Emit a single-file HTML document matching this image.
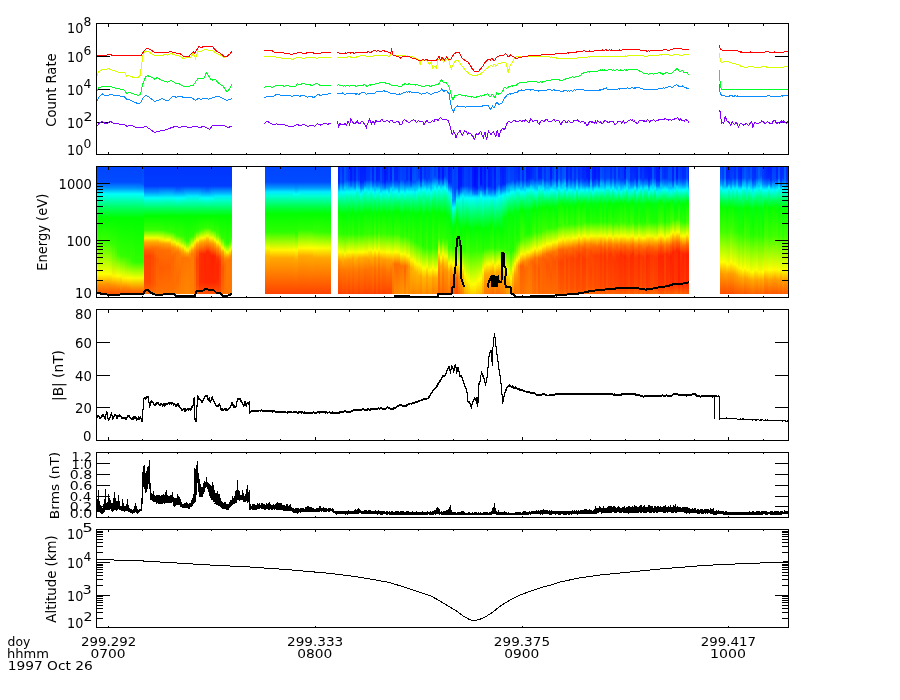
<!DOCTYPE html>
<html lang="en"><head><meta charset="utf-8"><title>1997 Oct 26 time series</title>
<style>html,body{margin:0;padding:0;background:#fff}svg{display:block}text{font-family:"DejaVu Sans","Liberation Sans",sans-serif;fill:#000}.y{font-size:13.7px}.s{font-size:12.35px}.e{font-size:12.6px}.x{font-size:12.35px}</style></head><body>
<svg width="900" height="700" viewBox="0 0 900 700">
<rect width="900" height="700" fill="#fff"/>
<defs><linearGradient id="g0" x1="0" y1="0" x2="0" y2="1"><stop offset="0" stop-color="#0044ff"/><stop offset="0.125" stop-color="#004bff"/><stop offset="0.172" stop-color="#0090ff"/><stop offset="0.219" stop-color="#00fff9"/><stop offset="0.328" stop-color="#00ff5c"/><stop offset="0.406" stop-color="#00ff00"/><stop offset="0.578" stop-color="#37ff00"/><stop offset="0.844" stop-color="#ffff00"/><stop offset="0.922" stop-color="#ff9400"/><stop offset="1" stop-color="#ff5300"/></linearGradient><linearGradient id="g1" x1="0" y1="0" x2="0" y2="1"><stop offset="0" stop-color="#0044ff"/><stop offset="0.125" stop-color="#004bff"/><stop offset="0.172" stop-color="#0090ff"/><stop offset="0.219" stop-color="#00fff9"/><stop offset="0.328" stop-color="#00ff5c"/><stop offset="0.406" stop-color="#00ff00"/><stop offset="0.578" stop-color="#35ff00"/><stop offset="0.844" stop-color="#ffff00"/><stop offset="0.922" stop-color="#ff9400"/><stop offset="1" stop-color="#ff5300"/></linearGradient><linearGradient id="g2" x1="0" y1="0" x2="0" y2="1"><stop offset="0" stop-color="#0044ff"/><stop offset="0.125" stop-color="#004bff"/><stop offset="0.172" stop-color="#0090ff"/><stop offset="0.219" stop-color="#00fff9"/><stop offset="0.328" stop-color="#00ff5c"/><stop offset="0.406" stop-color="#00ff00"/><stop offset="0.594" stop-color="#3eff00"/><stop offset="0.844" stop-color="#ffff00"/><stop offset="0.922" stop-color="#ff9400"/><stop offset="1" stop-color="#ff5300"/></linearGradient><linearGradient id="g3" x1="0" y1="0" x2="0" y2="1"><stop offset="0" stop-color="#0044ff"/><stop offset="0.125" stop-color="#004bff"/><stop offset="0.172" stop-color="#0090ff"/><stop offset="0.219" stop-color="#00fff9"/><stop offset="0.328" stop-color="#00ff5c"/><stop offset="0.406" stop-color="#00ff00"/><stop offset="0.594" stop-color="#3cff00"/><stop offset="0.844" stop-color="#ffff00"/><stop offset="0.922" stop-color="#ff9400"/><stop offset="1" stop-color="#ff5300"/></linearGradient><linearGradient id="g4" x1="0" y1="0" x2="0" y2="1"><stop offset="0" stop-color="#0044ff"/><stop offset="0.125" stop-color="#004bff"/><stop offset="0.172" stop-color="#0090ff"/><stop offset="0.219" stop-color="#00fff9"/><stop offset="0.328" stop-color="#00ff5c"/><stop offset="0.406" stop-color="#00ff00"/><stop offset="0.594" stop-color="#39ff00"/><stop offset="0.844" stop-color="#feff00"/><stop offset="0.922" stop-color="#ff9400"/><stop offset="1" stop-color="#ff5300"/></linearGradient><linearGradient id="g5" x1="0" y1="0" x2="0" y2="1"><stop offset="0" stop-color="#0044ff"/><stop offset="0.125" stop-color="#004bff"/><stop offset="0.172" stop-color="#0090ff"/><stop offset="0.219" stop-color="#00fff9"/><stop offset="0.328" stop-color="#00ff5c"/><stop offset="0.406" stop-color="#00ff00"/><stop offset="0.594" stop-color="#33ff00"/><stop offset="0.766" stop-color="#b3ff00"/><stop offset="0.844" stop-color="#f8ff00"/><stop offset="0.938" stop-color="#ff8700"/><stop offset="1" stop-color="#ff5300"/></linearGradient><linearGradient id="g6" x1="0" y1="0" x2="0" y2="1"><stop offset="0" stop-color="#0044ff"/><stop offset="0.125" stop-color="#004bff"/><stop offset="0.172" stop-color="#0090ff"/><stop offset="0.219" stop-color="#00fff9"/><stop offset="0.328" stop-color="#00ff5c"/><stop offset="0.406" stop-color="#00ff00"/><stop offset="0.609" stop-color="#35ff00"/><stop offset="0.719" stop-color="#78ff00"/><stop offset="0.859" stop-color="#fff400"/><stop offset="0.938" stop-color="#ff8900"/><stop offset="1" stop-color="#ff5300"/></linearGradient><linearGradient id="g7" x1="0" y1="0" x2="0" y2="1"><stop offset="0" stop-color="#0044ff"/><stop offset="0.125" stop-color="#004bff"/><stop offset="0.172" stop-color="#0090ff"/><stop offset="0.219" stop-color="#00fff9"/><stop offset="0.328" stop-color="#00ff5c"/><stop offset="0.406" stop-color="#00ff00"/><stop offset="0.641" stop-color="#39ff00"/><stop offset="0.719" stop-color="#67ff00"/><stop offset="0.859" stop-color="#fffb00"/><stop offset="0.938" stop-color="#ff8c00"/><stop offset="1" stop-color="#ff5300"/></linearGradient><linearGradient id="g8" x1="0" y1="0" x2="0" y2="1"><stop offset="0" stop-color="#0044ff"/><stop offset="0.125" stop-color="#004bff"/><stop offset="0.172" stop-color="#0090ff"/><stop offset="0.219" stop-color="#00fff9"/><stop offset="0.328" stop-color="#00ff5c"/><stop offset="0.406" stop-color="#00ff00"/><stop offset="0.688" stop-color="#39ff00"/><stop offset="0.859" stop-color="#fcff00"/><stop offset="0.953" stop-color="#ff7d00"/><stop offset="1" stop-color="#ff5300"/></linearGradient><linearGradient id="g9" x1="0" y1="0" x2="0" y2="1"><stop offset="0" stop-color="#0044ff"/><stop offset="0.125" stop-color="#004bff"/><stop offset="0.172" stop-color="#0090ff"/><stop offset="0.219" stop-color="#00fff9"/><stop offset="0.328" stop-color="#00ff5c"/><stop offset="0.406" stop-color="#00ff00"/><stop offset="0.703" stop-color="#36ff00"/><stop offset="0.859" stop-color="#f4ff00"/><stop offset="0.906" stop-color="#ffba00"/><stop offset="1" stop-color="#ff5300"/></linearGradient><linearGradient id="g10" x1="0" y1="0" x2="0" y2="1"><stop offset="0" stop-color="#0044ff"/><stop offset="0.125" stop-color="#004bff"/><stop offset="0.172" stop-color="#0090ff"/><stop offset="0.219" stop-color="#00fff9"/><stop offset="0.328" stop-color="#00ff5c"/><stop offset="0.406" stop-color="#00ff00"/><stop offset="0.703" stop-color="#33ff00"/><stop offset="0.844" stop-color="#dbff00"/><stop offset="0.875" stop-color="#fff600"/><stop offset="0.953" stop-color="#ff8100"/><stop offset="1" stop-color="#ff5300"/></linearGradient><linearGradient id="g11" x1="0" y1="0" x2="0" y2="1"><stop offset="0" stop-color="#0044ff"/><stop offset="0.125" stop-color="#004bff"/><stop offset="0.172" stop-color="#0090ff"/><stop offset="0.219" stop-color="#00fff9"/><stop offset="0.328" stop-color="#00ff5c"/><stop offset="0.406" stop-color="#00ff00"/><stop offset="0.703" stop-color="#31ff00"/><stop offset="0.766" stop-color="#6bff00"/><stop offset="0.875" stop-color="#fffa00"/><stop offset="0.938" stop-color="#ff9600"/><stop offset="1" stop-color="#ff5300"/></linearGradient><linearGradient id="g12" x1="0" y1="0" x2="0" y2="1"><stop offset="0" stop-color="#0044ff"/><stop offset="0.125" stop-color="#004bff"/><stop offset="0.172" stop-color="#0090ff"/><stop offset="0.219" stop-color="#00fff9"/><stop offset="0.328" stop-color="#00ff5c"/><stop offset="0.406" stop-color="#00ff00"/><stop offset="0.703" stop-color="#2eff00"/><stop offset="0.766" stop-color="#61ff00"/><stop offset="0.875" stop-color="#fffd00"/><stop offset="0.953" stop-color="#ff8600"/><stop offset="1" stop-color="#ff5300"/></linearGradient><linearGradient id="g13" x1="0" y1="0" x2="0" y2="1"><stop offset="0" stop-color="#0044ff"/><stop offset="0.125" stop-color="#004bff"/><stop offset="0.172" stop-color="#0090ff"/><stop offset="0.219" stop-color="#00fff9"/><stop offset="0.328" stop-color="#00ff5c"/><stop offset="0.406" stop-color="#00ff00"/><stop offset="0.734" stop-color="#39ff00"/><stop offset="0.766" stop-color="#57ff00"/><stop offset="0.875" stop-color="#fcff00"/><stop offset="0.969" stop-color="#ff7600"/><stop offset="1" stop-color="#ff5300"/></linearGradient><linearGradient id="g14" x1="0" y1="0" x2="0" y2="1"><stop offset="0" stop-color="#0044ff"/><stop offset="0.125" stop-color="#004bff"/><stop offset="0.172" stop-color="#0090ff"/><stop offset="0.219" stop-color="#00fff9"/><stop offset="0.328" stop-color="#00ff5c"/><stop offset="0.406" stop-color="#00ff00"/><stop offset="0.75" stop-color="#35ff00"/><stop offset="0.875" stop-color="#f6ff00"/><stop offset="0.984" stop-color="#ff6500"/><stop offset="1" stop-color="#ff5300"/></linearGradient><linearGradient id="g15" x1="0" y1="0" x2="0" y2="1"><stop offset="0" stop-color="#0044ff"/><stop offset="0.125" stop-color="#004bff"/><stop offset="0.172" stop-color="#008fff"/><stop offset="0.219" stop-color="#00fff9"/><stop offset="0.328" stop-color="#00ff5c"/><stop offset="0.406" stop-color="#00ff00"/><stop offset="0.75" stop-color="#2dff00"/><stop offset="0.875" stop-color="#f3ff00"/><stop offset="0.969" stop-color="#ff7900"/><stop offset="1" stop-color="#ff5300"/></linearGradient><linearGradient id="g16" x1="0" y1="0" x2="0" y2="1"><stop offset="0" stop-color="#0044ff"/><stop offset="0.125" stop-color="#004bff"/><stop offset="0.172" stop-color="#008dff"/><stop offset="0.219" stop-color="#00fffb"/><stop offset="0.328" stop-color="#00ff5d"/><stop offset="0.406" stop-color="#00ff00"/><stop offset="0.75" stop-color="#2dff00"/><stop offset="0.875" stop-color="#f3ff00"/><stop offset="0.969" stop-color="#ff7900"/><stop offset="1" stop-color="#ff5300"/></linearGradient><linearGradient id="g17" x1="0" y1="0" x2="0" y2="1"><stop offset="0" stop-color="#0044ff"/><stop offset="0.125" stop-color="#004bff"/><stop offset="0.172" stop-color="#008cff"/><stop offset="0.219" stop-color="#00fffd"/><stop offset="0.328" stop-color="#00ff5d"/><stop offset="0.406" stop-color="#00ff00"/><stop offset="0.75" stop-color="#2dff00"/><stop offset="0.875" stop-color="#f3ff00"/><stop offset="0.969" stop-color="#ff7900"/><stop offset="1" stop-color="#ff5300"/></linearGradient><linearGradient id="g18" x1="0" y1="0" x2="0" y2="1"><stop offset="0" stop-color="#0044ff"/><stop offset="0.141" stop-color="#0056ff"/><stop offset="0.188" stop-color="#00aeff"/><stop offset="0.219" stop-color="#00fffe"/><stop offset="0.328" stop-color="#00ff5e"/><stop offset="0.406" stop-color="#00ff00"/><stop offset="0.75" stop-color="#2dff00"/><stop offset="0.875" stop-color="#f3ff00"/><stop offset="0.969" stop-color="#ff7900"/><stop offset="1" stop-color="#ff5300"/></linearGradient><linearGradient id="g19" x1="0" y1="0" x2="0" y2="1"><stop offset="0" stop-color="#0034ff"/><stop offset="0.156" stop-color="#003cff"/><stop offset="0.203" stop-color="#0090ff"/><stop offset="0.25" stop-color="#00fff7"/><stop offset="0.328" stop-color="#00ff62"/><stop offset="0.391" stop-color="#00ff00"/><stop offset="0.5" stop-color="#39ff00"/><stop offset="0.562" stop-color="#f3ff00"/><stop offset="0.594" stop-color="#ffaa00"/><stop offset="0.656" stop-color="#ff5f00"/><stop offset="0.703" stop-color="#ff4200"/><stop offset="0.906" stop-color="#ff4800"/><stop offset="1" stop-color="#ff6d00"/></linearGradient><linearGradient id="g20" x1="0" y1="0" x2="0" y2="1"><stop offset="0" stop-color="#0034ff"/><stop offset="0.156" stop-color="#003cff"/><stop offset="0.203" stop-color="#0090ff"/><stop offset="0.25" stop-color="#00fff7"/><stop offset="0.328" stop-color="#00ff62"/><stop offset="0.391" stop-color="#00ff00"/><stop offset="0.5" stop-color="#39ff00"/><stop offset="0.562" stop-color="#f3ff00"/><stop offset="0.594" stop-color="#ffaa00"/><stop offset="0.656" stop-color="#ff5f00"/><stop offset="0.703" stop-color="#ff4200"/><stop offset="0.906" stop-color="#ff4800"/><stop offset="1" stop-color="#ff6d00"/></linearGradient><linearGradient id="g21" x1="0" y1="0" x2="0" y2="1"><stop offset="0" stop-color="#0034ff"/><stop offset="0.156" stop-color="#003cff"/><stop offset="0.203" stop-color="#0090ff"/><stop offset="0.25" stop-color="#00fff7"/><stop offset="0.328" stop-color="#00ff62"/><stop offset="0.391" stop-color="#00ff00"/><stop offset="0.5" stop-color="#39ff00"/><stop offset="0.562" stop-color="#f3ff00"/><stop offset="0.594" stop-color="#ffaa00"/><stop offset="0.656" stop-color="#ff5f00"/><stop offset="0.703" stop-color="#ff4200"/><stop offset="0.906" stop-color="#ff4800"/><stop offset="1" stop-color="#ff6d00"/></linearGradient><linearGradient id="g22" x1="0" y1="0" x2="0" y2="1"><stop offset="0" stop-color="#0034ff"/><stop offset="0.156" stop-color="#003cff"/><stop offset="0.203" stop-color="#0090ff"/><stop offset="0.25" stop-color="#00fff7"/><stop offset="0.328" stop-color="#00ff62"/><stop offset="0.391" stop-color="#00ff00"/><stop offset="0.5" stop-color="#39ff00"/><stop offset="0.562" stop-color="#f3ff00"/><stop offset="0.594" stop-color="#ffaa00"/><stop offset="0.641" stop-color="#ff6d00"/><stop offset="0.703" stop-color="#ff4a00"/><stop offset="0.922" stop-color="#ff5500"/><stop offset="1" stop-color="#ff7000"/></linearGradient><linearGradient id="g23" x1="0" y1="0" x2="0" y2="1"><stop offset="0" stop-color="#0034ff"/><stop offset="0.156" stop-color="#003cff"/><stop offset="0.203" stop-color="#0090ff"/><stop offset="0.25" stop-color="#00fff7"/><stop offset="0.328" stop-color="#00ff62"/><stop offset="0.391" stop-color="#00ff00"/><stop offset="0.5" stop-color="#39ff00"/><stop offset="0.562" stop-color="#f3ff00"/><stop offset="0.594" stop-color="#ffaa00"/><stop offset="0.641" stop-color="#ff6f00"/><stop offset="0.719" stop-color="#ff5300"/><stop offset="0.922" stop-color="#ff5c00"/><stop offset="1" stop-color="#ff7300"/></linearGradient><linearGradient id="g24" x1="0" y1="0" x2="0" y2="1"><stop offset="0" stop-color="#0034ff"/><stop offset="0.156" stop-color="#003cff"/><stop offset="0.203" stop-color="#0090ff"/><stop offset="0.25" stop-color="#00fff7"/><stop offset="0.328" stop-color="#00ff62"/><stop offset="0.391" stop-color="#00ff00"/><stop offset="0.5" stop-color="#38ff00"/><stop offset="0.562" stop-color="#f2ff00"/><stop offset="0.594" stop-color="#ffab00"/><stop offset="0.641" stop-color="#ff7100"/><stop offset="0.734" stop-color="#ff5c00"/><stop offset="0.953" stop-color="#ff6a00"/><stop offset="1" stop-color="#ff7600"/></linearGradient><linearGradient id="g25" x1="0" y1="0" x2="0" y2="1"><stop offset="0" stop-color="#0034ff"/><stop offset="0.156" stop-color="#003cff"/><stop offset="0.219" stop-color="#00baff"/><stop offset="0.25" stop-color="#00fff5"/><stop offset="0.328" stop-color="#00ff61"/><stop offset="0.391" stop-color="#00ff00"/><stop offset="0.5" stop-color="#35ff00"/><stop offset="0.562" stop-color="#e9ff00"/><stop offset="0.578" stop-color="#ffe400"/><stop offset="0.609" stop-color="#ff9800"/><stop offset="0.656" stop-color="#ff6c00"/><stop offset="0.797" stop-color="#ff5c00"/><stop offset="0.969" stop-color="#ff6e00"/><stop offset="1" stop-color="#ff7600"/></linearGradient><linearGradient id="g26" x1="0" y1="0" x2="0" y2="1"><stop offset="0" stop-color="#0034ff"/><stop offset="0.156" stop-color="#003cff"/><stop offset="0.219" stop-color="#00bcff"/><stop offset="0.25" stop-color="#00fff4"/><stop offset="0.328" stop-color="#00ff61"/><stop offset="0.391" stop-color="#00ff00"/><stop offset="0.5" stop-color="#32ff00"/><stop offset="0.562" stop-color="#e0ff00"/><stop offset="0.578" stop-color="#ffed00"/><stop offset="0.609" stop-color="#ff9c00"/><stop offset="0.656" stop-color="#ff6d00"/><stop offset="0.797" stop-color="#ff5d00"/><stop offset="0.969" stop-color="#ff6f00"/><stop offset="1" stop-color="#ff7600"/></linearGradient><linearGradient id="g27" x1="0" y1="0" x2="0" y2="1"><stop offset="0" stop-color="#0034ff"/><stop offset="0.156" stop-color="#003cff"/><stop offset="0.219" stop-color="#00beff"/><stop offset="0.25" stop-color="#00fff2"/><stop offset="0.328" stop-color="#00ff60"/><stop offset="0.391" stop-color="#00ff00"/><stop offset="0.5" stop-color="#2fff00"/><stop offset="0.531" stop-color="#7aff00"/><stop offset="0.578" stop-color="#fff500"/><stop offset="0.609" stop-color="#ffa100"/><stop offset="0.656" stop-color="#ff6e00"/><stop offset="0.797" stop-color="#ff5e00"/><stop offset="0.984" stop-color="#ff7200"/><stop offset="1" stop-color="#ff7600"/></linearGradient><linearGradient id="g28" x1="0" y1="0" x2="0" y2="1"><stop offset="0" stop-color="#0034ff"/><stop offset="0.156" stop-color="#003cff"/><stop offset="0.219" stop-color="#00bfff"/><stop offset="0.25" stop-color="#00fff1"/><stop offset="0.328" stop-color="#00ff60"/><stop offset="0.391" stop-color="#00ff00"/><stop offset="0.5" stop-color="#2cff00"/><stop offset="0.516" stop-color="#43ff00"/><stop offset="0.578" stop-color="#fffe00"/><stop offset="0.609" stop-color="#ffa500"/><stop offset="0.656" stop-color="#ff7000"/><stop offset="0.781" stop-color="#ff5f00"/><stop offset="0.969" stop-color="#ff6f00"/><stop offset="1" stop-color="#ff7600"/></linearGradient><linearGradient id="g29" x1="0" y1="0" x2="0" y2="1"><stop offset="0" stop-color="#0034ff"/><stop offset="0.156" stop-color="#003cff"/><stop offset="0.219" stop-color="#00c1ff"/><stop offset="0.25" stop-color="#00ffef"/><stop offset="0.328" stop-color="#00ff5f"/><stop offset="0.391" stop-color="#00ff00"/><stop offset="0.516" stop-color="#3aff00"/><stop offset="0.578" stop-color="#f5ff00"/><stop offset="0.609" stop-color="#ffaa00"/><stop offset="0.656" stop-color="#ff7100"/><stop offset="0.781" stop-color="#ff6000"/><stop offset="0.984" stop-color="#ff7200"/><stop offset="1" stop-color="#ff7600"/></linearGradient><linearGradient id="g30" x1="0" y1="0" x2="0" y2="1"><stop offset="0" stop-color="#0034ff"/><stop offset="0.156" stop-color="#003cff"/><stop offset="0.219" stop-color="#00bcff"/><stop offset="0.25" stop-color="#00fff4"/><stop offset="0.328" stop-color="#00ff61"/><stop offset="0.391" stop-color="#00ff00"/><stop offset="0.516" stop-color="#33ff00"/><stop offset="0.562" stop-color="#abff00"/><stop offset="0.594" stop-color="#fff000"/><stop offset="0.641" stop-color="#ff8800"/><stop offset="0.719" stop-color="#ff6400"/><stop offset="0.953" stop-color="#ff6f00"/><stop offset="1" stop-color="#ff7800"/></linearGradient><linearGradient id="g31" x1="0" y1="0" x2="0" y2="1"><stop offset="0" stop-color="#0034ff"/><stop offset="0.156" stop-color="#003cff"/><stop offset="0.203" stop-color="#008fff"/><stop offset="0.25" stop-color="#00fff9"/><stop offset="0.328" stop-color="#00ff62"/><stop offset="0.391" stop-color="#00ff00"/><stop offset="0.516" stop-color="#2dff00"/><stop offset="0.547" stop-color="#60ff00"/><stop offset="0.594" stop-color="#f3ff00"/><stop offset="0.641" stop-color="#ff9600"/><stop offset="0.688" stop-color="#ff6e00"/><stop offset="0.938" stop-color="#ff7000"/><stop offset="1" stop-color="#ff7b00"/></linearGradient><linearGradient id="g32" x1="0" y1="0" x2="0" y2="1"><stop offset="0" stop-color="#0034ff"/><stop offset="0.156" stop-color="#003cff"/><stop offset="0.188" stop-color="#0069ff"/><stop offset="0.25" stop-color="#00fffe"/><stop offset="0.328" stop-color="#00ff64"/><stop offset="0.391" stop-color="#00ff00"/><stop offset="0.531" stop-color="#30ff00"/><stop offset="0.547" stop-color="#44ff00"/><stop offset="0.609" stop-color="#fffd00"/><stop offset="0.641" stop-color="#ffa500"/><stop offset="0.672" stop-color="#ff7900"/><stop offset="0.891" stop-color="#ff6c00"/><stop offset="1" stop-color="#ff7d00"/></linearGradient><linearGradient id="g33" x1="0" y1="0" x2="0" y2="1"><stop offset="0" stop-color="#0034ff"/><stop offset="0.156" stop-color="#003cff"/><stop offset="0.188" stop-color="#006aff"/><stop offset="0.25" stop-color="#00fffc"/><stop offset="0.328" stop-color="#00ff63"/><stop offset="0.391" stop-color="#00ff00"/><stop offset="0.547" stop-color="#37ff00"/><stop offset="0.609" stop-color="#dcff00"/><stop offset="0.625" stop-color="#ffed00"/><stop offset="0.656" stop-color="#ffa400"/><stop offset="0.688" stop-color="#ff7d00"/><stop offset="0.828" stop-color="#ff7000"/><stop offset="1" stop-color="#ff8000"/></linearGradient><linearGradient id="g34" x1="0" y1="0" x2="0" y2="1"><stop offset="0" stop-color="#0034ff"/><stop offset="0.156" stop-color="#003cff"/><stop offset="0.203" stop-color="#0090ff"/><stop offset="0.25" stop-color="#00fff7"/><stop offset="0.328" stop-color="#00ff62"/><stop offset="0.391" stop-color="#00ff00"/><stop offset="0.547" stop-color="#30ff00"/><stop offset="0.594" stop-color="#89ff00"/><stop offset="0.625" stop-color="#f0ff00"/><stop offset="0.672" stop-color="#ff9f00"/><stop offset="0.719" stop-color="#ff7200"/><stop offset="1" stop-color="#ff8200"/></linearGradient><linearGradient id="g35" x1="0" y1="0" x2="0" y2="1"><stop offset="0" stop-color="#0034ff"/><stop offset="0.156" stop-color="#003cff"/><stop offset="0.219" stop-color="#00bdff"/><stop offset="0.25" stop-color="#00fff3"/><stop offset="0.328" stop-color="#00ff60"/><stop offset="0.391" stop-color="#00ff00"/><stop offset="0.547" stop-color="#2aff00"/><stop offset="0.578" stop-color="#46ff00"/><stop offset="0.609" stop-color="#94ff00"/><stop offset="0.641" stop-color="#faff00"/><stop offset="0.688" stop-color="#ff9800"/><stop offset="0.719" stop-color="#ff7400"/><stop offset="1" stop-color="#ff8500"/></linearGradient><linearGradient id="g36" x1="0" y1="0" x2="0" y2="1"><stop offset="0" stop-color="#0034ff"/><stop offset="0.156" stop-color="#003cff"/><stop offset="0.219" stop-color="#00c2ff"/><stop offset="0.234" stop-color="#00ebff"/><stop offset="0.266" stop-color="#00ffcf"/><stop offset="0.359" stop-color="#00ff30"/><stop offset="0.391" stop-color="#00ff00"/><stop offset="0.578" stop-color="#2fff00"/><stop offset="0.594" stop-color="#49ff00"/><stop offset="0.656" stop-color="#fffb00"/><stop offset="0.688" stop-color="#ffa200"/><stop offset="0.719" stop-color="#ff7500"/><stop offset="1" stop-color="#ff8700"/></linearGradient><linearGradient id="g37" x1="0" y1="0" x2="0" y2="1"><stop offset="0" stop-color="#0034ff"/><stop offset="0.156" stop-color="#003cff"/><stop offset="0.219" stop-color="#00c2ff"/><stop offset="0.234" stop-color="#00ebff"/><stop offset="0.266" stop-color="#00ffcf"/><stop offset="0.359" stop-color="#00ff30"/><stop offset="0.391" stop-color="#00ff00"/><stop offset="0.547" stop-color="#28ff00"/><stop offset="0.594" stop-color="#7aff00"/><stop offset="0.641" stop-color="#fff000"/><stop offset="0.688" stop-color="#ff8f00"/><stop offset="0.734" stop-color="#ff7700"/><stop offset="1" stop-color="#ff8300"/></linearGradient><linearGradient id="g38" x1="0" y1="0" x2="0" y2="1"><stop offset="0" stop-color="#0034ff"/><stop offset="0.156" stop-color="#003cff"/><stop offset="0.219" stop-color="#00c2ff"/><stop offset="0.234" stop-color="#00ebff"/><stop offset="0.266" stop-color="#00ffcf"/><stop offset="0.359" stop-color="#00ff30"/><stop offset="0.391" stop-color="#00ff00"/><stop offset="0.547" stop-color="#2cff00"/><stop offset="0.609" stop-color="#d9ff00"/><stop offset="0.625" stop-color="#fff200"/><stop offset="0.656" stop-color="#ffa300"/><stop offset="0.688" stop-color="#ff7b00"/><stop offset="1" stop-color="#ff7f00"/></linearGradient><linearGradient id="g39" x1="0" y1="0" x2="0" y2="1"><stop offset="0" stop-color="#0034ff"/><stop offset="0.156" stop-color="#003cff"/><stop offset="0.219" stop-color="#00c2ff"/><stop offset="0.234" stop-color="#00ebff"/><stop offset="0.266" stop-color="#00ffcf"/><stop offset="0.359" stop-color="#00ff30"/><stop offset="0.391" stop-color="#00ff00"/><stop offset="0.516" stop-color="#28ff00"/><stop offset="0.547" stop-color="#5cff00"/><stop offset="0.594" stop-color="#edff00"/><stop offset="0.625" stop-color="#ffbe00"/><stop offset="0.656" stop-color="#ff8500"/><stop offset="0.719" stop-color="#ff6400"/><stop offset="0.984" stop-color="#ff7300"/><stop offset="1" stop-color="#ff7600"/></linearGradient><linearGradient id="g40" x1="0" y1="0" x2="0" y2="1"><stop offset="0" stop-color="#0034ff"/><stop offset="0.156" stop-color="#003cff"/><stop offset="0.219" stop-color="#00c2ff"/><stop offset="0.234" stop-color="#00ebff"/><stop offset="0.266" stop-color="#00ffcf"/><stop offset="0.359" stop-color="#00ff30"/><stop offset="0.391" stop-color="#00ff00"/><stop offset="0.5" stop-color="#29ff00"/><stop offset="0.516" stop-color="#3eff00"/><stop offset="0.578" stop-color="#fdff00"/><stop offset="0.609" stop-color="#ffaa00"/><stop offset="0.672" stop-color="#ff5b00"/><stop offset="0.734" stop-color="#ff4300"/><stop offset="0.922" stop-color="#ff4c00"/><stop offset="1" stop-color="#ff6300"/></linearGradient><linearGradient id="g41" x1="0" y1="0" x2="0" y2="1"><stop offset="0" stop-color="#0034ff"/><stop offset="0.156" stop-color="#003cff"/><stop offset="0.219" stop-color="#00bfff"/><stop offset="0.25" stop-color="#00fff1"/><stop offset="0.328" stop-color="#00ff60"/><stop offset="0.391" stop-color="#00ff00"/><stop offset="0.5" stop-color="#35ff00"/><stop offset="0.562" stop-color="#f2ff00"/><stop offset="0.609" stop-color="#ff9500"/><stop offset="0.688" stop-color="#ff2f00"/><stop offset="0.906" stop-color="#ff2d00"/><stop offset="1" stop-color="#ff5300"/></linearGradient><linearGradient id="g42" x1="0" y1="0" x2="0" y2="1"><stop offset="0" stop-color="#0034ff"/><stop offset="0.156" stop-color="#003cff"/><stop offset="0.203" stop-color="#0092ff"/><stop offset="0.25" stop-color="#00fff6"/><stop offset="0.328" stop-color="#00ff61"/><stop offset="0.391" stop-color="#00ff00"/><stop offset="0.484" stop-color="#2cff00"/><stop offset="0.5" stop-color="#45ff00"/><stop offset="0.562" stop-color="#fffa00"/><stop offset="0.594" stop-color="#ffa600"/><stop offset="0.688" stop-color="#ff2a00"/><stop offset="0.906" stop-color="#ff2b00"/><stop offset="1" stop-color="#ff5300"/></linearGradient><linearGradient id="g43" x1="0" y1="0" x2="0" y2="1"><stop offset="0" stop-color="#0034ff"/><stop offset="0.156" stop-color="#003cff"/><stop offset="0.203" stop-color="#008dff"/><stop offset="0.25" stop-color="#00fffb"/><stop offset="0.328" stop-color="#00ff63"/><stop offset="0.391" stop-color="#00ff00"/><stop offset="0.484" stop-color="#30ff00"/><stop offset="0.547" stop-color="#e0ff00"/><stop offset="0.562" stop-color="#ffec00"/><stop offset="0.594" stop-color="#ff9d00"/><stop offset="0.688" stop-color="#ff2400"/><stop offset="0.906" stop-color="#ff2900"/><stop offset="1" stop-color="#ff5300"/></linearGradient><linearGradient id="g44" x1="0" y1="0" x2="0" y2="1"><stop offset="0" stop-color="#0034ff"/><stop offset="0.156" stop-color="#003cff"/><stop offset="0.188" stop-color="#0068ff"/><stop offset="0.25" stop-color="#00fffe"/><stop offset="0.328" stop-color="#00ff64"/><stop offset="0.391" stop-color="#00ff00"/><stop offset="0.484" stop-color="#33ff00"/><stop offset="0.547" stop-color="#ecff00"/><stop offset="0.578" stop-color="#ffb100"/><stop offset="0.672" stop-color="#ff2800"/><stop offset="0.906" stop-color="#ff2700"/><stop offset="1" stop-color="#ff5300"/></linearGradient><linearGradient id="g45" x1="0" y1="0" x2="0" y2="1"><stop offset="0" stop-color="#0035ff"/><stop offset="0.156" stop-color="#003cff"/><stop offset="0.203" stop-color="#008fff"/><stop offset="0.25" stop-color="#00fff9"/><stop offset="0.328" stop-color="#00ff62"/><stop offset="0.391" stop-color="#00ff00"/><stop offset="0.484" stop-color="#2eff00"/><stop offset="0.531" stop-color="#a7ff00"/><stop offset="0.562" stop-color="#fff500"/><stop offset="0.609" stop-color="#ff8a00"/><stop offset="0.688" stop-color="#ff2500"/><stop offset="0.906" stop-color="#ff2700"/><stop offset="1" stop-color="#ff5300"/></linearGradient><linearGradient id="g46" x1="0" y1="0" x2="0" y2="1"><stop offset="0" stop-color="#0034ff"/><stop offset="0.156" stop-color="#003cff"/><stop offset="0.219" stop-color="#00bdff"/><stop offset="0.25" stop-color="#00fff3"/><stop offset="0.328" stop-color="#00ff60"/><stop offset="0.391" stop-color="#00ff00"/><stop offset="0.5" stop-color="#39ff00"/><stop offset="0.562" stop-color="#f2ff00"/><stop offset="0.609" stop-color="#ff9500"/><stop offset="0.703" stop-color="#ff2000"/><stop offset="0.906" stop-color="#ff2700"/><stop offset="1" stop-color="#ff5300"/></linearGradient><linearGradient id="g47" x1="0" y1="0" x2="0" y2="1"><stop offset="0" stop-color="#0034ff"/><stop offset="0.156" stop-color="#003cff"/><stop offset="0.219" stop-color="#00c2ff"/><stop offset="0.234" stop-color="#00ebff"/><stop offset="0.266" stop-color="#00ffcf"/><stop offset="0.359" stop-color="#00ff30"/><stop offset="0.391" stop-color="#00ff00"/><stop offset="0.5" stop-color="#2aff00"/><stop offset="0.562" stop-color="#ceff00"/><stop offset="0.578" stop-color="#fffd00"/><stop offset="0.609" stop-color="#ffaa00"/><stop offset="0.703" stop-color="#ff2700"/><stop offset="0.906" stop-color="#ff2800"/><stop offset="1" stop-color="#ff5300"/></linearGradient><linearGradient id="g48" x1="0" y1="0" x2="0" y2="1"><stop offset="0" stop-color="#0034ff"/><stop offset="0.156" stop-color="#003cff"/><stop offset="0.219" stop-color="#00c2ff"/><stop offset="0.234" stop-color="#00ebff"/><stop offset="0.266" stop-color="#00ffcf"/><stop offset="0.359" stop-color="#00ff30"/><stop offset="0.391" stop-color="#00ff00"/><stop offset="0.516" stop-color="#35ff00"/><stop offset="0.547" stop-color="#6aff00"/><stop offset="0.594" stop-color="#fffe00"/><stop offset="0.641" stop-color="#ff9200"/><stop offset="0.719" stop-color="#ff3200"/><stop offset="0.781" stop-color="#ff2500"/><stop offset="0.906" stop-color="#ff2c00"/><stop offset="1" stop-color="#ff5300"/></linearGradient><linearGradient id="g49" x1="0" y1="0" x2="0" y2="1"><stop offset="0" stop-color="#0034ff"/><stop offset="0.156" stop-color="#003cff"/><stop offset="0.219" stop-color="#00c2ff"/><stop offset="0.234" stop-color="#00ebff"/><stop offset="0.266" stop-color="#00ffcf"/><stop offset="0.359" stop-color="#00ff30"/><stop offset="0.391" stop-color="#00ff00"/><stop offset="0.531" stop-color="#29ff00"/><stop offset="0.562" stop-color="#61ff00"/><stop offset="0.609" stop-color="#ebff00"/><stop offset="0.641" stop-color="#ffb700"/><stop offset="0.703" stop-color="#ff5800"/><stop offset="0.75" stop-color="#ff3400"/><stop offset="0.922" stop-color="#ff3e00"/><stop offset="1" stop-color="#ff5900"/></linearGradient><linearGradient id="g50" x1="0" y1="0" x2="0" y2="1"><stop offset="0" stop-color="#0034ff"/><stop offset="0.156" stop-color="#003cff"/><stop offset="0.219" stop-color="#00c2ff"/><stop offset="0.234" stop-color="#00ebff"/><stop offset="0.266" stop-color="#00ffcf"/><stop offset="0.359" stop-color="#00ff30"/><stop offset="0.391" stop-color="#00ff00"/><stop offset="0.562" stop-color="#2bff00"/><stop offset="0.641" stop-color="#fff900"/><stop offset="0.672" stop-color="#ffa400"/><stop offset="0.719" stop-color="#ff6d00"/><stop offset="0.797" stop-color="#ff5500"/><stop offset="0.969" stop-color="#ff6600"/><stop offset="1" stop-color="#ff6d00"/></linearGradient><linearGradient id="g51" x1="0" y1="0" x2="0" y2="1"><stop offset="0" stop-color="#0034ff"/><stop offset="0.156" stop-color="#003cff"/><stop offset="0.219" stop-color="#00c2ff"/><stop offset="0.234" stop-color="#00ebff"/><stop offset="0.266" stop-color="#00ffcf"/><stop offset="0.359" stop-color="#00ff30"/><stop offset="0.391" stop-color="#00ff00"/><stop offset="0.578" stop-color="#34ff00"/><stop offset="0.609" stop-color="#58ff00"/><stop offset="0.656" stop-color="#edff00"/><stop offset="0.688" stop-color="#ffc300"/><stop offset="0.719" stop-color="#ff8900"/><stop offset="0.766" stop-color="#ff6b00"/><stop offset="1" stop-color="#ff7300"/></linearGradient><linearGradient id="g52" x1="0" y1="0" x2="0" y2="1"><stop offset="0" stop-color="#0034ff"/><stop offset="0.156" stop-color="#003cff"/><stop offset="0.219" stop-color="#00c2ff"/><stop offset="0.234" stop-color="#00ebff"/><stop offset="0.266" stop-color="#00ffcf"/><stop offset="0.359" stop-color="#00ff30"/><stop offset="0.391" stop-color="#00ff00"/><stop offset="0.594" stop-color="#2bff00"/><stop offset="0.609" stop-color="#3cff00"/><stop offset="0.672" stop-color="#f8ff00"/><stop offset="0.703" stop-color="#ffaa00"/><stop offset="0.734" stop-color="#ff7b00"/><stop offset="1" stop-color="#ff7600"/></linearGradient><linearGradient id="g53" x1="0" y1="0" x2="0" y2="1"><stop offset="0" stop-color="#0034ff"/><stop offset="0.156" stop-color="#003cff"/><stop offset="0.219" stop-color="#00c2ff"/><stop offset="0.234" stop-color="#00ebff"/><stop offset="0.266" stop-color="#00ffcf"/><stop offset="0.359" stop-color="#00ff30"/><stop offset="0.391" stop-color="#00ff00"/><stop offset="0.578" stop-color="#35ff00"/><stop offset="0.594" stop-color="#43ff00"/><stop offset="0.656" stop-color="#fbff00"/><stop offset="0.703" stop-color="#ff9600"/><stop offset="0.734" stop-color="#ff7600"/><stop offset="1" stop-color="#ff7600"/></linearGradient><linearGradient id="g54" x1="0" y1="0" x2="0" y2="1"><stop offset="0" stop-color="#0034ff"/><stop offset="0.156" stop-color="#003cff"/><stop offset="0.219" stop-color="#00c2ff"/><stop offset="0.234" stop-color="#00ebff"/><stop offset="0.266" stop-color="#00ffcf"/><stop offset="0.359" stop-color="#00ff30"/><stop offset="0.391" stop-color="#00ff00"/><stop offset="0.562" stop-color="#2cff00"/><stop offset="0.641" stop-color="#fff500"/><stop offset="0.672" stop-color="#ffa600"/><stop offset="0.703" stop-color="#ff7d00"/><stop offset="1" stop-color="#ff7600"/></linearGradient><linearGradient id="g55" x1="0" y1="0" x2="0" y2="1"><stop offset="0" stop-color="#0044ff"/><stop offset="0.125" stop-color="#004bff"/><stop offset="0.172" stop-color="#009aff"/><stop offset="0.203" stop-color="#00ebff"/><stop offset="0.234" stop-color="#00ffd2"/><stop offset="0.328" stop-color="#00ff38"/><stop offset="0.375" stop-color="#02ff00"/><stop offset="0.516" stop-color="#2dff00"/><stop offset="0.641" stop-color="#f2ff00"/><stop offset="0.703" stop-color="#ffb500"/><stop offset="1" stop-color="#ff4200"/></linearGradient><linearGradient id="g56" x1="0" y1="0" x2="0" y2="1"><stop offset="0" stop-color="#0044ff"/><stop offset="0.125" stop-color="#004bff"/><stop offset="0.172" stop-color="#009aff"/><stop offset="0.203" stop-color="#00ebff"/><stop offset="0.234" stop-color="#00ffd2"/><stop offset="0.328" stop-color="#00ff38"/><stop offset="0.375" stop-color="#02ff00"/><stop offset="0.516" stop-color="#2dff00"/><stop offset="0.641" stop-color="#f2ff00"/><stop offset="0.703" stop-color="#ffb500"/><stop offset="1" stop-color="#ff4200"/></linearGradient><linearGradient id="g57" x1="0" y1="0" x2="0" y2="1"><stop offset="0" stop-color="#0044ff"/><stop offset="0.125" stop-color="#004bff"/><stop offset="0.172" stop-color="#009aff"/><stop offset="0.203" stop-color="#00ebff"/><stop offset="0.234" stop-color="#00ffd2"/><stop offset="0.328" stop-color="#00ff38"/><stop offset="0.375" stop-color="#02ff00"/><stop offset="0.516" stop-color="#2dff00"/><stop offset="0.656" stop-color="#fff600"/><stop offset="0.719" stop-color="#ffa800"/><stop offset="1" stop-color="#ff4200"/></linearGradient><linearGradient id="g58" x1="0" y1="0" x2="0" y2="1"><stop offset="0" stop-color="#0044ff"/><stop offset="0.125" stop-color="#004bff"/><stop offset="0.172" stop-color="#009aff"/><stop offset="0.203" stop-color="#00ebff"/><stop offset="0.234" stop-color="#00ffd2"/><stop offset="0.328" stop-color="#00ff38"/><stop offset="0.375" stop-color="#02ff00"/><stop offset="0.516" stop-color="#2dff00"/><stop offset="0.656" stop-color="#fff600"/><stop offset="0.719" stop-color="#ffa800"/><stop offset="1" stop-color="#ff4200"/></linearGradient><linearGradient id="g59" x1="0" y1="0" x2="0" y2="1"><stop offset="0" stop-color="#0044ff"/><stop offset="0.125" stop-color="#004bff"/><stop offset="0.172" stop-color="#009aff"/><stop offset="0.203" stop-color="#00ebff"/><stop offset="0.234" stop-color="#00ffd2"/><stop offset="0.328" stop-color="#00ff38"/><stop offset="0.375" stop-color="#02ff00"/><stop offset="0.516" stop-color="#2dff00"/><stop offset="0.656" stop-color="#fff700"/><stop offset="0.719" stop-color="#ffa800"/><stop offset="1" stop-color="#ff4200"/></linearGradient><linearGradient id="g60" x1="0" y1="0" x2="0" y2="1"><stop offset="0" stop-color="#0044ff"/><stop offset="0.125" stop-color="#004bff"/><stop offset="0.172" stop-color="#009aff"/><stop offset="0.203" stop-color="#00ebff"/><stop offset="0.234" stop-color="#00ffd2"/><stop offset="0.328" stop-color="#00ff38"/><stop offset="0.375" stop-color="#02ff00"/><stop offset="0.516" stop-color="#2dff00"/><stop offset="0.656" stop-color="#fff700"/><stop offset="0.719" stop-color="#ffa800"/><stop offset="1" stop-color="#ff4200"/></linearGradient><linearGradient id="g61" x1="0" y1="0" x2="0" y2="1"><stop offset="0" stop-color="#0044ff"/><stop offset="0.125" stop-color="#004bff"/><stop offset="0.172" stop-color="#009aff"/><stop offset="0.203" stop-color="#00ebff"/><stop offset="0.234" stop-color="#00ffd2"/><stop offset="0.328" stop-color="#00ff38"/><stop offset="0.375" stop-color="#02ff00"/><stop offset="0.516" stop-color="#2dff00"/><stop offset="0.656" stop-color="#fff700"/><stop offset="0.719" stop-color="#ffa800"/><stop offset="1" stop-color="#ff4200"/></linearGradient><linearGradient id="g62" x1="0" y1="0" x2="0" y2="1"><stop offset="0" stop-color="#0044ff"/><stop offset="0.125" stop-color="#004bff"/><stop offset="0.172" stop-color="#009aff"/><stop offset="0.203" stop-color="#00ebff"/><stop offset="0.234" stop-color="#00ffd2"/><stop offset="0.328" stop-color="#00ff38"/><stop offset="0.375" stop-color="#02ff00"/><stop offset="0.516" stop-color="#2dff00"/><stop offset="0.656" stop-color="#fff800"/><stop offset="0.719" stop-color="#ffa800"/><stop offset="1" stop-color="#ff4200"/></linearGradient><linearGradient id="g63" x1="0" y1="0" x2="0" y2="1"><stop offset="0" stop-color="#0044ff"/><stop offset="0.125" stop-color="#004bff"/><stop offset="0.172" stop-color="#009aff"/><stop offset="0.203" stop-color="#00ebff"/><stop offset="0.234" stop-color="#00ffd2"/><stop offset="0.328" stop-color="#00ff38"/><stop offset="0.375" stop-color="#02ff00"/><stop offset="0.516" stop-color="#2dff00"/><stop offset="0.656" stop-color="#fff800"/><stop offset="0.719" stop-color="#ffa800"/><stop offset="1" stop-color="#ff4200"/></linearGradient><linearGradient id="g64" x1="0" y1="0" x2="0" y2="1"><stop offset="0" stop-color="#0044ff"/><stop offset="0.125" stop-color="#004bff"/><stop offset="0.172" stop-color="#009aff"/><stop offset="0.203" stop-color="#00ebff"/><stop offset="0.234" stop-color="#00ffd2"/><stop offset="0.328" stop-color="#00ff38"/><stop offset="0.375" stop-color="#02ff00"/><stop offset="0.516" stop-color="#2dff00"/><stop offset="0.656" stop-color="#fff900"/><stop offset="0.719" stop-color="#ffa900"/><stop offset="1" stop-color="#ff4200"/></linearGradient><linearGradient id="g65" x1="0" y1="0" x2="0" y2="1"><stop offset="0" stop-color="#0044ff"/><stop offset="0.125" stop-color="#004bff"/><stop offset="0.172" stop-color="#009aff"/><stop offset="0.203" stop-color="#00ebff"/><stop offset="0.234" stop-color="#00ffd2"/><stop offset="0.328" stop-color="#00ff38"/><stop offset="0.375" stop-color="#02ff00"/><stop offset="0.516" stop-color="#2dff00"/><stop offset="0.656" stop-color="#fff900"/><stop offset="0.719" stop-color="#ffa900"/><stop offset="1" stop-color="#ff4200"/></linearGradient><linearGradient id="g66" x1="0" y1="0" x2="0" y2="1"><stop offset="0" stop-color="#0044ff"/><stop offset="0.125" stop-color="#004bff"/><stop offset="0.172" stop-color="#0097ff"/><stop offset="0.203" stop-color="#00e8ff"/><stop offset="0.219" stop-color="#00fff2"/><stop offset="0.297" stop-color="#00ff66"/><stop offset="0.375" stop-color="#02ff00"/><stop offset="0.516" stop-color="#2cff00"/><stop offset="0.656" stop-color="#fffd00"/><stop offset="0.719" stop-color="#ffac00"/><stop offset="1" stop-color="#ff4200"/></linearGradient><linearGradient id="g67" x1="0" y1="0" x2="0" y2="1"><stop offset="0" stop-color="#0044ff"/><stop offset="0.125" stop-color="#004bff"/><stop offset="0.172" stop-color="#0091ff"/><stop offset="0.219" stop-color="#00fff7"/><stop offset="0.312" stop-color="#00ff51"/><stop offset="0.375" stop-color="#02ff00"/><stop offset="0.531" stop-color="#31ff00"/><stop offset="0.656" stop-color="#f7ff00"/><stop offset="0.734" stop-color="#ffa700"/><stop offset="1" stop-color="#ff4200"/></linearGradient><linearGradient id="g68" x1="0" y1="0" x2="0" y2="1"><stop offset="0" stop-color="#0044ff"/><stop offset="0.125" stop-color="#004bff"/><stop offset="0.172" stop-color="#0099ff"/><stop offset="0.203" stop-color="#00eaff"/><stop offset="0.219" stop-color="#00fff0"/><stop offset="0.297" stop-color="#00ff66"/><stop offset="0.375" stop-color="#03ff00"/><stop offset="0.5" stop-color="#2cff00"/><stop offset="0.641" stop-color="#fffc00"/><stop offset="0.703" stop-color="#ffab00"/><stop offset="1" stop-color="#ff4200"/></linearGradient><linearGradient id="g69" x1="0" y1="0" x2="0" y2="1"><stop offset="0" stop-color="#0044ff"/><stop offset="0.125" stop-color="#004bff"/><stop offset="0.172" stop-color="#009aff"/><stop offset="0.203" stop-color="#00ebff"/><stop offset="0.234" stop-color="#00ffd2"/><stop offset="0.328" stop-color="#00ff38"/><stop offset="0.375" stop-color="#03ff00"/><stop offset="0.5" stop-color="#2dff00"/><stop offset="0.641" stop-color="#fffb00"/><stop offset="0.703" stop-color="#ffaa00"/><stop offset="1" stop-color="#ff4200"/></linearGradient><linearGradient id="g70" x1="0" y1="0" x2="0" y2="1"><stop offset="0" stop-color="#0044ff"/><stop offset="0.125" stop-color="#004bff"/><stop offset="0.172" stop-color="#009aff"/><stop offset="0.203" stop-color="#00ebff"/><stop offset="0.234" stop-color="#00ffd2"/><stop offset="0.328" stop-color="#00ff38"/><stop offset="0.375" stop-color="#03ff00"/><stop offset="0.5" stop-color="#2cff00"/><stop offset="0.641" stop-color="#fffc00"/><stop offset="0.703" stop-color="#ffaa00"/><stop offset="1" stop-color="#ff4200"/></linearGradient><linearGradient id="g71" x1="0" y1="0" x2="0" y2="1"><stop offset="0" stop-color="#0044ff"/><stop offset="0.125" stop-color="#004bff"/><stop offset="0.172" stop-color="#009aff"/><stop offset="0.203" stop-color="#00ebff"/><stop offset="0.234" stop-color="#00ffd2"/><stop offset="0.328" stop-color="#00ff38"/><stop offset="0.375" stop-color="#03ff00"/><stop offset="0.5" stop-color="#2cff00"/><stop offset="0.641" stop-color="#fffd00"/><stop offset="0.703" stop-color="#ffab00"/><stop offset="1" stop-color="#ff4200"/></linearGradient><linearGradient id="g72" x1="0" y1="0" x2="0" y2="1"><stop offset="0" stop-color="#0044ff"/><stop offset="0.125" stop-color="#004bff"/><stop offset="0.172" stop-color="#009aff"/><stop offset="0.203" stop-color="#00ebff"/><stop offset="0.234" stop-color="#00ffd2"/><stop offset="0.328" stop-color="#00ff38"/><stop offset="0.375" stop-color="#03ff00"/><stop offset="0.5" stop-color="#2cff00"/><stop offset="0.641" stop-color="#fffe00"/><stop offset="0.703" stop-color="#ffac00"/><stop offset="1" stop-color="#ff4200"/></linearGradient><linearGradient id="g73" x1="0" y1="0" x2="0" y2="1"><stop offset="0" stop-color="#0044ff"/><stop offset="0.125" stop-color="#004bff"/><stop offset="0.172" stop-color="#009aff"/><stop offset="0.203" stop-color="#00ebff"/><stop offset="0.234" stop-color="#00ffd2"/><stop offset="0.328" stop-color="#00ff38"/><stop offset="0.375" stop-color="#03ff00"/><stop offset="0.5" stop-color="#2bff00"/><stop offset="0.641" stop-color="#ffff00"/><stop offset="0.703" stop-color="#ffad00"/><stop offset="1" stop-color="#ff4200"/></linearGradient><linearGradient id="g74" x1="0" y1="0" x2="0" y2="1"><stop offset="0" stop-color="#0044ff"/><stop offset="0.125" stop-color="#004bff"/><stop offset="0.172" stop-color="#009aff"/><stop offset="0.203" stop-color="#00ebff"/><stop offset="0.234" stop-color="#00ffd2"/><stop offset="0.328" stop-color="#00ff38"/><stop offset="0.375" stop-color="#03ff00"/><stop offset="0.516" stop-color="#3aff00"/><stop offset="0.641" stop-color="#fdff00"/><stop offset="0.719" stop-color="#ffa600"/><stop offset="1" stop-color="#ff4200"/></linearGradient><linearGradient id="g75" x1="0" y1="0" x2="0" y2="1"><stop offset="0" stop-color="#0044ff"/><stop offset="0.125" stop-color="#004bff"/><stop offset="0.172" stop-color="#009aff"/><stop offset="0.203" stop-color="#00ebff"/><stop offset="0.234" stop-color="#00ffd2"/><stop offset="0.328" stop-color="#00ff38"/><stop offset="0.375" stop-color="#02ff00"/><stop offset="0.516" stop-color="#38ff00"/><stop offset="0.641" stop-color="#fcff00"/><stop offset="0.719" stop-color="#ffa600"/><stop offset="1" stop-color="#ff4200"/></linearGradient><linearGradient id="g76" x1="0" y1="0" x2="0" y2="1"><stop offset="0" stop-color="#0044ff"/><stop offset="0.125" stop-color="#004bff"/><stop offset="0.172" stop-color="#009aff"/><stop offset="0.203" stop-color="#00ebff"/><stop offset="0.234" stop-color="#00ffd2"/><stop offset="0.328" stop-color="#00ff38"/><stop offset="0.375" stop-color="#02ff00"/><stop offset="0.516" stop-color="#36ff00"/><stop offset="0.641" stop-color="#faff00"/><stop offset="0.719" stop-color="#ffa600"/><stop offset="1" stop-color="#ff4200"/></linearGradient><linearGradient id="g77" x1="0" y1="0" x2="0" y2="1"><stop offset="0" stop-color="#0044ff"/><stop offset="0.125" stop-color="#004bff"/><stop offset="0.172" stop-color="#009aff"/><stop offset="0.203" stop-color="#00ebff"/><stop offset="0.234" stop-color="#00ffd2"/><stop offset="0.328" stop-color="#00ff38"/><stop offset="0.375" stop-color="#02ff00"/><stop offset="0.516" stop-color="#34ff00"/><stop offset="0.641" stop-color="#f9ff00"/><stop offset="0.719" stop-color="#ffa700"/><stop offset="1" stop-color="#ff4200"/></linearGradient><linearGradient id="g78" x1="0" y1="0" x2="0" y2="1"><stop offset="0" stop-color="#0044ff"/><stop offset="0.125" stop-color="#004bff"/><stop offset="0.172" stop-color="#009aff"/><stop offset="0.203" stop-color="#00ebff"/><stop offset="0.234" stop-color="#00ffd2"/><stop offset="0.328" stop-color="#00ff38"/><stop offset="0.375" stop-color="#02ff00"/><stop offset="0.516" stop-color="#32ff00"/><stop offset="0.641" stop-color="#f7ff00"/><stop offset="0.719" stop-color="#ffa700"/><stop offset="1" stop-color="#ff4200"/></linearGradient><linearGradient id="g79" x1="0" y1="0" x2="0" y2="1"><stop offset="0" stop-color="#0044ff"/><stop offset="0.125" stop-color="#004bff"/><stop offset="0.172" stop-color="#009aff"/><stop offset="0.203" stop-color="#00ebff"/><stop offset="0.234" stop-color="#00ffd2"/><stop offset="0.328" stop-color="#00ff38"/><stop offset="0.375" stop-color="#02ff00"/><stop offset="0.516" stop-color="#31ff00"/><stop offset="0.641" stop-color="#f6ff00"/><stop offset="0.719" stop-color="#ffa700"/><stop offset="1" stop-color="#ff4200"/></linearGradient><linearGradient id="g80" x1="0" y1="0" x2="0" y2="1"><stop offset="0" stop-color="#0044ff"/><stop offset="0.125" stop-color="#004bff"/><stop offset="0.172" stop-color="#009aff"/><stop offset="0.203" stop-color="#00ebff"/><stop offset="0.234" stop-color="#00ffd2"/><stop offset="0.328" stop-color="#00ff38"/><stop offset="0.375" stop-color="#02ff00"/><stop offset="0.516" stop-color="#2fff00"/><stop offset="0.641" stop-color="#f4ff00"/><stop offset="0.719" stop-color="#ffa700"/><stop offset="1" stop-color="#ff4200"/></linearGradient><linearGradient id="g81" x1="0" y1="0" x2="0" y2="1"><stop offset="0" stop-color="#0044ff"/><stop offset="0.125" stop-color="#004bff"/><stop offset="0.172" stop-color="#009aff"/><stop offset="0.203" stop-color="#00ebff"/><stop offset="0.234" stop-color="#00ffd2"/><stop offset="0.328" stop-color="#00ff38"/><stop offset="0.375" stop-color="#02ff00"/><stop offset="0.516" stop-color="#2dff00"/><stop offset="0.641" stop-color="#f3ff00"/><stop offset="0.719" stop-color="#ffa800"/><stop offset="1" stop-color="#ff4200"/></linearGradient><linearGradient id="g82" x1="0" y1="0" x2="0" y2="1"><stop offset="0" stop-color="#001fff"/><stop offset="0.125" stop-color="#0027ff"/><stop offset="0.172" stop-color="#0086ff"/><stop offset="0.203" stop-color="#00ebff"/><stop offset="0.234" stop-color="#00ffd3"/><stop offset="0.25" stop-color="#00ffb6"/><stop offset="0.266" stop-color="#00ff81"/><stop offset="0.359" stop-color="#00ff00"/><stop offset="0.531" stop-color="#38ff00"/><stop offset="0.672" stop-color="#ffff00"/><stop offset="0.734" stop-color="#ff9e00"/><stop offset="0.812" stop-color="#ff7100"/><stop offset="0.969" stop-color="#ff4900"/><stop offset="1" stop-color="#ff3c00"/></linearGradient><linearGradient id="g83" x1="0" y1="0" x2="0" y2="1"><stop offset="0" stop-color="#0042ff"/><stop offset="0.125" stop-color="#0053ff"/><stop offset="0.172" stop-color="#00bcff"/><stop offset="0.203" stop-color="#00f8ff"/><stop offset="0.297" stop-color="#00ff61"/><stop offset="0.375" stop-color="#05ff00"/><stop offset="0.531" stop-color="#30ff00"/><stop offset="0.672" stop-color="#f5ff00"/><stop offset="0.75" stop-color="#ff9900"/><stop offset="0.828" stop-color="#ff7300"/><stop offset="0.984" stop-color="#ff4700"/><stop offset="1" stop-color="#ff4100"/></linearGradient><linearGradient id="g84" x1="0" y1="0" x2="0" y2="1"><stop offset="0" stop-color="#0027ff"/><stop offset="0.125" stop-color="#0039ff"/><stop offset="0.172" stop-color="#009dff"/><stop offset="0.203" stop-color="#00faff"/><stop offset="0.312" stop-color="#00ff50"/><stop offset="0.375" stop-color="#00ff01"/><stop offset="0.531" stop-color="#2aff00"/><stop offset="0.672" stop-color="#f1ff00"/><stop offset="0.719" stop-color="#ffba00"/><stop offset="0.812" stop-color="#ff7900"/><stop offset="0.969" stop-color="#ff5100"/><stop offset="1" stop-color="#ff4400"/></linearGradient><linearGradient id="g85" x1="0" y1="0" x2="0" y2="1"><stop offset="0" stop-color="#0051ff"/><stop offset="0.109" stop-color="#0058ff"/><stop offset="0.125" stop-color="#0065ff"/><stop offset="0.172" stop-color="#00d0ff"/><stop offset="0.188" stop-color="#00d1ff"/><stop offset="0.203" stop-color="#00faff"/><stop offset="0.328" stop-color="#00ff3c"/><stop offset="0.375" stop-color="#01ff00"/><stop offset="0.531" stop-color="#2cff00"/><stop offset="0.688" stop-color="#fff500"/><stop offset="0.734" stop-color="#ffa600"/><stop offset="0.828" stop-color="#ff7500"/><stop offset="0.984" stop-color="#ff4a00"/><stop offset="1" stop-color="#ff4400"/></linearGradient><linearGradient id="g86" x1="0" y1="0" x2="0" y2="1"><stop offset="0" stop-color="#003eff"/><stop offset="0.109" stop-color="#0045ff"/><stop offset="0.203" stop-color="#00fff4"/><stop offset="0.25" stop-color="#00ff9d"/><stop offset="0.375" stop-color="#00ff08"/><stop offset="0.531" stop-color="#27ff00"/><stop offset="0.672" stop-color="#f3ff00"/><stop offset="0.734" stop-color="#ffa700"/><stop offset="0.812" stop-color="#ff7c00"/><stop offset="0.969" stop-color="#ff5300"/><stop offset="1" stop-color="#ff4800"/></linearGradient><linearGradient id="g87" x1="0" y1="0" x2="0" y2="1"><stop offset="0" stop-color="#0030ff"/><stop offset="0.109" stop-color="#0037ff"/><stop offset="0.156" stop-color="#008dff"/><stop offset="0.203" stop-color="#00fff9"/><stop offset="0.297" stop-color="#00ff5e"/><stop offset="0.359" stop-color="#00ff08"/><stop offset="0.531" stop-color="#30ff00"/><stop offset="0.672" stop-color="#feff00"/><stop offset="0.734" stop-color="#ffa000"/><stop offset="0.828" stop-color="#ff7400"/><stop offset="0.984" stop-color="#ff4700"/><stop offset="1" stop-color="#ff4100"/></linearGradient><linearGradient id="g88" x1="0" y1="0" x2="0" y2="1"><stop offset="0" stop-color="#0016ff"/><stop offset="0.109" stop-color="#001dff"/><stop offset="0.156" stop-color="#0074ff"/><stop offset="0.172" stop-color="#00bcff"/><stop offset="0.203" stop-color="#00fff4"/><stop offset="0.25" stop-color="#00ff9e"/><stop offset="0.375" stop-color="#00ff07"/><stop offset="0.531" stop-color="#29ff00"/><stop offset="0.672" stop-color="#f9ff00"/><stop offset="0.734" stop-color="#ffa500"/><stop offset="0.812" stop-color="#ff7c00"/><stop offset="0.969" stop-color="#ff5300"/><stop offset="1" stop-color="#ff4800"/></linearGradient><linearGradient id="g89" x1="0" y1="0" x2="0" y2="1"><stop offset="0" stop-color="#002dff"/><stop offset="0.109" stop-color="#0034ff"/><stop offset="0.156" stop-color="#008eff"/><stop offset="0.188" stop-color="#00e4ff"/><stop offset="0.203" stop-color="#00fff6"/><stop offset="0.297" stop-color="#00ff5a"/><stop offset="0.359" stop-color="#00ff04"/><stop offset="0.531" stop-color="#34ff00"/><stop offset="0.672" stop-color="#fffa00"/><stop offset="0.719" stop-color="#ffa900"/><stop offset="0.812" stop-color="#ff7600"/><stop offset="0.969" stop-color="#ff4c00"/><stop offset="1" stop-color="#ff4100"/></linearGradient><linearGradient id="g90" x1="0" y1="0" x2="0" y2="1"><stop offset="0" stop-color="#001dff"/><stop offset="0.109" stop-color="#0024ff"/><stop offset="0.156" stop-color="#0073ff"/><stop offset="0.172" stop-color="#009aff"/><stop offset="0.188" stop-color="#00dbff"/><stop offset="0.203" stop-color="#00fffb"/><stop offset="0.25" stop-color="#00ffa5"/><stop offset="0.375" stop-color="#00ff06"/><stop offset="0.531" stop-color="#25ff00"/><stop offset="0.672" stop-color="#f0ff00"/><stop offset="0.719" stop-color="#ffb800"/><stop offset="0.812" stop-color="#ff7b00"/><stop offset="0.969" stop-color="#ff5400"/><stop offset="1" stop-color="#ff4700"/></linearGradient><linearGradient id="g91" x1="0" y1="0" x2="0" y2="1"><stop offset="0" stop-color="#003eff"/><stop offset="0.109" stop-color="#004aff"/><stop offset="0.188" stop-color="#00f2ff"/><stop offset="0.25" stop-color="#00ff95"/><stop offset="0.266" stop-color="#00ff97"/><stop offset="0.375" stop-color="#00ff07"/><stop offset="0.531" stop-color="#24ff00"/><stop offset="0.672" stop-color="#f2ff00"/><stop offset="0.734" stop-color="#ffa600"/><stop offset="0.828" stop-color="#ff7900"/><stop offset="0.984" stop-color="#ff4e00"/><stop offset="1" stop-color="#ff4700"/></linearGradient><linearGradient id="g92" x1="0" y1="0" x2="0" y2="1"><stop offset="0" stop-color="#002bff"/><stop offset="0.109" stop-color="#0033ff"/><stop offset="0.156" stop-color="#0094ff"/><stop offset="0.188" stop-color="#00ecff"/><stop offset="0.219" stop-color="#00ffd3"/><stop offset="0.281" stop-color="#00ff73"/><stop offset="0.359" stop-color="#00ff07"/><stop offset="0.531" stop-color="#33ff00"/><stop offset="0.672" stop-color="#fffd00"/><stop offset="0.719" stop-color="#ffaa00"/><stop offset="0.812" stop-color="#ff7300"/><stop offset="0.969" stop-color="#ff4c00"/><stop offset="1" stop-color="#ff3f00"/></linearGradient><linearGradient id="g93" x1="0" y1="0" x2="0" y2="1"><stop offset="0" stop-color="#001eff"/><stop offset="0.125" stop-color="#0025ff"/><stop offset="0.172" stop-color="#007aff"/><stop offset="0.188" stop-color="#00b9ff"/><stop offset="0.219" stop-color="#00fff7"/><stop offset="0.281" stop-color="#00ff7c"/><stop offset="0.375" stop-color="#00ff05"/><stop offset="0.531" stop-color="#28ff00"/><stop offset="0.672" stop-color="#fbff00"/><stop offset="0.719" stop-color="#ffae00"/><stop offset="0.812" stop-color="#ff7a00"/><stop offset="0.969" stop-color="#ff5200"/><stop offset="1" stop-color="#ff4600"/></linearGradient><linearGradient id="g94" x1="0" y1="0" x2="0" y2="1"><stop offset="0" stop-color="#001bff"/><stop offset="0.125" stop-color="#002aff"/><stop offset="0.172" stop-color="#008bff"/><stop offset="0.188" stop-color="#00ceff"/><stop offset="0.203" stop-color="#00f6ff"/><stop offset="0.297" stop-color="#00ff65"/><stop offset="0.375" stop-color="#00ff01"/><stop offset="0.531" stop-color="#2bff00"/><stop offset="0.672" stop-color="#feff00"/><stop offset="0.719" stop-color="#ffac00"/><stop offset="0.812" stop-color="#ff7800"/><stop offset="0.969" stop-color="#ff5100"/><stop offset="1" stop-color="#ff4400"/></linearGradient><linearGradient id="g95" x1="0" y1="0" x2="0" y2="1"><stop offset="0" stop-color="#0019ff"/><stop offset="0.109" stop-color="#0027ff"/><stop offset="0.156" stop-color="#0086ff"/><stop offset="0.172" stop-color="#00cbff"/><stop offset="0.188" stop-color="#00f4ff"/><stop offset="0.25" stop-color="#00ff93"/><stop offset="0.359" stop-color="#00ff05"/><stop offset="0.531" stop-color="#37ff00"/><stop offset="0.672" stop-color="#fff800"/><stop offset="0.719" stop-color="#ffa600"/><stop offset="0.812" stop-color="#ff7200"/><stop offset="0.969" stop-color="#ff4b00"/><stop offset="1" stop-color="#ff3e00"/></linearGradient><linearGradient id="g96" x1="0" y1="0" x2="0" y2="1"><stop offset="0" stop-color="#002fff"/><stop offset="0.109" stop-color="#0036ff"/><stop offset="0.172" stop-color="#00c2ff"/><stop offset="0.188" stop-color="#00ebff"/><stop offset="0.219" stop-color="#00ffd4"/><stop offset="0.281" stop-color="#00ff74"/><stop offset="0.359" stop-color="#00ff08"/><stop offset="0.531" stop-color="#34ff00"/><stop offset="0.672" stop-color="#fff800"/><stop offset="0.719" stop-color="#ffa700"/><stop offset="0.812" stop-color="#ff7400"/><stop offset="0.953" stop-color="#ff5300"/><stop offset="1" stop-color="#ff4000"/></linearGradient><linearGradient id="g97" x1="0" y1="0" x2="0" y2="1"><stop offset="0" stop-color="#0030ff"/><stop offset="0.109" stop-color="#0037ff"/><stop offset="0.172" stop-color="#00bbff"/><stop offset="0.203" stop-color="#00fff5"/><stop offset="0.297" stop-color="#00ff5a"/><stop offset="0.359" stop-color="#00ff04"/><stop offset="0.531" stop-color="#39ff00"/><stop offset="0.656" stop-color="#f4ff00"/><stop offset="0.734" stop-color="#ff9900"/><stop offset="0.812" stop-color="#ff7400"/><stop offset="0.969" stop-color="#ff4c00"/><stop offset="1" stop-color="#ff4100"/></linearGradient><linearGradient id="g98" x1="0" y1="0" x2="0" y2="1"><stop offset="0" stop-color="#0041ff"/><stop offset="0.109" stop-color="#004dff"/><stop offset="0.188" stop-color="#00f2ff"/><stop offset="0.25" stop-color="#00ff95"/><stop offset="0.359" stop-color="#00ff08"/><stop offset="0.531" stop-color="#36ff00"/><stop offset="0.656" stop-color="#f1ff00"/><stop offset="0.703" stop-color="#ffba00"/><stop offset="0.797" stop-color="#ff7900"/><stop offset="0.969" stop-color="#ff4f00"/><stop offset="1" stop-color="#ff4300"/></linearGradient><linearGradient id="g99" x1="0" y1="0" x2="0" y2="1"><stop offset="0" stop-color="#001fff"/><stop offset="0.109" stop-color="#0026ff"/><stop offset="0.156" stop-color="#007eff"/><stop offset="0.172" stop-color="#00bbff"/><stop offset="0.203" stop-color="#00fff6"/><stop offset="0.25" stop-color="#00ff9f"/><stop offset="0.375" stop-color="#00ff06"/><stop offset="0.531" stop-color="#2cff00"/><stop offset="0.672" stop-color="#fffc00"/><stop offset="0.719" stop-color="#ffac00"/><stop offset="0.797" stop-color="#ff7d00"/><stop offset="0.953" stop-color="#ff5a00"/><stop offset="1" stop-color="#ff4600"/></linearGradient><linearGradient id="g100" x1="0" y1="0" x2="0" y2="1"><stop offset="0" stop-color="#0049ff"/><stop offset="0.125" stop-color="#0053ff"/><stop offset="0.172" stop-color="#00bbff"/><stop offset="0.188" stop-color="#00c6ff"/><stop offset="0.203" stop-color="#00efff"/><stop offset="0.234" stop-color="#00ffd1"/><stop offset="0.25" stop-color="#00ffb4"/><stop offset="0.266" stop-color="#00ff7b"/><stop offset="0.359" stop-color="#06ff00"/><stop offset="0.531" stop-color="#46ff00"/><stop offset="0.656" stop-color="#fffe00"/><stop offset="0.719" stop-color="#ff9d00"/><stop offset="0.812" stop-color="#ff6d00"/><stop offset="0.953" stop-color="#ff4c00"/><stop offset="1" stop-color="#ff3a00"/></linearGradient><linearGradient id="g101" x1="0" y1="0" x2="0" y2="1"><stop offset="0" stop-color="#001cff"/><stop offset="0.109" stop-color="#0023ff"/><stop offset="0.156" stop-color="#0079ff"/><stop offset="0.172" stop-color="#00baff"/><stop offset="0.203" stop-color="#00fff6"/><stop offset="0.25" stop-color="#00ffa0"/><stop offset="0.297" stop-color="#00ff6d"/><stop offset="0.375" stop-color="#00ff06"/><stop offset="0.531" stop-color="#2bff00"/><stop offset="0.672" stop-color="#fffe00"/><stop offset="0.719" stop-color="#ffad00"/><stop offset="0.812" stop-color="#ff7a00"/><stop offset="0.969" stop-color="#ff5400"/><stop offset="1" stop-color="#ff4700"/></linearGradient><linearGradient id="g102" x1="0" y1="0" x2="0" y2="1"><stop offset="0" stop-color="#0021ff"/><stop offset="0.109" stop-color="#0029ff"/><stop offset="0.156" stop-color="#0088ff"/><stop offset="0.188" stop-color="#00ecff"/><stop offset="0.219" stop-color="#00ffd2"/><stop offset="0.297" stop-color="#00ff4f"/><stop offset="0.359" stop-color="#07ff00"/><stop offset="0.516" stop-color="#38ff00"/><stop offset="0.656" stop-color="#fffb00"/><stop offset="0.719" stop-color="#ff9b00"/><stop offset="0.797" stop-color="#ff7000"/><stop offset="0.953" stop-color="#ff4d00"/><stop offset="1" stop-color="#ff3b00"/></linearGradient><linearGradient id="g103" x1="0" y1="0" x2="0" y2="1"><stop offset="0" stop-color="#0040ff"/><stop offset="0.125" stop-color="#0048ff"/><stop offset="0.219" stop-color="#00fff4"/><stop offset="0.281" stop-color="#00ff7b"/><stop offset="0.375" stop-color="#00ff01"/><stop offset="0.531" stop-color="#33ff00"/><stop offset="0.672" stop-color="#fff800"/><stop offset="0.719" stop-color="#ffa900"/><stop offset="0.812" stop-color="#ff7700"/><stop offset="0.969" stop-color="#ff5100"/><stop offset="1" stop-color="#ff4400"/></linearGradient><linearGradient id="g104" x1="0" y1="0" x2="0" y2="1"><stop offset="0" stop-color="#0023ff"/><stop offset="0.125" stop-color="#0032ff"/><stop offset="0.172" stop-color="#0094ff"/><stop offset="0.203" stop-color="#00f6ff"/><stop offset="0.297" stop-color="#00ff5d"/><stop offset="0.359" stop-color="#00ff06"/><stop offset="0.531" stop-color="#3aff00"/><stop offset="0.672" stop-color="#fff600"/><stop offset="0.734" stop-color="#ff9a00"/><stop offset="0.812" stop-color="#ff7100"/><stop offset="0.969" stop-color="#ff4b00"/><stop offset="1" stop-color="#ff3e00"/></linearGradient><linearGradient id="g105" x1="0" y1="0" x2="0" y2="1"><stop offset="0" stop-color="#000fff"/><stop offset="0.125" stop-color="#001eff"/><stop offset="0.172" stop-color="#007cff"/><stop offset="0.188" stop-color="#00ccff"/><stop offset="0.203" stop-color="#00f5ff"/><stop offset="0.25" stop-color="#00ffb0"/><stop offset="0.266" stop-color="#00ff85"/><stop offset="0.359" stop-color="#00ff04"/><stop offset="0.531" stop-color="#3aff00"/><stop offset="0.672" stop-color="#fff500"/><stop offset="0.734" stop-color="#ff9b00"/><stop offset="0.812" stop-color="#ff7300"/><stop offset="0.969" stop-color="#ff4b00"/><stop offset="1" stop-color="#ff3f00"/></linearGradient><linearGradient id="g106" x1="0" y1="0" x2="0" y2="1"><stop offset="0" stop-color="#001dff"/><stop offset="0.109" stop-color="#0024ff"/><stop offset="0.156" stop-color="#0074ff"/><stop offset="0.172" stop-color="#009bff"/><stop offset="0.188" stop-color="#00dbff"/><stop offset="0.203" stop-color="#00fffb"/><stop offset="0.297" stop-color="#00ff62"/><stop offset="0.375" stop-color="#02ff00"/><stop offset="0.531" stop-color="#31ff00"/><stop offset="0.672" stop-color="#ffff00"/><stop offset="0.734" stop-color="#ffa100"/><stop offset="0.828" stop-color="#ff7500"/><stop offset="0.984" stop-color="#ff4900"/><stop offset="1" stop-color="#ff4200"/></linearGradient><linearGradient id="g107" x1="0" y1="0" x2="0" y2="1"><stop offset="0" stop-color="#0034ff"/><stop offset="0.125" stop-color="#003bff"/><stop offset="0.219" stop-color="#00fff3"/><stop offset="0.25" stop-color="#00ffb9"/><stop offset="0.266" stop-color="#00ff88"/><stop offset="0.359" stop-color="#00ff07"/><stop offset="0.531" stop-color="#34ff00"/><stop offset="0.672" stop-color="#fffe00"/><stop offset="0.734" stop-color="#ffa000"/><stop offset="0.828" stop-color="#ff7600"/><stop offset="1" stop-color="#ff4400"/></linearGradient><linearGradient id="g108" x1="0" y1="0" x2="0" y2="1"><stop offset="0" stop-color="#0017ff"/><stop offset="0.109" stop-color="#0020ff"/><stop offset="0.156" stop-color="#007eff"/><stop offset="0.172" stop-color="#00c5ff"/><stop offset="0.188" stop-color="#00eeff"/><stop offset="0.219" stop-color="#00ffd1"/><stop offset="0.25" stop-color="#00ff98"/><stop offset="0.375" stop-color="#06ff00"/><stop offset="0.531" stop-color="#32ff00"/><stop offset="0.672" stop-color="#f8ff00"/><stop offset="0.734" stop-color="#ffa300"/><stop offset="0.812" stop-color="#ff7500"/><stop offset="0.969" stop-color="#ff4d00"/><stop offset="1" stop-color="#ff4000"/></linearGradient><linearGradient id="g109" x1="0" y1="0" x2="0" y2="1"><stop offset="0" stop-color="#004fff"/><stop offset="0.125" stop-color="#0060ff"/><stop offset="0.172" stop-color="#00cbff"/><stop offset="0.188" stop-color="#00ceff"/><stop offset="0.203" stop-color="#00f7ff"/><stop offset="0.297" stop-color="#00ff67"/><stop offset="0.359" stop-color="#00ff11"/><stop offset="0.469" stop-color="#11ff00"/><stop offset="0.531" stop-color="#27ff00"/><stop offset="0.672" stop-color="#eeff00"/><stop offset="0.703" stop-color="#ffd500"/><stop offset="0.766" stop-color="#ff8400"/><stop offset="1" stop-color="#ff6f00"/></linearGradient><linearGradient id="g110" x1="0" y1="0" x2="0" y2="1"><stop offset="0" stop-color="#0023ff"/><stop offset="0.109" stop-color="#002aff"/><stop offset="0.156" stop-color="#0080ff"/><stop offset="0.188" stop-color="#00e1ff"/><stop offset="0.203" stop-color="#00fff7"/><stop offset="0.281" stop-color="#00ff6a"/><stop offset="0.359" stop-color="#01ff00"/><stop offset="0.531" stop-color="#38ff00"/><stop offset="0.672" stop-color="#feff00"/><stop offset="0.766" stop-color="#ff6c00"/><stop offset="1" stop-color="#ff8b00"/></linearGradient><linearGradient id="g111" x1="0" y1="0" x2="0" y2="1"><stop offset="0" stop-color="#0021ff"/><stop offset="0.109" stop-color="#0028ff"/><stop offset="0.156" stop-color="#0082ff"/><stop offset="0.188" stop-color="#00e6ff"/><stop offset="0.203" stop-color="#00fff4"/><stop offset="0.297" stop-color="#00ff55"/><stop offset="0.359" stop-color="#01ff00"/><stop offset="0.531" stop-color="#37ff00"/><stop offset="0.672" stop-color="#faff00"/><stop offset="0.766" stop-color="#ff7100"/><stop offset="0.812" stop-color="#ff6d00"/><stop offset="1" stop-color="#ff8a00"/></linearGradient><linearGradient id="g112" x1="0" y1="0" x2="0" y2="1"><stop offset="0" stop-color="#0033ff"/><stop offset="0.125" stop-color="#003bff"/><stop offset="0.219" stop-color="#00fff3"/><stop offset="0.25" stop-color="#00ffb9"/><stop offset="0.266" stop-color="#00ff7f"/><stop offset="0.359" stop-color="#02ff00"/><stop offset="0.531" stop-color="#35ff00"/><stop offset="0.672" stop-color="#f7ff00"/><stop offset="0.766" stop-color="#ff7200"/><stop offset="0.828" stop-color="#ff7400"/><stop offset="1" stop-color="#ff8d00"/></linearGradient><linearGradient id="g113" x1="0" y1="0" x2="0" y2="1"><stop offset="0" stop-color="#0040ff"/><stop offset="0.109" stop-color="#0047ff"/><stop offset="0.172" stop-color="#00b8ff"/><stop offset="0.203" stop-color="#00fff7"/><stop offset="0.266" stop-color="#00ff90"/><stop offset="0.375" stop-color="#00ff03"/><stop offset="0.547" stop-color="#32ff00"/><stop offset="0.688" stop-color="#fcff00"/><stop offset="0.781" stop-color="#ff7200"/><stop offset="1" stop-color="#ff9200"/></linearGradient><linearGradient id="g114" x1="0" y1="0" x2="0" y2="1"><stop offset="0" stop-color="#003bff"/><stop offset="0.109" stop-color="#0042ff"/><stop offset="0.172" stop-color="#00b5ff"/><stop offset="0.203" stop-color="#00fff9"/><stop offset="0.25" stop-color="#00ffa3"/><stop offset="0.375" stop-color="#00ff08"/><stop offset="0.547" stop-color="#2aff00"/><stop offset="0.688" stop-color="#f3ff00"/><stop offset="0.781" stop-color="#ff7600"/><stop offset="1" stop-color="#ff9500"/></linearGradient><linearGradient id="g115" x1="0" y1="0" x2="0" y2="1"><stop offset="0" stop-color="#003bff"/><stop offset="0.125" stop-color="#0043ff"/><stop offset="0.203" stop-color="#00e8ff"/><stop offset="0.219" stop-color="#00fff2"/><stop offset="0.25" stop-color="#00ffb9"/><stop offset="0.266" stop-color="#00ff87"/><stop offset="0.359" stop-color="#00ff03"/><stop offset="0.547" stop-color="#39ff00"/><stop offset="0.688" stop-color="#fdff00"/><stop offset="0.781" stop-color="#ff7000"/><stop offset="0.812" stop-color="#ff6700"/><stop offset="1" stop-color="#ff8800"/></linearGradient><linearGradient id="g116" x1="0" y1="0" x2="0" y2="1"><stop offset="0" stop-color="#0026ff"/><stop offset="0.109" stop-color="#002dff"/><stop offset="0.156" stop-color="#0086ff"/><stop offset="0.188" stop-color="#00e4ff"/><stop offset="0.203" stop-color="#00fff5"/><stop offset="0.25" stop-color="#00ff9f"/><stop offset="0.359" stop-color="#00ff0f"/><stop offset="0.5" stop-color="#17ff00"/><stop offset="0.547" stop-color="#27ff00"/><stop offset="0.703" stop-color="#fff700"/><stop offset="0.781" stop-color="#ff7f00"/><stop offset="1" stop-color="#ff9500"/></linearGradient><linearGradient id="g117" x1="0" y1="0" x2="0" y2="1"><stop offset="0" stop-color="#003bff"/><stop offset="0.109" stop-color="#0042ff"/><stop offset="0.141" stop-color="#006fff"/><stop offset="0.203" stop-color="#00fcff"/><stop offset="0.281" stop-color="#00ff73"/><stop offset="0.359" stop-color="#00ff08"/><stop offset="0.562" stop-color="#3aff00"/><stop offset="0.703" stop-color="#fdff00"/><stop offset="0.781" stop-color="#ff9500"/><stop offset="1" stop-color="#ff8a00"/></linearGradient><linearGradient id="g118" x1="0" y1="0" x2="0" y2="1"><stop offset="0" stop-color="#0014ff"/><stop offset="0.109" stop-color="#001bff"/><stop offset="0.156" stop-color="#0070ff"/><stop offset="0.172" stop-color="#00baff"/><stop offset="0.203" stop-color="#00fff6"/><stop offset="0.25" stop-color="#00ff9f"/><stop offset="0.281" stop-color="#00ff83"/><stop offset="0.375" stop-color="#00ff09"/><stop offset="0.562" stop-color="#25ff00"/><stop offset="0.734" stop-color="#fff500"/><stop offset="0.797" stop-color="#ffac00"/><stop offset="1" stop-color="#ff8e00"/></linearGradient><linearGradient id="g119" x1="0" y1="0" x2="0" y2="1"><stop offset="0" stop-color="#0041ff"/><stop offset="0.125" stop-color="#0054ff"/><stop offset="0.172" stop-color="#00beff"/><stop offset="0.203" stop-color="#00faff"/><stop offset="0.281" stop-color="#00ff70"/><stop offset="0.359" stop-color="#00ff06"/><stop offset="0.578" stop-color="#38ff00"/><stop offset="0.734" stop-color="#fff800"/><stop offset="0.797" stop-color="#ffb600"/><stop offset="1" stop-color="#ff8600"/></linearGradient><linearGradient id="g120" x1="0" y1="0" x2="0" y2="1"><stop offset="0" stop-color="#004aff"/><stop offset="0.125" stop-color="#0058ff"/><stop offset="0.172" stop-color="#00c0ff"/><stop offset="0.188" stop-color="#00c9ff"/><stop offset="0.203" stop-color="#00f2ff"/><stop offset="0.266" stop-color="#00ff8e"/><stop offset="0.375" stop-color="#00ff03"/><stop offset="0.594" stop-color="#30ff00"/><stop offset="0.75" stop-color="#fffd00"/><stop offset="0.828" stop-color="#ffb200"/><stop offset="1" stop-color="#ff8a00"/></linearGradient><linearGradient id="g121" x1="0" y1="0" x2="0" y2="1"><stop offset="0" stop-color="#0043ff"/><stop offset="0.109" stop-color="#004cff"/><stop offset="0.172" stop-color="#00bcff"/><stop offset="0.203" stop-color="#00fff5"/><stop offset="0.297" stop-color="#00ff64"/><stop offset="0.375" stop-color="#00ff06"/><stop offset="0.594" stop-color="#25ff00"/><stop offset="0.766" stop-color="#fff800"/><stop offset="0.828" stop-color="#ffba00"/><stop offset="1" stop-color="#ff8b00"/></linearGradient><linearGradient id="g122" x1="0" y1="0" x2="0" y2="1"><stop offset="0" stop-color="#0034ff"/><stop offset="0.094" stop-color="#003bff"/><stop offset="0.141" stop-color="#0091ff"/><stop offset="0.188" stop-color="#00fffd"/><stop offset="0.25" stop-color="#00ff8f"/><stop offset="0.312" stop-color="#00ff4c"/><stop offset="0.375" stop-color="#00ff02"/><stop offset="0.609" stop-color="#32ff00"/><stop offset="0.766" stop-color="#f9ff00"/><stop offset="0.859" stop-color="#ffaf00"/><stop offset="1" stop-color="#ff8900"/></linearGradient><linearGradient id="g123" x1="0" y1="0" x2="0" y2="1"><stop offset="0" stop-color="#0017ff"/><stop offset="0.109" stop-color="#0022ff"/><stop offset="0.156" stop-color="#007dff"/><stop offset="0.172" stop-color="#00c5ff"/><stop offset="0.188" stop-color="#00eeff"/><stop offset="0.219" stop-color="#00ffd5"/><stop offset="0.281" stop-color="#00ff64"/><stop offset="0.359" stop-color="#00ff01"/><stop offset="0.625" stop-color="#3eff00"/><stop offset="0.781" stop-color="#fff700"/><stop offset="0.859" stop-color="#ffa900"/><stop offset="1" stop-color="#ff8100"/></linearGradient><linearGradient id="g124" x1="0" y1="0" x2="0" y2="1"><stop offset="0" stop-color="#0044ff"/><stop offset="0.094" stop-color="#004bff"/><stop offset="0.141" stop-color="#00aaff"/><stop offset="0.156" stop-color="#00bbff"/><stop offset="0.188" stop-color="#00fff6"/><stop offset="0.25" stop-color="#00ff8d"/><stop offset="0.266" stop-color="#00ff91"/><stop offset="0.375" stop-color="#00ff0b"/><stop offset="0.625" stop-color="#20ff00"/><stop offset="0.797" stop-color="#fbff00"/><stop offset="0.875" stop-color="#ffb600"/><stop offset="1" stop-color="#ff8f00"/></linearGradient><linearGradient id="g125" x1="0" y1="0" x2="0" y2="1"><stop offset="0" stop-color="#002cff"/><stop offset="0.094" stop-color="#0032ff"/><stop offset="0.141" stop-color="#008eff"/><stop offset="0.172" stop-color="#00e5ff"/><stop offset="0.188" stop-color="#00fff5"/><stop offset="0.25" stop-color="#00ff8c"/><stop offset="0.266" stop-color="#00ff8e"/><stop offset="0.375" stop-color="#00ff09"/><stop offset="0.641" stop-color="#2dff00"/><stop offset="0.797" stop-color="#f9ff00"/><stop offset="0.875" stop-color="#ffb500"/><stop offset="1" stop-color="#ff8d00"/></linearGradient><linearGradient id="g126" x1="0" y1="0" x2="0" y2="1"><stop offset="0" stop-color="#0037ff"/><stop offset="0.109" stop-color="#003eff"/><stop offset="0.188" stop-color="#00e9ff"/><stop offset="0.203" stop-color="#00fff3"/><stop offset="0.25" stop-color="#00ffa4"/><stop offset="0.266" stop-color="#00ff74"/><stop offset="0.359" stop-color="#02ff00"/><stop offset="0.641" stop-color="#41ff00"/><stop offset="0.781" stop-color="#f8ff00"/><stop offset="0.859" stop-color="#ffad00"/><stop offset="1" stop-color="#ff8300"/></linearGradient><linearGradient id="g127" x1="0" y1="0" x2="0" y2="1"><stop offset="0" stop-color="#0033ff"/><stop offset="0.094" stop-color="#003aff"/><stop offset="0.125" stop-color="#006bff"/><stop offset="0.188" stop-color="#00fffc"/><stop offset="0.25" stop-color="#00ff93"/><stop offset="0.375" stop-color="#00ff08"/><stop offset="0.641" stop-color="#26ff00"/><stop offset="0.812" stop-color="#fff600"/><stop offset="0.875" stop-color="#ffb500"/><stop offset="1" stop-color="#ff8d00"/></linearGradient><linearGradient id="g128" x1="0" y1="0" x2="0" y2="1"><stop offset="0" stop-color="#0044ff"/><stop offset="0.109" stop-color="#004cff"/><stop offset="0.156" stop-color="#00abff"/><stop offset="0.172" stop-color="#00bcff"/><stop offset="0.203" stop-color="#00fff6"/><stop offset="0.297" stop-color="#00ff64"/><stop offset="0.375" stop-color="#00ff07"/><stop offset="0.641" stop-color="#25ff00"/><stop offset="0.812" stop-color="#fffb00"/><stop offset="0.875" stop-color="#ffb500"/><stop offset="1" stop-color="#ff8b00"/></linearGradient><linearGradient id="g129" x1="0" y1="0" x2="0" y2="1"><stop offset="0" stop-color="#004fff"/><stop offset="0.094" stop-color="#0056ff"/><stop offset="0.125" stop-color="#008aff"/><stop offset="0.156" stop-color="#00d4ff"/><stop offset="0.172" stop-color="#00d7ff"/><stop offset="0.188" stop-color="#00fdff"/><stop offset="0.25" stop-color="#00ff97"/><stop offset="0.266" stop-color="#00ff6d"/><stop offset="0.359" stop-color="#06ff00"/><stop offset="0.641" stop-color="#3dff00"/><stop offset="0.797" stop-color="#fffb00"/><stop offset="0.875" stop-color="#ffa400"/><stop offset="1" stop-color="#ff7d00"/></linearGradient><linearGradient id="g130" x1="0" y1="0" x2="0" y2="1"><stop offset="0" stop-color="#003bff"/><stop offset="0.078" stop-color="#0041ff"/><stop offset="0.109" stop-color="#0071ff"/><stop offset="0.172" stop-color="#00fdff"/><stop offset="0.25" stop-color="#00ff82"/><stop offset="0.359" stop-color="#00ff06"/><stop offset="0.641" stop-color="#30ff00"/><stop offset="0.812" stop-color="#fff700"/><stop offset="0.875" stop-color="#ffaa00"/><stop offset="1" stop-color="#ff8000"/></linearGradient><linearGradient id="g131" x1="0" y1="0" x2="0" y2="1"><stop offset="0" stop-color="#0049ff"/><stop offset="0.094" stop-color="#0050ff"/><stop offset="0.141" stop-color="#00b5ff"/><stop offset="0.156" stop-color="#00bfff"/><stop offset="0.188" stop-color="#00fff4"/><stop offset="0.266" stop-color="#00ff7f"/><stop offset="0.375" stop-color="#00ff05"/><stop offset="0.641" stop-color="#29ff00"/><stop offset="0.812" stop-color="#ffff00"/><stop offset="0.875" stop-color="#ffae00"/><stop offset="1" stop-color="#ff8200"/></linearGradient><linearGradient id="g132" x1="0" y1="0" x2="0" y2="1"><stop offset="0" stop-color="#0010ff"/><stop offset="0.094" stop-color="#0022ff"/><stop offset="0.141" stop-color="#0081ff"/><stop offset="0.156" stop-color="#00d2ff"/><stop offset="0.172" stop-color="#00fbff"/><stop offset="0.281" stop-color="#00ff5f"/><stop offset="0.359" stop-color="#00ff01"/><stop offset="0.562" stop-color="#35ff00"/><stop offset="0.672" stop-color="#fff900"/><stop offset="0.75" stop-color="#ff9f00"/><stop offset="0.844" stop-color="#ff7500"/><stop offset="1" stop-color="#ff6200"/></linearGradient><linearGradient id="g133" x1="0" y1="0" x2="0" y2="1"><stop offset="0" stop-color="#0032ff"/><stop offset="0.094" stop-color="#003aff"/><stop offset="0.188" stop-color="#00fff4"/><stop offset="0.297" stop-color="#00ff53"/><stop offset="0.375" stop-color="#02ff00"/><stop offset="0.594" stop-color="#30ff00"/><stop offset="0.719" stop-color="#fffd00"/><stop offset="0.781" stop-color="#ffaa00"/><stop offset="1" stop-color="#ff6d00"/></linearGradient><linearGradient id="g134" x1="0" y1="0" x2="0" y2="1"><stop offset="0" stop-color="#0012ff"/><stop offset="0.094" stop-color="#0019ff"/><stop offset="0.141" stop-color="#0074ff"/><stop offset="0.156" stop-color="#00c2ff"/><stop offset="0.172" stop-color="#00ebff"/><stop offset="0.203" stop-color="#00ffd9"/><stop offset="0.281" stop-color="#00ff6b"/><stop offset="0.375" stop-color="#02ff00"/><stop offset="0.562" stop-color="#2bff00"/><stop offset="0.641" stop-color="#aeff00"/><stop offset="0.688" stop-color="#fff900"/><stop offset="0.766" stop-color="#ffa300"/><stop offset="0.844" stop-color="#ff7d00"/><stop offset="1" stop-color="#ff6600"/></linearGradient><linearGradient id="g135" x1="0" y1="0" x2="0" y2="1"><stop offset="0" stop-color="#0036ff"/><stop offset="0.078" stop-color="#003cff"/><stop offset="0.125" stop-color="#0093ff"/><stop offset="0.172" stop-color="#00fffa"/><stop offset="0.25" stop-color="#00ff80"/><stop offset="0.312" stop-color="#00ff42"/><stop offset="0.375" stop-color="#00ff00"/><stop offset="0.578" stop-color="#33ff00"/><stop offset="0.609" stop-color="#4cff00"/><stop offset="0.703" stop-color="#f1ff00"/><stop offset="0.75" stop-color="#ffd000"/><stop offset="0.812" stop-color="#ff9600"/><stop offset="1" stop-color="#ff6b00"/></linearGradient><linearGradient id="g136" x1="0" y1="0" x2="0" y2="1"><stop offset="0" stop-color="#0041ff"/><stop offset="0.094" stop-color="#004aff"/><stop offset="0.125" stop-color="#0081ff"/><stop offset="0.141" stop-color="#00a6ff"/><stop offset="0.156" stop-color="#00b5ff"/><stop offset="0.188" stop-color="#00feff"/><stop offset="0.25" stop-color="#00ff94"/><stop offset="0.375" stop-color="#00ff09"/><stop offset="0.562" stop-color="#21ff00"/><stop offset="0.641" stop-color="#82ff00"/><stop offset="0.703" stop-color="#f2ff00"/><stop offset="0.766" stop-color="#ffc000"/><stop offset="0.828" stop-color="#ff9200"/><stop offset="1" stop-color="#ff7300"/></linearGradient><linearGradient id="g137" x1="0" y1="0" x2="0" y2="1"><stop offset="0" stop-color="#0017ff"/><stop offset="0.125" stop-color="#0024ff"/><stop offset="0.172" stop-color="#0089ff"/><stop offset="0.203" stop-color="#00efff"/><stop offset="0.234" stop-color="#00ffd4"/><stop offset="0.312" stop-color="#00ff5e"/><stop offset="0.391" stop-color="#00ff03"/><stop offset="0.641" stop-color="#31ff00"/><stop offset="0.766" stop-color="#fff800"/><stop offset="0.828" stop-color="#ffa900"/><stop offset="1" stop-color="#ff7900"/></linearGradient><linearGradient id="g138" x1="0" y1="0" x2="0" y2="1"><stop offset="0" stop-color="#001eff"/><stop offset="0.125" stop-color="#002fff"/><stop offset="0.156" stop-color="#0051ff"/><stop offset="0.219" stop-color="#00eeff"/><stop offset="0.25" stop-color="#00ffd2"/><stop offset="0.375" stop-color="#00ff37"/><stop offset="0.453" stop-color="#03ff00"/><stop offset="0.641" stop-color="#3bff00"/><stop offset="0.75" stop-color="#ffff00"/><stop offset="0.812" stop-color="#ffa200"/><stop offset="0.906" stop-color="#ff7200"/><stop offset="1" stop-color="#ff5d00"/></linearGradient><linearGradient id="g139" x1="0" y1="0" x2="0" y2="1"><stop offset="0" stop-color="#0042ff"/><stop offset="0.156" stop-color="#0049ff"/><stop offset="0.25" stop-color="#009dff"/><stop offset="0.266" stop-color="#008dff"/><stop offset="0.328" stop-color="#00fffd"/><stop offset="0.375" stop-color="#00ffa0"/><stop offset="0.484" stop-color="#00ff0a"/><stop offset="0.641" stop-color="#23ff00"/><stop offset="0.766" stop-color="#ffff00"/><stop offset="0.844" stop-color="#ff9400"/><stop offset="0.891" stop-color="#ff7300"/><stop offset="1" stop-color="#ff5d00"/></linearGradient><linearGradient id="g140" x1="0" y1="0" x2="0" y2="1"><stop offset="0" stop-color="#0039ff"/><stop offset="0.188" stop-color="#0047ff"/><stop offset="0.266" stop-color="#008bff"/><stop offset="0.312" stop-color="#00eaff"/><stop offset="0.328" stop-color="#00ffed"/><stop offset="0.391" stop-color="#00ff6b"/><stop offset="0.469" stop-color="#00ff02"/><stop offset="0.641" stop-color="#33ff00"/><stop offset="0.75" stop-color="#f2ff00"/><stop offset="0.812" stop-color="#ffaa00"/><stop offset="0.875" stop-color="#ff6800"/><stop offset="1" stop-color="#ff4f00"/></linearGradient><linearGradient id="g141" x1="0" y1="0" x2="0" y2="1"><stop offset="0" stop-color="#0042ff"/><stop offset="0.172" stop-color="#0049ff"/><stop offset="0.219" stop-color="#00b3ff"/><stop offset="0.234" stop-color="#00beff"/><stop offset="0.25" stop-color="#00e7ff"/><stop offset="0.266" stop-color="#00ffe0"/><stop offset="0.359" stop-color="#00ff51"/><stop offset="0.422" stop-color="#00ff02"/><stop offset="0.641" stop-color="#39ff00"/><stop offset="0.75" stop-color="#f6ff00"/><stop offset="0.875" stop-color="#ff6400"/><stop offset="1" stop-color="#ff4b00"/></linearGradient><linearGradient id="g142" x1="0" y1="0" x2="0" y2="1"><stop offset="0" stop-color="#000fff"/><stop offset="0.172" stop-color="#001aff"/><stop offset="0.219" stop-color="#006fff"/><stop offset="0.234" stop-color="#00b6ff"/><stop offset="0.25" stop-color="#00dfff"/><stop offset="0.266" stop-color="#00ffe7"/><stop offset="0.375" stop-color="#00ff54"/><stop offset="0.453" stop-color="#00ff06"/><stop offset="0.641" stop-color="#2bff00"/><stop offset="0.719" stop-color="#a7ff00"/><stop offset="0.766" stop-color="#faff00"/><stop offset="0.859" stop-color="#ff8c00"/><stop offset="1" stop-color="#ff6100"/></linearGradient><linearGradient id="g143" x1="0" y1="0" x2="0" y2="1"><stop offset="0" stop-color="#0012ff"/><stop offset="0.156" stop-color="#001aff"/><stop offset="0.203" stop-color="#0077ff"/><stop offset="0.219" stop-color="#00b9ff"/><stop offset="0.25" stop-color="#00fffd"/><stop offset="0.438" stop-color="#00ff2c"/><stop offset="0.5" stop-color="#00ff03"/><stop offset="0.656" stop-color="#24ff00"/><stop offset="0.781" stop-color="#f5ff00"/><stop offset="0.859" stop-color="#ffa500"/><stop offset="1" stop-color="#ff7500"/></linearGradient><linearGradient id="g144" x1="0" y1="0" x2="0" y2="1"><stop offset="0" stop-color="#0024ff"/><stop offset="0.156" stop-color="#0033ff"/><stop offset="0.219" stop-color="#00cbff"/><stop offset="0.234" stop-color="#00f4ff"/><stop offset="0.391" stop-color="#00ff50"/><stop offset="0.484" stop-color="#04ff00"/><stop offset="0.656" stop-color="#31ff00"/><stop offset="0.797" stop-color="#fff900"/><stop offset="0.859" stop-color="#ffbb00"/><stop offset="1" stop-color="#ff8400"/></linearGradient><linearGradient id="g145" x1="0" y1="0" x2="0" y2="1"><stop offset="0" stop-color="#003bff"/><stop offset="0.156" stop-color="#0042ff"/><stop offset="0.203" stop-color="#00a9ff"/><stop offset="0.219" stop-color="#00bcff"/><stop offset="0.25" stop-color="#00fff8"/><stop offset="0.391" stop-color="#00ff56"/><stop offset="0.484" stop-color="#00ff00"/><stop offset="0.656" stop-color="#2bff00"/><stop offset="0.844" stop-color="#fffc00"/><stop offset="1" stop-color="#ffa500"/></linearGradient><linearGradient id="g146" x1="0" y1="0" x2="0" y2="1"><stop offset="0" stop-color="#0038ff"/><stop offset="0.156" stop-color="#003fff"/><stop offset="0.25" stop-color="#00fff9"/><stop offset="0.344" stop-color="#00ff77"/><stop offset="0.469" stop-color="#01ff00"/><stop offset="0.672" stop-color="#46ff00"/><stop offset="0.875" stop-color="#fffb00"/><stop offset="1" stop-color="#ffb100"/></linearGradient><linearGradient id="g147" x1="0" y1="0" x2="0" y2="1"><stop offset="0" stop-color="#0030ff"/><stop offset="0.156" stop-color="#0037ff"/><stop offset="0.188" stop-color="#006cff"/><stop offset="0.25" stop-color="#00fffd"/><stop offset="0.359" stop-color="#00ff71"/><stop offset="0.484" stop-color="#03ff00"/><stop offset="0.672" stop-color="#3fff00"/><stop offset="0.891" stop-color="#ffff00"/><stop offset="1" stop-color="#ffbd00"/></linearGradient><linearGradient id="g148" x1="0" y1="0" x2="0" y2="1"><stop offset="0" stop-color="#003cff"/><stop offset="0.156" stop-color="#0043ff"/><stop offset="0.172" stop-color="#0052ff"/><stop offset="0.219" stop-color="#00c4ff"/><stop offset="0.234" stop-color="#00d5ff"/><stop offset="0.25" stop-color="#00feff"/><stop offset="0.406" stop-color="#00ff52"/><stop offset="0.5" stop-color="#00ff04"/><stop offset="0.672" stop-color="#34ff00"/><stop offset="0.922" stop-color="#fffc00"/><stop offset="1" stop-color="#ffcc00"/></linearGradient><linearGradient id="g149" x1="0" y1="0" x2="0" y2="1"><stop offset="0" stop-color="#0016ff"/><stop offset="0.156" stop-color="#001dff"/><stop offset="0.188" stop-color="#004cff"/><stop offset="0.219" stop-color="#0096ff"/><stop offset="0.234" stop-color="#00d6ff"/><stop offset="0.25" stop-color="#00ffff"/><stop offset="0.359" stop-color="#00ff7b"/><stop offset="0.484" stop-color="#00ff07"/><stop offset="0.656" stop-color="#2eff00"/><stop offset="0.922" stop-color="#fffe00"/><stop offset="1" stop-color="#ffce00"/></linearGradient><linearGradient id="g150" x1="0" y1="0" x2="0" y2="1"><stop offset="0" stop-color="#0009ff"/><stop offset="0.156" stop-color="#0010ff"/><stop offset="0.188" stop-color="#003dff"/><stop offset="0.219" stop-color="#0084ff"/><stop offset="0.234" stop-color="#00d3ff"/><stop offset="0.25" stop-color="#00fcff"/><stop offset="0.375" stop-color="#00ff6d"/><stop offset="0.484" stop-color="#00ff08"/><stop offset="0.656" stop-color="#2dff00"/><stop offset="0.922" stop-color="#ffff00"/><stop offset="1" stop-color="#ffcf00"/></linearGradient><linearGradient id="g151" x1="0" y1="0" x2="0" y2="1"><stop offset="0" stop-color="#000cff"/><stop offset="0.172" stop-color="#001cff"/><stop offset="0.219" stop-color="#0081ff"/><stop offset="0.234" stop-color="#00cdff"/><stop offset="0.25" stop-color="#00f6ff"/><stop offset="0.359" stop-color="#00ff75"/><stop offset="0.484" stop-color="#01ff00"/><stop offset="0.672" stop-color="#3eff00"/><stop offset="0.906" stop-color="#fffc00"/><stop offset="1" stop-color="#ffc300"/></linearGradient><linearGradient id="g152" x1="0" y1="0" x2="0" y2="1"><stop offset="0" stop-color="#0037ff"/><stop offset="0.172" stop-color="#0049ff"/><stop offset="0.25" stop-color="#00f8ff"/><stop offset="0.359" stop-color="#00ff74"/><stop offset="0.484" stop-color="#00ff01"/><stop offset="0.656" stop-color="#2dff00"/><stop offset="0.891" stop-color="#ffff00"/><stop offset="1" stop-color="#ffbd00"/></linearGradient><linearGradient id="g153" x1="0" y1="0" x2="0" y2="1"><stop offset="0" stop-color="#000aff"/><stop offset="0.141" stop-color="#0011ff"/><stop offset="0.188" stop-color="#0068ff"/><stop offset="0.203" stop-color="#00b5ff"/><stop offset="0.234" stop-color="#00fffb"/><stop offset="0.297" stop-color="#00ffbd"/><stop offset="0.484" stop-color="#00ff01"/><stop offset="0.672" stop-color="#38ff00"/><stop offset="0.875" stop-color="#fbff00"/><stop offset="1" stop-color="#ffb800"/></linearGradient><linearGradient id="g154" x1="0" y1="0" x2="0" y2="1"><stop offset="0" stop-color="#0028ff"/><stop offset="0.156" stop-color="#002fff"/><stop offset="0.188" stop-color="#005fff"/><stop offset="0.25" stop-color="#00ffff"/><stop offset="0.422" stop-color="#00ff44"/><stop offset="0.5" stop-color="#00ff07"/><stop offset="0.656" stop-color="#24ff00"/><stop offset="0.812" stop-color="#f6ff00"/><stop offset="1" stop-color="#ff9d00"/></linearGradient><linearGradient id="g155" x1="0" y1="0" x2="0" y2="1"><stop offset="0" stop-color="#0010ff"/><stop offset="0.172" stop-color="#0022ff"/><stop offset="0.219" stop-color="#0088ff"/><stop offset="0.234" stop-color="#00cfff"/><stop offset="0.25" stop-color="#00f8ff"/><stop offset="0.359" stop-color="#00ff74"/><stop offset="0.484" stop-color="#00ff02"/><stop offset="0.641" stop-color="#27ff00"/><stop offset="0.781" stop-color="#fff600"/><stop offset="0.844" stop-color="#ffaa00"/><stop offset="1" stop-color="#ff7800"/></linearGradient><linearGradient id="g156" x1="0" y1="0" x2="0" y2="1"><stop offset="0" stop-color="#003dff"/><stop offset="0.156" stop-color="#0044ff"/><stop offset="0.203" stop-color="#00afff"/><stop offset="0.219" stop-color="#00c0ff"/><stop offset="0.25" stop-color="#00fff6"/><stop offset="0.375" stop-color="#00ff66"/><stop offset="0.484" stop-color="#00ff04"/><stop offset="0.641" stop-color="#26ff00"/><stop offset="0.766" stop-color="#f3ff00"/><stop offset="0.844" stop-color="#ffaa00"/><stop offset="1" stop-color="#ff7800"/></linearGradient><linearGradient id="g157" x1="0" y1="0" x2="0" y2="1"><stop offset="0" stop-color="#0018ff"/><stop offset="0.156" stop-color="#0020ff"/><stop offset="0.203" stop-color="#0078ff"/><stop offset="0.219" stop-color="#009fff"/><stop offset="0.234" stop-color="#00dcff"/><stop offset="0.25" stop-color="#00fffc"/><stop offset="0.344" stop-color="#00ff82"/><stop offset="0.484" stop-color="#00ff03"/><stop offset="0.641" stop-color="#29ff00"/><stop offset="0.766" stop-color="#fcff00"/><stop offset="0.844" stop-color="#ffa800"/><stop offset="1" stop-color="#ff7700"/></linearGradient><linearGradient id="g158" x1="0" y1="0" x2="0" y2="1"><stop offset="0" stop-color="#001fff"/><stop offset="0.156" stop-color="#0026ff"/><stop offset="0.188" stop-color="#0052ff"/><stop offset="0.219" stop-color="#009dff"/><stop offset="0.25" stop-color="#00fbff"/><stop offset="0.281" stop-color="#00ffc4"/><stop offset="0.422" stop-color="#00ff2d"/><stop offset="0.469" stop-color="#00ff00"/><stop offset="0.641" stop-color="#33ff00"/><stop offset="0.766" stop-color="#fff900"/><stop offset="0.828" stop-color="#ffa900"/><stop offset="1" stop-color="#ff7000"/></linearGradient><linearGradient id="g159" x1="0" y1="0" x2="0" y2="1"><stop offset="0" stop-color="#002fff"/><stop offset="0.172" stop-color="#003fff"/><stop offset="0.25" stop-color="#00f5ff"/><stop offset="0.266" stop-color="#00ffd1"/><stop offset="0.375" stop-color="#00ff51"/><stop offset="0.469" stop-color="#09ff00"/><stop offset="0.641" stop-color="#3cff00"/><stop offset="0.75" stop-color="#f7ff00"/><stop offset="0.828" stop-color="#ffa300"/><stop offset="1" stop-color="#ff6900"/></linearGradient><linearGradient id="g160" x1="0" y1="0" x2="0" y2="1"><stop offset="0" stop-color="#0013ff"/><stop offset="0.172" stop-color="#0024ff"/><stop offset="0.219" stop-color="#008bff"/><stop offset="0.234" stop-color="#00ceff"/><stop offset="0.25" stop-color="#00f7ff"/><stop offset="0.438" stop-color="#00ff37"/><stop offset="0.5" stop-color="#00ff08"/><stop offset="0.641" stop-color="#1fff00"/><stop offset="0.781" stop-color="#fff600"/><stop offset="0.844" stop-color="#ffad00"/><stop offset="1" stop-color="#ff7900"/></linearGradient><linearGradient id="g161" x1="0" y1="0" x2="0" y2="1"><stop offset="0" stop-color="#0044ff"/><stop offset="0.156" stop-color="#004bff"/><stop offset="0.188" stop-color="#0083ff"/><stop offset="0.219" stop-color="#00d1ff"/><stop offset="0.234" stop-color="#00d8ff"/><stop offset="0.25" stop-color="#00fffe"/><stop offset="0.359" stop-color="#00ff71"/><stop offset="0.484" stop-color="#05ff00"/><stop offset="0.641" stop-color="#30ff00"/><stop offset="0.766" stop-color="#fffc00"/><stop offset="0.828" stop-color="#ffa900"/><stop offset="1" stop-color="#ff6d00"/></linearGradient><linearGradient id="g162" x1="0" y1="0" x2="0" y2="1"><stop offset="0" stop-color="#003eff"/><stop offset="0.141" stop-color="#0045ff"/><stop offset="0.172" stop-color="#007eff"/><stop offset="0.203" stop-color="#00ccff"/><stop offset="0.219" stop-color="#00dbff"/><stop offset="0.234" stop-color="#00fffc"/><stop offset="0.406" stop-color="#00ff3f"/><stop offset="0.484" stop-color="#03ff00"/><stop offset="0.641" stop-color="#35ff00"/><stop offset="0.75" stop-color="#f8ff00"/><stop offset="0.828" stop-color="#ffa600"/><stop offset="1" stop-color="#ff6e00"/></linearGradient><linearGradient id="g163" x1="0" y1="0" x2="0" y2="1"><stop offset="0" stop-color="#001cff"/><stop offset="0.156" stop-color="#002dff"/><stop offset="0.203" stop-color="#0095ff"/><stop offset="0.234" stop-color="#00f5ff"/><stop offset="0.422" stop-color="#00ff32"/><stop offset="0.5" stop-color="#00ff04"/><stop offset="0.641" stop-color="#27ff00"/><stop offset="0.766" stop-color="#ffff00"/><stop offset="0.828" stop-color="#ffb400"/><stop offset="1" stop-color="#ff7700"/></linearGradient><linearGradient id="g164" x1="0" y1="0" x2="0" y2="1"><stop offset="0" stop-color="#001cff"/><stop offset="0.141" stop-color="#0023ff"/><stop offset="0.188" stop-color="#0085ff"/><stop offset="0.219" stop-color="#00e6ff"/><stop offset="0.234" stop-color="#00fff5"/><stop offset="0.406" stop-color="#00ff1f"/><stop offset="0.516" stop-color="#07ff00"/><stop offset="0.641" stop-color="#28ff00"/><stop offset="0.781" stop-color="#fff900"/><stop offset="0.844" stop-color="#ffae00"/><stop offset="1" stop-color="#ff7b00"/></linearGradient><linearGradient id="g165" x1="0" y1="0" x2="0" y2="1"><stop offset="0" stop-color="#001eff"/><stop offset="0.141" stop-color="#002dff"/><stop offset="0.188" stop-color="#0090ff"/><stop offset="0.219" stop-color="#00ebff"/><stop offset="0.25" stop-color="#00ffd5"/><stop offset="0.281" stop-color="#00ffb2"/><stop offset="0.406" stop-color="#00ff0e"/><stop offset="0.516" stop-color="#10ff00"/><stop offset="0.656" stop-color="#36ff00"/><stop offset="0.797" stop-color="#fffd00"/><stop offset="0.859" stop-color="#ffb700"/><stop offset="1" stop-color="#ff8200"/></linearGradient><linearGradient id="g166" x1="0" y1="0" x2="0" y2="1"><stop offset="0" stop-color="#003aff"/><stop offset="0.125" stop-color="#0043ff"/><stop offset="0.219" stop-color="#00fffd"/><stop offset="0.281" stop-color="#00ff99"/><stop offset="0.391" stop-color="#00ff0f"/><stop offset="0.578" stop-color="#17ff00"/><stop offset="0.656" stop-color="#2fff00"/><stop offset="0.812" stop-color="#fcff00"/><stop offset="0.906" stop-color="#ffaf00"/><stop offset="1" stop-color="#ff9500"/></linearGradient><linearGradient id="g167" x1="0" y1="0" x2="0" y2="1"><stop offset="0" stop-color="#0046ff"/><stop offset="0.125" stop-color="#0050ff"/><stop offset="0.172" stop-color="#00b4ff"/><stop offset="0.188" stop-color="#00b9ff"/><stop offset="0.219" stop-color="#00fff7"/><stop offset="0.281" stop-color="#00ff80"/><stop offset="0.375" stop-color="#00ff08"/><stop offset="0.656" stop-color="#31ff00"/><stop offset="0.828" stop-color="#faff00"/><stop offset="0.922" stop-color="#ffb300"/><stop offset="1" stop-color="#ff9d00"/></linearGradient><linearGradient id="g168" x1="0" y1="0" x2="0" y2="1"><stop offset="0" stop-color="#003cff"/><stop offset="0.109" stop-color="#0043ff"/><stop offset="0.125" stop-color="#0052ff"/><stop offset="0.172" stop-color="#00c4ff"/><stop offset="0.188" stop-color="#00d5ff"/><stop offset="0.203" stop-color="#00feff"/><stop offset="0.281" stop-color="#00ff85"/><stop offset="0.375" stop-color="#00ff0a"/><stop offset="0.672" stop-color="#25ff00"/><stop offset="0.875" stop-color="#fff700"/><stop offset="0.953" stop-color="#ffbe00"/><stop offset="1" stop-color="#ffb000"/></linearGradient><linearGradient id="g169" x1="0" y1="0" x2="0" y2="1"><stop offset="0" stop-color="#003dff"/><stop offset="0.109" stop-color="#0044ff"/><stop offset="0.203" stop-color="#00fff6"/><stop offset="0.25" stop-color="#00ffa2"/><stop offset="0.344" stop-color="#00ff30"/><stop offset="0.391" stop-color="#00ff07"/><stop offset="0.656" stop-color="#22ff00"/><stop offset="0.812" stop-color="#fff900"/><stop offset="0.875" stop-color="#ffc000"/><stop offset="1" stop-color="#ff8800"/></linearGradient><linearGradient id="g170" x1="0" y1="0" x2="0" y2="1"><stop offset="0" stop-color="#0030ff"/><stop offset="0.125" stop-color="#003eff"/><stop offset="0.203" stop-color="#00f4ff"/><stop offset="0.25" stop-color="#00ffb1"/><stop offset="0.281" stop-color="#00ff73"/><stop offset="0.359" stop-color="#00ff0a"/><stop offset="0.625" stop-color="#33ff00"/><stop offset="0.656" stop-color="#43ff00"/><stop offset="0.766" stop-color="#fff800"/><stop offset="0.844" stop-color="#ffa100"/><stop offset="1" stop-color="#ff7000"/></linearGradient><linearGradient id="g171" x1="0" y1="0" x2="0" y2="1"><stop offset="0" stop-color="#002fff"/><stop offset="0.109" stop-color="#003aff"/><stop offset="0.172" stop-color="#00c7ff"/><stop offset="0.188" stop-color="#00f0ff"/><stop offset="0.234" stop-color="#00ffb3"/><stop offset="0.25" stop-color="#00ff96"/><stop offset="0.281" stop-color="#00ff7d"/><stop offset="0.359" stop-color="#00ff12"/><stop offset="0.531" stop-color="#11ff00"/><stop offset="0.594" stop-color="#29ff00"/><stop offset="0.672" stop-color="#7cff00"/><stop offset="0.719" stop-color="#d6ff00"/><stop offset="0.734" stop-color="#feff00"/><stop offset="0.781" stop-color="#ffb400"/><stop offset="0.875" stop-color="#ff8f00"/><stop offset="1" stop-color="#ff7900"/></linearGradient><linearGradient id="g172" x1="0" y1="0" x2="0" y2="1"><stop offset="0" stop-color="#0020ff"/><stop offset="0.109" stop-color="#002eff"/><stop offset="0.156" stop-color="#008fff"/><stop offset="0.188" stop-color="#00f5ff"/><stop offset="0.25" stop-color="#00ff91"/><stop offset="0.281" stop-color="#00ff79"/><stop offset="0.359" stop-color="#00ff0e"/><stop offset="0.578" stop-color="#22ff00"/><stop offset="0.703" stop-color="#dbff00"/><stop offset="0.719" stop-color="#fff800"/><stop offset="0.781" stop-color="#ff8500"/><stop offset="1" stop-color="#ff7b00"/></linearGradient><linearGradient id="g173" x1="0" y1="0" x2="0" y2="1"><stop offset="0" stop-color="#004aff"/><stop offset="0.109" stop-color="#0052ff"/><stop offset="0.156" stop-color="#00adff"/><stop offset="0.172" stop-color="#00b6ff"/><stop offset="0.203" stop-color="#00fff8"/><stop offset="0.281" stop-color="#00ff5e"/><stop offset="0.344" stop-color="#00ff06"/><stop offset="0.578" stop-color="#42ff00"/><stop offset="0.688" stop-color="#f9ff00"/><stop offset="0.719" stop-color="#ffcd00"/><stop offset="0.781" stop-color="#ff6100"/><stop offset="1" stop-color="#ff6f00"/></linearGradient><linearGradient id="g174" x1="0" y1="0" x2="0" y2="1"><stop offset="0" stop-color="#0026ff"/><stop offset="0.109" stop-color="#002dff"/><stop offset="0.156" stop-color="#0081ff"/><stop offset="0.188" stop-color="#00deff"/><stop offset="0.203" stop-color="#00fff9"/><stop offset="0.25" stop-color="#00ff9f"/><stop offset="0.266" stop-color="#00ff72"/><stop offset="0.344" stop-color="#00ff04"/><stop offset="0.562" stop-color="#43ff00"/><stop offset="0.656" stop-color="#cfff00"/><stop offset="0.688" stop-color="#fff200"/><stop offset="0.75" stop-color="#ff8300"/><stop offset="0.781" stop-color="#ff6000"/><stop offset="1" stop-color="#ff7100"/></linearGradient><linearGradient id="g175" x1="0" y1="0" x2="0" y2="1"><stop offset="0" stop-color="#0050ff"/><stop offset="0.109" stop-color="#0056ff"/><stop offset="0.125" stop-color="#0064ff"/><stop offset="0.172" stop-color="#00d0ff"/><stop offset="0.188" stop-color="#00d2ff"/><stop offset="0.203" stop-color="#00faff"/><stop offset="0.281" stop-color="#00ff6f"/><stop offset="0.359" stop-color="#00ff05"/><stop offset="0.547" stop-color="#2fff00"/><stop offset="0.609" stop-color="#7aff00"/><stop offset="0.688" stop-color="#fff800"/><stop offset="0.75" stop-color="#ff8600"/><stop offset="0.812" stop-color="#ff6700"/><stop offset="1" stop-color="#ff7700"/></linearGradient><linearGradient id="g176" x1="0" y1="0" x2="0" y2="1"><stop offset="0" stop-color="#0015ff"/><stop offset="0.109" stop-color="#0025ff"/><stop offset="0.156" stop-color="#0085ff"/><stop offset="0.172" stop-color="#00cfff"/><stop offset="0.188" stop-color="#00f8ff"/><stop offset="0.25" stop-color="#00ff8c"/><stop offset="0.297" stop-color="#00ff56"/><stop offset="0.344" stop-color="#00ff12"/><stop offset="0.484" stop-color="#14ff00"/><stop offset="0.531" stop-color="#1fff00"/><stop offset="0.625" stop-color="#a1ff00"/><stop offset="0.672" stop-color="#f7ff00"/><stop offset="0.734" stop-color="#ff8c00"/><stop offset="0.797" stop-color="#ff6b00"/><stop offset="1" stop-color="#ff7c00"/></linearGradient><linearGradient id="g177" x1="0" y1="0" x2="0" y2="1"><stop offset="0" stop-color="#001aff"/><stop offset="0.094" stop-color="#0020ff"/><stop offset="0.125" stop-color="#0049ff"/><stop offset="0.156" stop-color="#008eff"/><stop offset="0.172" stop-color="#00d3ff"/><stop offset="0.188" stop-color="#00fcff"/><stop offset="0.25" stop-color="#00ff88"/><stop offset="0.266" stop-color="#00ff88"/><stop offset="0.344" stop-color="#00ff14"/><stop offset="0.469" stop-color="#0fff00"/><stop offset="0.531" stop-color="#1eff00"/><stop offset="0.656" stop-color="#daff00"/><stop offset="0.672" stop-color="#fbff00"/><stop offset="0.734" stop-color="#ff8500"/><stop offset="0.766" stop-color="#ff7000"/><stop offset="1" stop-color="#ff7d00"/></linearGradient><linearGradient id="g178" x1="0" y1="0" x2="0" y2="1"><stop offset="0" stop-color="#001fff"/><stop offset="0.094" stop-color="#0027ff"/><stop offset="0.141" stop-color="#0083ff"/><stop offset="0.156" stop-color="#00c1ff"/><stop offset="0.188" stop-color="#00fff0"/><stop offset="0.25" stop-color="#00ff79"/><stop offset="0.266" stop-color="#00ff80"/><stop offset="0.344" stop-color="#00ff0f"/><stop offset="0.516" stop-color="#1dff00"/><stop offset="0.547" stop-color="#3cff00"/><stop offset="0.656" stop-color="#ecff00"/><stop offset="0.672" stop-color="#ffef00"/><stop offset="0.719" stop-color="#ff8e00"/><stop offset="0.75" stop-color="#ff6c00"/><stop offset="1" stop-color="#ff7d00"/></linearGradient><linearGradient id="g179" x1="0" y1="0" x2="0" y2="1"><stop offset="0" stop-color="#002cff"/><stop offset="0.094" stop-color="#0033ff"/><stop offset="0.141" stop-color="#008aff"/><stop offset="0.188" stop-color="#00fff7"/><stop offset="0.25" stop-color="#00ff7d"/><stop offset="0.312" stop-color="#00ff2b"/><stop offset="0.344" stop-color="#00ff00"/><stop offset="0.531" stop-color="#38ff00"/><stop offset="0.656" stop-color="#fffd00"/><stop offset="0.719" stop-color="#ff8300"/><stop offset="0.75" stop-color="#ff6200"/><stop offset="1" stop-color="#ff7100"/></linearGradient><linearGradient id="g180" x1="0" y1="0" x2="0" y2="1"><stop offset="0" stop-color="#0033ff"/><stop offset="0.109" stop-color="#003bff"/><stop offset="0.188" stop-color="#00e7ff"/><stop offset="0.203" stop-color="#00fff2"/><stop offset="0.25" stop-color="#00ff91"/><stop offset="0.266" stop-color="#00ff61"/><stop offset="0.328" stop-color="#00ff02"/><stop offset="0.516" stop-color="#3bff00"/><stop offset="0.641" stop-color="#f8ff00"/><stop offset="0.719" stop-color="#ff7100"/><stop offset="0.781" stop-color="#ff5b00"/><stop offset="1" stop-color="#ff6c00"/></linearGradient><linearGradient id="g181" x1="0" y1="0" x2="0" y2="1"><stop offset="0" stop-color="#0047ff"/><stop offset="0.109" stop-color="#004eff"/><stop offset="0.156" stop-color="#00aeff"/><stop offset="0.172" stop-color="#00bbff"/><stop offset="0.203" stop-color="#00fff4"/><stop offset="0.266" stop-color="#00ff7c"/><stop offset="0.344" stop-color="#00ff0c"/><stop offset="0.516" stop-color="#24ff00"/><stop offset="0.656" stop-color="#fff700"/><stop offset="0.719" stop-color="#ff7d00"/><stop offset="0.781" stop-color="#ff6600"/><stop offset="1" stop-color="#ff7600"/></linearGradient><linearGradient id="g182" x1="0" y1="0" x2="0" y2="1"><stop offset="0" stop-color="#001dff"/><stop offset="0.094" stop-color="#0026ff"/><stop offset="0.141" stop-color="#0084ff"/><stop offset="0.156" stop-color="#00c4ff"/><stop offset="0.172" stop-color="#00edff"/><stop offset="0.203" stop-color="#00ffcb"/><stop offset="0.25" stop-color="#00ff70"/><stop offset="0.328" stop-color="#04ff00"/><stop offset="0.516" stop-color="#3eff00"/><stop offset="0.641" stop-color="#fffe00"/><stop offset="0.719" stop-color="#ff6800"/><stop offset="0.812" stop-color="#ff5600"/><stop offset="1" stop-color="#ff6500"/></linearGradient><linearGradient id="g183" x1="0" y1="0" x2="0" y2="1"><stop offset="0" stop-color="#001fff"/><stop offset="0.094" stop-color="#0026ff"/><stop offset="0.141" stop-color="#0083ff"/><stop offset="0.156" stop-color="#00c1ff"/><stop offset="0.188" stop-color="#00ffee"/><stop offset="0.25" stop-color="#00ff70"/><stop offset="0.266" stop-color="#00ff6c"/><stop offset="0.328" stop-color="#00ff08"/><stop offset="0.516" stop-color="#35ff00"/><stop offset="0.641" stop-color="#fffe00"/><stop offset="0.703" stop-color="#ff8200"/><stop offset="0.734" stop-color="#ff6200"/><stop offset="1" stop-color="#ff6d00"/></linearGradient><linearGradient id="g184" x1="0" y1="0" x2="0" y2="1"><stop offset="0" stop-color="#0043ff"/><stop offset="0.094" stop-color="#004cff"/><stop offset="0.141" stop-color="#00b1ff"/><stop offset="0.156" stop-color="#00c4ff"/><stop offset="0.172" stop-color="#00edff"/><stop offset="0.203" stop-color="#00ffca"/><stop offset="0.25" stop-color="#00ff6d"/><stop offset="0.328" stop-color="#05ff00"/><stop offset="0.5" stop-color="#39ff00"/><stop offset="0.625" stop-color="#fffb00"/><stop offset="0.688" stop-color="#ff8400"/><stop offset="0.719" stop-color="#ff5f00"/><stop offset="0.969" stop-color="#ff6600"/><stop offset="1" stop-color="#ff6a00"/></linearGradient><linearGradient id="g185" x1="0" y1="0" x2="0" y2="1"><stop offset="0" stop-color="#002dff"/><stop offset="0.109" stop-color="#0034ff"/><stop offset="0.172" stop-color="#00beff"/><stop offset="0.203" stop-color="#00fff1"/><stop offset="0.281" stop-color="#00ff46"/><stop offset="0.328" stop-color="#03ff00"/><stop offset="0.5" stop-color="#3bff00"/><stop offset="0.625" stop-color="#fff600"/><stop offset="0.688" stop-color="#ff7e00"/><stop offset="0.734" stop-color="#ff5b00"/><stop offset="1" stop-color="#ff6b00"/></linearGradient><linearGradient id="g186" x1="0" y1="0" x2="0" y2="1"><stop offset="0" stop-color="#0046ff"/><stop offset="0.109" stop-color="#004fff"/><stop offset="0.156" stop-color="#00b6ff"/><stop offset="0.172" stop-color="#00c4ff"/><stop offset="0.188" stop-color="#00edff"/><stop offset="0.219" stop-color="#00ffc8"/><stop offset="0.281" stop-color="#00ff3c"/><stop offset="0.312" stop-color="#00ff08"/><stop offset="0.484" stop-color="#33ff00"/><stop offset="0.609" stop-color="#feff00"/><stop offset="0.688" stop-color="#ff6f00"/><stop offset="0.766" stop-color="#ff5500"/><stop offset="1" stop-color="#ff6b00"/></linearGradient><linearGradient id="g187" x1="0" y1="0" x2="0" y2="1"><stop offset="0" stop-color="#0040ff"/><stop offset="0.109" stop-color="#0047ff"/><stop offset="0.188" stop-color="#00e5ff"/><stop offset="0.203" stop-color="#00fff2"/><stop offset="0.281" stop-color="#00ff44"/><stop offset="0.328" stop-color="#01ff00"/><stop offset="0.484" stop-color="#2cff00"/><stop offset="0.609" stop-color="#faff00"/><stop offset="0.688" stop-color="#ff6a00"/><stop offset="0.781" stop-color="#ff5600"/><stop offset="1" stop-color="#ff6d00"/></linearGradient><linearGradient id="g188" x1="0" y1="0" x2="0" y2="1"><stop offset="0" stop-color="#0014ff"/><stop offset="0.094" stop-color="#001bff"/><stop offset="0.141" stop-color="#0067ff"/><stop offset="0.156" stop-color="#008eff"/><stop offset="0.172" stop-color="#00d9ff"/><stop offset="0.188" stop-color="#00fffc"/><stop offset="0.25" stop-color="#00ff75"/><stop offset="0.328" stop-color="#01ff00"/><stop offset="0.484" stop-color="#2fff00"/><stop offset="0.609" stop-color="#fffc00"/><stop offset="0.672" stop-color="#ff7d00"/><stop offset="0.703" stop-color="#ff5f00"/><stop offset="0.859" stop-color="#ff5800"/><stop offset="1" stop-color="#ff6d00"/></linearGradient><linearGradient id="g189" x1="0" y1="0" x2="0" y2="1"><stop offset="0" stop-color="#003bff"/><stop offset="0.094" stop-color="#0042ff"/><stop offset="0.141" stop-color="#0099ff"/><stop offset="0.188" stop-color="#00fff9"/><stop offset="0.25" stop-color="#00ff71"/><stop offset="0.312" stop-color="#00ff08"/><stop offset="0.484" stop-color="#37ff00"/><stop offset="0.594" stop-color="#f8ff00"/><stop offset="0.672" stop-color="#ff7300"/><stop offset="0.734" stop-color="#ff5400"/><stop offset="0.969" stop-color="#ff6700"/><stop offset="1" stop-color="#ff6e00"/></linearGradient><linearGradient id="g190" x1="0" y1="0" x2="0" y2="1"><stop offset="0" stop-color="#0052ff"/><stop offset="0.109" stop-color="#0062ff"/><stop offset="0.156" stop-color="#00cdff"/><stop offset="0.172" stop-color="#00ccff"/><stop offset="0.188" stop-color="#00f5ff"/><stop offset="0.281" stop-color="#00ff48"/><stop offset="0.328" stop-color="#00ff02"/><stop offset="0.484" stop-color="#33ff00"/><stop offset="0.594" stop-color="#f3ff00"/><stop offset="0.672" stop-color="#ff7500"/><stop offset="0.75" stop-color="#ff5200"/><stop offset="0.984" stop-color="#ff6a00"/><stop offset="1" stop-color="#ff6e00"/></linearGradient><linearGradient id="g191" x1="0" y1="0" x2="0" y2="1"><stop offset="0" stop-color="#001eff"/><stop offset="0.109" stop-color="#0025ff"/><stop offset="0.156" stop-color="#0083ff"/><stop offset="0.172" stop-color="#00c2ff"/><stop offset="0.203" stop-color="#00ffec"/><stop offset="0.281" stop-color="#00ff4a"/><stop offset="0.312" stop-color="#00ff12"/><stop offset="0.406" stop-color="#0dff00"/><stop offset="0.469" stop-color="#1fff00"/><stop offset="0.594" stop-color="#fbff00"/><stop offset="0.656" stop-color="#ff8500"/><stop offset="0.719" stop-color="#ff5900"/><stop offset="0.969" stop-color="#ff6a00"/><stop offset="1" stop-color="#ff7400"/></linearGradient><linearGradient id="g192" x1="0" y1="0" x2="0" y2="1"><stop offset="0" stop-color="#004bff"/><stop offset="0.094" stop-color="#0058ff"/><stop offset="0.141" stop-color="#00c2ff"/><stop offset="0.156" stop-color="#00cbff"/><stop offset="0.172" stop-color="#00f4ff"/><stop offset="0.25" stop-color="#00ff5d"/><stop offset="0.312" stop-color="#08ff00"/><stop offset="0.469" stop-color="#3bff00"/><stop offset="0.578" stop-color="#fcff00"/><stop offset="0.656" stop-color="#ff6900"/><stop offset="0.75" stop-color="#ff4800"/><stop offset="0.953" stop-color="#ff5b00"/><stop offset="1" stop-color="#ff6900"/></linearGradient><linearGradient id="g193" x1="0" y1="0" x2="0" y2="1"><stop offset="0" stop-color="#0033ff"/><stop offset="0.109" stop-color="#0045ff"/><stop offset="0.188" stop-color="#00faff"/><stop offset="0.25" stop-color="#00ff74"/><stop offset="0.281" stop-color="#00ff28"/><stop offset="0.312" stop-color="#0dff00"/><stop offset="0.469" stop-color="#3eff00"/><stop offset="0.578" stop-color="#fffb00"/><stop offset="0.656" stop-color="#ff6600"/><stop offset="0.75" stop-color="#ff4300"/><stop offset="0.953" stop-color="#ff5600"/><stop offset="1" stop-color="#ff6500"/></linearGradient><linearGradient id="g194" x1="0" y1="0" x2="0" y2="1"><stop offset="0" stop-color="#004fff"/><stop offset="0.094" stop-color="#0056ff"/><stop offset="0.125" stop-color="#0089ff"/><stop offset="0.156" stop-color="#00d2ff"/><stop offset="0.172" stop-color="#00d5ff"/><stop offset="0.188" stop-color="#00feff"/><stop offset="0.25" stop-color="#00ff70"/><stop offset="0.266" stop-color="#00ff3d"/><stop offset="0.297" stop-color="#00ff04"/><stop offset="0.469" stop-color="#48ff00"/><stop offset="0.562" stop-color="#f4ff00"/><stop offset="0.594" stop-color="#ffcc00"/><stop offset="0.656" stop-color="#ff5f00"/><stop offset="0.75" stop-color="#ff4300"/><stop offset="0.953" stop-color="#ff5600"/><stop offset="1" stop-color="#ff6400"/></linearGradient><linearGradient id="g195" x1="0" y1="0" x2="0" y2="1"><stop offset="0" stop-color="#0053ff"/><stop offset="0.094" stop-color="#005eff"/><stop offset="0.141" stop-color="#00c8ff"/><stop offset="0.156" stop-color="#00c7ff"/><stop offset="0.172" stop-color="#00f0ff"/><stop offset="0.219" stop-color="#00ff99"/><stop offset="0.25" stop-color="#00ff5c"/><stop offset="0.281" stop-color="#00ff32"/><stop offset="0.312" stop-color="#00ff01"/><stop offset="0.453" stop-color="#2aff00"/><stop offset="0.531" stop-color="#acff00"/><stop offset="0.578" stop-color="#fff600"/><stop offset="0.641" stop-color="#ff7b00"/><stop offset="0.703" stop-color="#ff4f00"/><stop offset="0.953" stop-color="#ff5d00"/><stop offset="1" stop-color="#ff6b00"/></linearGradient><linearGradient id="g196" x1="0" y1="0" x2="0" y2="1"><stop offset="0" stop-color="#001bff"/><stop offset="0.109" stop-color="#0023ff"/><stop offset="0.156" stop-color="#007cff"/><stop offset="0.172" stop-color="#00bdff"/><stop offset="0.203" stop-color="#00fff0"/><stop offset="0.25" stop-color="#00ff7f"/><stop offset="0.266" stop-color="#00ff47"/><stop offset="0.297" stop-color="#00ff0d"/><stop offset="0.359" stop-color="#1bff00"/><stop offset="0.469" stop-color="#46ff00"/><stop offset="0.562" stop-color="#f1ff00"/><stop offset="0.594" stop-color="#ffce00"/><stop offset="0.656" stop-color="#ff6200"/><stop offset="0.734" stop-color="#ff4000"/><stop offset="0.953" stop-color="#ff5100"/><stop offset="1" stop-color="#ff6000"/></linearGradient><linearGradient id="g197" x1="0" y1="0" x2="0" y2="1"><stop offset="0" stop-color="#0032ff"/><stop offset="0.094" stop-color="#0039ff"/><stop offset="0.141" stop-color="#0090ff"/><stop offset="0.188" stop-color="#00fff7"/><stop offset="0.25" stop-color="#00ff66"/><stop offset="0.312" stop-color="#00ff04"/><stop offset="0.453" stop-color="#28ff00"/><stop offset="0.562" stop-color="#efff00"/><stop offset="0.594" stop-color="#ffc900"/><stop offset="0.641" stop-color="#ff7400"/><stop offset="0.719" stop-color="#ff4a00"/><stop offset="0.953" stop-color="#ff5c00"/><stop offset="1" stop-color="#ff6b00"/></linearGradient><linearGradient id="g198" x1="0" y1="0" x2="0" y2="1"><stop offset="0" stop-color="#0022ff"/><stop offset="0.094" stop-color="#0028ff"/><stop offset="0.125" stop-color="#0051ff"/><stop offset="0.156" stop-color="#0097ff"/><stop offset="0.188" stop-color="#00fbff"/><stop offset="0.266" stop-color="#00ff50"/><stop offset="0.312" stop-color="#06ff00"/><stop offset="0.453" stop-color="#32ff00"/><stop offset="0.547" stop-color="#d4ff00"/><stop offset="0.578" stop-color="#ffeb00"/><stop offset="0.641" stop-color="#ff7200"/><stop offset="0.719" stop-color="#ff4200"/><stop offset="0.953" stop-color="#ff5100"/><stop offset="1" stop-color="#ff6000"/></linearGradient><linearGradient id="g199" x1="0" y1="0" x2="0" y2="1"><stop offset="0" stop-color="#0041ff"/><stop offset="0.109" stop-color="#004eff"/><stop offset="0.156" stop-color="#00b5ff"/><stop offset="0.172" stop-color="#00c9ff"/><stop offset="0.188" stop-color="#00f2ff"/><stop offset="0.25" stop-color="#00ff74"/><stop offset="0.297" stop-color="#00ff0d"/><stop offset="0.359" stop-color="#17ff00"/><stop offset="0.453" stop-color="#33ff00"/><stop offset="0.562" stop-color="#fdff00"/><stop offset="0.641" stop-color="#ff6800"/><stop offset="0.719" stop-color="#ff4000"/><stop offset="0.953" stop-color="#ff5100"/><stop offset="1" stop-color="#ff6000"/></linearGradient><linearGradient id="g200" x1="0" y1="0" x2="0" y2="1"><stop offset="0" stop-color="#002bff"/><stop offset="0.109" stop-color="#0032ff"/><stop offset="0.156" stop-color="#008dff"/><stop offset="0.188" stop-color="#00e5ff"/><stop offset="0.203" stop-color="#00fff0"/><stop offset="0.281" stop-color="#00ff3c"/><stop offset="0.312" stop-color="#00ff05"/><stop offset="0.453" stop-color="#26ff00"/><stop offset="0.562" stop-color="#f1ff00"/><stop offset="0.609" stop-color="#ffa100"/><stop offset="0.656" stop-color="#ff6100"/><stop offset="0.734" stop-color="#ff4600"/><stop offset="0.969" stop-color="#ff5c00"/><stop offset="1" stop-color="#ff6600"/></linearGradient><linearGradient id="g201" x1="0" y1="0" x2="0" y2="1"><stop offset="0" stop-color="#003fff"/><stop offset="0.094" stop-color="#004cff"/><stop offset="0.172" stop-color="#00f3ff"/><stop offset="0.25" stop-color="#00ff53"/><stop offset="0.266" stop-color="#00ff4a"/><stop offset="0.297" stop-color="#00ff0d"/><stop offset="0.359" stop-color="#18ff00"/><stop offset="0.453" stop-color="#36ff00"/><stop offset="0.562" stop-color="#fffc00"/><stop offset="0.625" stop-color="#ff7d00"/><stop offset="0.672" stop-color="#ff4f00"/><stop offset="0.734" stop-color="#ff3e00"/><stop offset="0.953" stop-color="#ff4e00"/><stop offset="1" stop-color="#ff5e00"/></linearGradient><linearGradient id="g202" x1="0" y1="0" x2="0" y2="1"><stop offset="0" stop-color="#0028ff"/><stop offset="0.109" stop-color="#0030ff"/><stop offset="0.156" stop-color="#008fff"/><stop offset="0.188" stop-color="#00eaff"/><stop offset="0.203" stop-color="#00ffeb"/><stop offset="0.25" stop-color="#00ff77"/><stop offset="0.266" stop-color="#00ff34"/><stop offset="0.297" stop-color="#08ff00"/><stop offset="0.453" stop-color="#47ff00"/><stop offset="0.547" stop-color="#fcff00"/><stop offset="0.625" stop-color="#ff6b00"/><stop offset="0.703" stop-color="#ff3a00"/><stop offset="0.953" stop-color="#ff4f00"/><stop offset="1" stop-color="#ff5e00"/></linearGradient><linearGradient id="g203" x1="0" y1="0" x2="0" y2="1"><stop offset="0" stop-color="#0033ff"/><stop offset="0.094" stop-color="#0039ff"/><stop offset="0.125" stop-color="#0069ff"/><stop offset="0.188" stop-color="#00fffc"/><stop offset="0.25" stop-color="#00ff65"/><stop offset="0.312" stop-color="#01ff00"/><stop offset="0.453" stop-color="#32ff00"/><stop offset="0.562" stop-color="#fffa00"/><stop offset="0.625" stop-color="#ff7b00"/><stop offset="0.688" stop-color="#ff4800"/><stop offset="0.953" stop-color="#ff5300"/><stop offset="1" stop-color="#ff6400"/></linearGradient><linearGradient id="g204" x1="0" y1="0" x2="0" y2="1"><stop offset="0" stop-color="#0022ff"/><stop offset="0.094" stop-color="#0029ff"/><stop offset="0.125" stop-color="#0053ff"/><stop offset="0.156" stop-color="#009aff"/><stop offset="0.188" stop-color="#00fdff"/><stop offset="0.281" stop-color="#00ff21"/><stop offset="0.297" stop-color="#00ff02"/><stop offset="0.453" stop-color="#40ff00"/><stop offset="0.547" stop-color="#f2ff00"/><stop offset="0.578" stop-color="#ffc900"/><stop offset="0.641" stop-color="#ff5d00"/><stop offset="0.719" stop-color="#ff3a00"/><stop offset="0.953" stop-color="#ff4c00"/><stop offset="1" stop-color="#ff5d00"/></linearGradient><linearGradient id="g205" x1="0" y1="0" x2="0" y2="1"><stop offset="0" stop-color="#0023ff"/><stop offset="0.109" stop-color="#002eff"/><stop offset="0.156" stop-color="#008eff"/><stop offset="0.188" stop-color="#00efff"/><stop offset="0.219" stop-color="#00ffbc"/><stop offset="0.25" stop-color="#00ff72"/><stop offset="0.266" stop-color="#00ff35"/><stop offset="0.297" stop-color="#06ff00"/><stop offset="0.438" stop-color="#37ff00"/><stop offset="0.547" stop-color="#fffe00"/><stop offset="0.609" stop-color="#ff8000"/><stop offset="0.656" stop-color="#ff4e00"/><stop offset="0.734" stop-color="#ff3b00"/><stop offset="0.953" stop-color="#ff4f00"/><stop offset="1" stop-color="#ff5f00"/></linearGradient><linearGradient id="g206" x1="0" y1="0" x2="0" y2="1"><stop offset="0" stop-color="#0018ff"/><stop offset="0.094" stop-color="#001fff"/><stop offset="0.141" stop-color="#006bff"/><stop offset="0.156" stop-color="#0091ff"/><stop offset="0.172" stop-color="#00d8ff"/><stop offset="0.188" stop-color="#00fffd"/><stop offset="0.25" stop-color="#00ff64"/><stop offset="0.297" stop-color="#00ff13"/><stop offset="0.391" stop-color="#0eff00"/><stop offset="0.438" stop-color="#1fff00"/><stop offset="0.547" stop-color="#eaff00"/><stop offset="0.562" stop-color="#ffef00"/><stop offset="0.609" stop-color="#ff8e00"/><stop offset="0.656" stop-color="#ff5c00"/><stop offset="0.734" stop-color="#ff4800"/><stop offset="0.953" stop-color="#ff5c00"/><stop offset="1" stop-color="#ff6d00"/></linearGradient><linearGradient id="g207" x1="0" y1="0" x2="0" y2="1"><stop offset="0" stop-color="#0012ff"/><stop offset="0.109" stop-color="#001bff"/><stop offset="0.156" stop-color="#0078ff"/><stop offset="0.172" stop-color="#00c4ff"/><stop offset="0.188" stop-color="#00edff"/><stop offset="0.219" stop-color="#00ffbe"/><stop offset="0.297" stop-color="#00ff11"/><stop offset="0.375" stop-color="#0dff00"/><stop offset="0.438" stop-color="#21ff00"/><stop offset="0.547" stop-color="#e9ff00"/><stop offset="0.562" stop-color="#fff000"/><stop offset="0.609" stop-color="#ff8e00"/><stop offset="0.656" stop-color="#ff5a00"/><stop offset="0.719" stop-color="#ff4400"/><stop offset="0.938" stop-color="#ff5100"/><stop offset="1" stop-color="#ff6a00"/></linearGradient><linearGradient id="g208" x1="0" y1="0" x2="0" y2="1"><stop offset="0" stop-color="#0052ff"/><stop offset="0.094" stop-color="#0059ff"/><stop offset="0.141" stop-color="#00beff"/><stop offset="0.156" stop-color="#00bfff"/><stop offset="0.188" stop-color="#00ffed"/><stop offset="0.25" stop-color="#00ff56"/><stop offset="0.297" stop-color="#00ff04"/><stop offset="0.438" stop-color="#2eff00"/><stop offset="0.547" stop-color="#fcff00"/><stop offset="0.609" stop-color="#ff8200"/><stop offset="0.672" stop-color="#ff4800"/><stop offset="0.828" stop-color="#ff4200"/><stop offset="0.953" stop-color="#ff5300"/><stop offset="1" stop-color="#ff6500"/></linearGradient><linearGradient id="g209" x1="0" y1="0" x2="0" y2="1"><stop offset="0" stop-color="#001bff"/><stop offset="0.109" stop-color="#0023ff"/><stop offset="0.156" stop-color="#0077ff"/><stop offset="0.172" stop-color="#00b8ff"/><stop offset="0.203" stop-color="#00fff4"/><stop offset="0.281" stop-color="#00ff28"/><stop offset="0.312" stop-color="#00ff08"/><stop offset="0.438" stop-color="#25ff00"/><stop offset="0.547" stop-color="#f8ff00"/><stop offset="0.625" stop-color="#ff6e00"/><stop offset="0.703" stop-color="#ff4400"/><stop offset="0.938" stop-color="#ff5500"/><stop offset="1" stop-color="#ff6c00"/></linearGradient><linearGradient id="g210" x1="0" y1="0" x2="0" y2="1"><stop offset="0" stop-color="#0013ff"/><stop offset="0.094" stop-color="#0019ff"/><stop offset="0.141" stop-color="#0065ff"/><stop offset="0.156" stop-color="#008cff"/><stop offset="0.172" stop-color="#00d9ff"/><stop offset="0.188" stop-color="#00fffc"/><stop offset="0.25" stop-color="#00ff60"/><stop offset="0.297" stop-color="#00ff0a"/><stop offset="0.438" stop-color="#27ff00"/><stop offset="0.547" stop-color="#f3ff00"/><stop offset="0.625" stop-color="#ff6d00"/><stop offset="0.703" stop-color="#ff3e00"/><stop offset="0.938" stop-color="#ff4c00"/><stop offset="1" stop-color="#ff6700"/></linearGradient><linearGradient id="g211" x1="0" y1="0" x2="0" y2="1"><stop offset="0" stop-color="#0020ff"/><stop offset="0.094" stop-color="#0027ff"/><stop offset="0.141" stop-color="#0084ff"/><stop offset="0.172" stop-color="#00e9ff"/><stop offset="0.188" stop-color="#00ffec"/><stop offset="0.25" stop-color="#00ff53"/><stop offset="0.266" stop-color="#00ff51"/><stop offset="0.297" stop-color="#00ff11"/><stop offset="0.344" stop-color="#08ff00"/><stop offset="0.438" stop-color="#25ff00"/><stop offset="0.547" stop-color="#edff00"/><stop offset="0.578" stop-color="#ffc700"/><stop offset="0.641" stop-color="#ff6100"/><stop offset="0.703" stop-color="#ff3e00"/><stop offset="0.953" stop-color="#ff5100"/><stop offset="1" stop-color="#ff6500"/></linearGradient><linearGradient id="g212" x1="0" y1="0" x2="0" y2="1"><stop offset="0" stop-color="#0012ff"/><stop offset="0.109" stop-color="#0025ff"/><stop offset="0.156" stop-color="#0084ff"/><stop offset="0.172" stop-color="#00d2ff"/><stop offset="0.188" stop-color="#00fbff"/><stop offset="0.25" stop-color="#00ff65"/><stop offset="0.297" stop-color="#00ff0a"/><stop offset="0.438" stop-color="#25ff00"/><stop offset="0.547" stop-color="#f5ff00"/><stop offset="0.625" stop-color="#ff6b00"/><stop offset="0.703" stop-color="#ff3e00"/><stop offset="0.938" stop-color="#ff4d00"/><stop offset="1" stop-color="#ff6800"/></linearGradient><linearGradient id="g213" x1="0" y1="0" x2="0" y2="1"><stop offset="0" stop-color="#004dff"/><stop offset="0.094" stop-color="#0054ff"/><stop offset="0.141" stop-color="#00baff"/><stop offset="0.156" stop-color="#00c0ff"/><stop offset="0.188" stop-color="#00ffeb"/><stop offset="0.25" stop-color="#00ff52"/><stop offset="0.297" stop-color="#06ff00"/><stop offset="0.438" stop-color="#35ff00"/><stop offset="0.547" stop-color="#fff900"/><stop offset="0.594" stop-color="#ff9200"/><stop offset="0.641" stop-color="#ff5600"/><stop offset="0.703" stop-color="#ff3600"/><stop offset="0.938" stop-color="#ff4600"/><stop offset="1" stop-color="#ff6100"/></linearGradient><linearGradient id="g214" x1="0" y1="0" x2="0" y2="1"><stop offset="0" stop-color="#0043ff"/><stop offset="0.094" stop-color="#004aff"/><stop offset="0.141" stop-color="#00acff"/><stop offset="0.156" stop-color="#00bfff"/><stop offset="0.188" stop-color="#00ffec"/><stop offset="0.25" stop-color="#00ff53"/><stop offset="0.266" stop-color="#00ff52"/><stop offset="0.297" stop-color="#00ff11"/><stop offset="0.391" stop-color="#12ff00"/><stop offset="0.438" stop-color="#21ff00"/><stop offset="0.547" stop-color="#edff00"/><stop offset="0.578" stop-color="#ffc500"/><stop offset="0.641" stop-color="#ff6200"/><stop offset="0.703" stop-color="#ff3f00"/><stop offset="0.938" stop-color="#ff4d00"/><stop offset="1" stop-color="#ff6900"/></linearGradient><linearGradient id="g215" x1="0" y1="0" x2="0" y2="1"><stop offset="0" stop-color="#0034ff"/><stop offset="0.109" stop-color="#0041ff"/><stop offset="0.188" stop-color="#00f1ff"/><stop offset="0.234" stop-color="#00ff8c"/><stop offset="0.281" stop-color="#00ff16"/><stop offset="0.297" stop-color="#0aff00"/><stop offset="0.438" stop-color="#36ff00"/><stop offset="0.547" stop-color="#fffa00"/><stop offset="0.609" stop-color="#ff7b00"/><stop offset="0.656" stop-color="#ff4900"/><stop offset="0.703" stop-color="#ff3200"/><stop offset="0.938" stop-color="#ff4100"/><stop offset="1" stop-color="#ff5e00"/></linearGradient><linearGradient id="g216" x1="0" y1="0" x2="0" y2="1"><stop offset="0" stop-color="#003bff"/><stop offset="0.094" stop-color="#0045ff"/><stop offset="0.172" stop-color="#00eeff"/><stop offset="0.203" stop-color="#00ffba"/><stop offset="0.25" stop-color="#00ff4e"/><stop offset="0.266" stop-color="#00ff57"/><stop offset="0.297" stop-color="#00ff17"/><stop offset="0.375" stop-color="#09ff00"/><stop offset="0.438" stop-color="#1dff00"/><stop offset="0.547" stop-color="#e4ff00"/><stop offset="0.562" stop-color="#fff300"/><stop offset="0.609" stop-color="#ff9000"/><stop offset="0.672" stop-color="#ff4f00"/><stop offset="0.75" stop-color="#ff4000"/><stop offset="0.953" stop-color="#ff5400"/><stop offset="1" stop-color="#ff6b00"/></linearGradient><linearGradient id="g217" x1="0" y1="0" x2="0" y2="1"><stop offset="0" stop-color="#003dff"/><stop offset="0.094" stop-color="#0048ff"/><stop offset="0.172" stop-color="#00f0ff"/><stop offset="0.219" stop-color="#00ff8d"/><stop offset="0.297" stop-color="#00ff00"/><stop offset="0.438" stop-color="#30ff00"/><stop offset="0.547" stop-color="#fffc00"/><stop offset="0.594" stop-color="#ff9600"/><stop offset="0.641" stop-color="#ff5800"/><stop offset="0.703" stop-color="#ff3600"/><stop offset="0.938" stop-color="#ff4800"/><stop offset="1" stop-color="#ff6500"/></linearGradient><linearGradient id="g218" x1="0" y1="0" x2="0" y2="1"><stop offset="0" stop-color="#002bff"/><stop offset="0.094" stop-color="#0032ff"/><stop offset="0.125" stop-color="#005fff"/><stop offset="0.188" stop-color="#00fffe"/><stop offset="0.281" stop-color="#00ff16"/><stop offset="0.297" stop-color="#04ff00"/><stop offset="0.438" stop-color="#32ff00"/><stop offset="0.547" stop-color="#fffc00"/><stop offset="0.609" stop-color="#ff7d00"/><stop offset="0.688" stop-color="#ff3500"/><stop offset="0.938" stop-color="#ff4500"/><stop offset="1" stop-color="#ff6200"/></linearGradient><linearGradient id="g219" x1="0" y1="0" x2="0" y2="1"><stop offset="0" stop-color="#003eff"/><stop offset="0.094" stop-color="#004bff"/><stop offset="0.172" stop-color="#00f4ff"/><stop offset="0.25" stop-color="#00ff49"/><stop offset="0.266" stop-color="#00ff52"/><stop offset="0.297" stop-color="#00ff11"/><stop offset="0.375" stop-color="#0eff00"/><stop offset="0.453" stop-color="#31ff00"/><stop offset="0.562" stop-color="#fff500"/><stop offset="0.609" stop-color="#ff9100"/><stop offset="0.656" stop-color="#ff5800"/><stop offset="0.719" stop-color="#ff3a00"/><stop offset="0.938" stop-color="#ff4800"/><stop offset="1" stop-color="#ff6800"/></linearGradient><linearGradient id="g220" x1="0" y1="0" x2="0" y2="1"><stop offset="0" stop-color="#0027ff"/><stop offset="0.094" stop-color="#002eff"/><stop offset="0.125" stop-color="#0057ff"/><stop offset="0.156" stop-color="#009fff"/><stop offset="0.188" stop-color="#00fcff"/><stop offset="0.25" stop-color="#00ff63"/><stop offset="0.297" stop-color="#00ff03"/><stop offset="0.438" stop-color="#29ff00"/><stop offset="0.547" stop-color="#f2ff00"/><stop offset="0.609" stop-color="#ff8800"/><stop offset="0.672" stop-color="#ff4500"/><stop offset="0.75" stop-color="#ff3600"/><stop offset="0.938" stop-color="#ff4500"/><stop offset="1" stop-color="#ff6600"/></linearGradient><linearGradient id="g221" x1="0" y1="0" x2="0" y2="1"><stop offset="0" stop-color="#0050ff"/><stop offset="0.109" stop-color="#0057ff"/><stop offset="0.156" stop-color="#00bfff"/><stop offset="0.172" stop-color="#00c1ff"/><stop offset="0.188" stop-color="#00eaff"/><stop offset="0.203" stop-color="#00ffea"/><stop offset="0.25" stop-color="#00ff71"/><stop offset="0.266" stop-color="#00ff3b"/><stop offset="0.297" stop-color="#00ff00"/><stop offset="0.438" stop-color="#2bff00"/><stop offset="0.547" stop-color="#f8ff00"/><stop offset="0.625" stop-color="#ff6b00"/><stop offset="0.703" stop-color="#ff3300"/><stop offset="0.938" stop-color="#ff4500"/><stop offset="1" stop-color="#ff6500"/></linearGradient><linearGradient id="g222" x1="0" y1="0" x2="0" y2="1"><stop offset="0" stop-color="#002bff"/><stop offset="0.094" stop-color="#0033ff"/><stop offset="0.141" stop-color="#0094ff"/><stop offset="0.172" stop-color="#00ecff"/><stop offset="0.203" stop-color="#00ffbd"/><stop offset="0.25" stop-color="#00ff50"/><stop offset="0.281" stop-color="#00ff24"/><stop offset="0.297" stop-color="#00ff03"/><stop offset="0.453" stop-color="#3aff00"/><stop offset="0.547" stop-color="#eeff00"/><stop offset="0.562" stop-color="#fff000"/><stop offset="0.609" stop-color="#ff8c00"/><stop offset="0.672" stop-color="#ff4500"/><stop offset="0.719" stop-color="#ff3100"/><stop offset="0.938" stop-color="#ff4100"/><stop offset="1" stop-color="#ff6300"/></linearGradient><linearGradient id="g223" x1="0" y1="0" x2="0" y2="1"><stop offset="0" stop-color="#0038ff"/><stop offset="0.109" stop-color="#0040ff"/><stop offset="0.188" stop-color="#00e2ff"/><stop offset="0.203" stop-color="#00fff2"/><stop offset="0.25" stop-color="#00ff77"/><stop offset="0.266" stop-color="#00ff2c"/><stop offset="0.281" stop-color="#00ff0b"/><stop offset="0.438" stop-color="#39ff00"/><stop offset="0.547" stop-color="#fffc00"/><stop offset="0.609" stop-color="#ff7d00"/><stop offset="0.688" stop-color="#ff2d00"/><stop offset="0.938" stop-color="#ff3c00"/><stop offset="1" stop-color="#ff5d00"/></linearGradient><linearGradient id="g224" x1="0" y1="0" x2="0" y2="1"><stop offset="0" stop-color="#0030ff"/><stop offset="0.109" stop-color="#003cff"/><stop offset="0.188" stop-color="#00f1ff"/><stop offset="0.234" stop-color="#00ff8c"/><stop offset="0.297" stop-color="#02ff00"/><stop offset="0.438" stop-color="#2cff00"/><stop offset="0.547" stop-color="#f3ff00"/><stop offset="0.625" stop-color="#ff6f00"/><stop offset="0.703" stop-color="#ff3000"/><stop offset="0.938" stop-color="#ff4100"/><stop offset="1" stop-color="#ff6300"/></linearGradient><linearGradient id="g225" x1="0" y1="0" x2="0" y2="1"><stop offset="0" stop-color="#0016ff"/><stop offset="0.094" stop-color="#001dff"/><stop offset="0.141" stop-color="#0070ff"/><stop offset="0.156" stop-color="#00b8ff"/><stop offset="0.188" stop-color="#00fff4"/><stop offset="0.281" stop-color="#00ff0f"/><stop offset="0.328" stop-color="#17ff00"/><stop offset="0.438" stop-color="#38ff00"/><stop offset="0.547" stop-color="#fffe00"/><stop offset="0.625" stop-color="#ff6600"/><stop offset="0.703" stop-color="#ff2a00"/><stop offset="0.938" stop-color="#ff3c00"/><stop offset="1" stop-color="#ff5d00"/></linearGradient><linearGradient id="g226" x1="0" y1="0" x2="0" y2="1"><stop offset="0" stop-color="#004cff"/><stop offset="0.094" stop-color="#0058ff"/><stop offset="0.141" stop-color="#00c2ff"/><stop offset="0.156" stop-color="#00c9ff"/><stop offset="0.172" stop-color="#00f2ff"/><stop offset="0.234" stop-color="#00ff6b"/><stop offset="0.25" stop-color="#00ff4b"/><stop offset="0.266" stop-color="#00ff43"/><stop offset="0.297" stop-color="#00ff02"/><stop offset="0.453" stop-color="#3aff00"/><stop offset="0.547" stop-color="#eeff00"/><stop offset="0.562" stop-color="#ffef00"/><stop offset="0.609" stop-color="#ff8c00"/><stop offset="0.656" stop-color="#ff5200"/><stop offset="0.719" stop-color="#ff3100"/><stop offset="0.938" stop-color="#ff4100"/><stop offset="1" stop-color="#ff6300"/></linearGradient><linearGradient id="g227" x1="0" y1="0" x2="0" y2="1"><stop offset="0" stop-color="#004dff"/><stop offset="0.109" stop-color="#0055ff"/><stop offset="0.156" stop-color="#00bdff"/><stop offset="0.172" stop-color="#00c3ff"/><stop offset="0.188" stop-color="#00ebff"/><stop offset="0.219" stop-color="#00ffbd"/><stop offset="0.297" stop-color="#00ff09"/><stop offset="0.438" stop-color="#22ff00"/><stop offset="0.547" stop-color="#eaff00"/><stop offset="0.562" stop-color="#ffef00"/><stop offset="0.609" stop-color="#ff8d00"/><stop offset="0.672" stop-color="#ff4800"/><stop offset="0.734" stop-color="#ff3700"/><stop offset="0.938" stop-color="#ff4800"/><stop offset="1" stop-color="#ff6900"/></linearGradient><linearGradient id="g228" x1="0" y1="0" x2="0" y2="1"><stop offset="0" stop-color="#0024ff"/><stop offset="0.109" stop-color="#0030ff"/><stop offset="0.156" stop-color="#0091ff"/><stop offset="0.188" stop-color="#00f1ff"/><stop offset="0.219" stop-color="#00ffb7"/><stop offset="0.281" stop-color="#00ff19"/><stop offset="0.297" stop-color="#07ff00"/><stop offset="0.453" stop-color="#43ff00"/><stop offset="0.547" stop-color="#f7ff00"/><stop offset="0.625" stop-color="#ff6d00"/><stop offset="0.703" stop-color="#ff2b00"/><stop offset="0.938" stop-color="#ff3b00"/><stop offset="1" stop-color="#ff5e00"/></linearGradient><linearGradient id="g229" x1="0" y1="0" x2="0" y2="1"><stop offset="0" stop-color="#0024ff"/><stop offset="0.109" stop-color="#0036ff"/><stop offset="0.156" stop-color="#0098ff"/><stop offset="0.188" stop-color="#00f8ff"/><stop offset="0.25" stop-color="#00ff66"/><stop offset="0.266" stop-color="#00ff29"/><stop offset="0.281" stop-color="#00ff08"/><stop offset="0.438" stop-color="#39ff00"/><stop offset="0.547" stop-color="#fffa00"/><stop offset="0.609" stop-color="#ff7a00"/><stop offset="0.688" stop-color="#ff2b00"/><stop offset="0.938" stop-color="#ff3d00"/><stop offset="1" stop-color="#ff5c00"/></linearGradient><linearGradient id="g230" x1="0" y1="0" x2="0" y2="1"><stop offset="0" stop-color="#0021ff"/><stop offset="0.094" stop-color="#002eff"/><stop offset="0.141" stop-color="#008eff"/><stop offset="0.172" stop-color="#00f4ff"/><stop offset="0.25" stop-color="#00ff4a"/><stop offset="0.266" stop-color="#00ff51"/><stop offset="0.297" stop-color="#00ff10"/><stop offset="0.422" stop-color="#1aff00"/><stop offset="0.453" stop-color="#2cff00"/><stop offset="0.562" stop-color="#fffa00"/><stop offset="0.609" stop-color="#ff9500"/><stop offset="0.656" stop-color="#ff5900"/><stop offset="0.719" stop-color="#ff3800"/><stop offset="0.938" stop-color="#ff4700"/><stop offset="1" stop-color="#ff6900"/></linearGradient><linearGradient id="g231" x1="0" y1="0" x2="0" y2="1"><stop offset="0" stop-color="#001cff"/><stop offset="0.109" stop-color="#0024ff"/><stop offset="0.156" stop-color="#007cff"/><stop offset="0.172" stop-color="#00bcff"/><stop offset="0.203" stop-color="#00ffef"/><stop offset="0.266" stop-color="#00ff52"/><stop offset="0.297" stop-color="#00ff12"/><stop offset="0.359" stop-color="#09ff00"/><stop offset="0.453" stop-color="#2bff00"/><stop offset="0.562" stop-color="#fffd00"/><stop offset="0.609" stop-color="#ff9600"/><stop offset="0.656" stop-color="#ff5900"/><stop offset="0.719" stop-color="#ff3600"/><stop offset="0.938" stop-color="#ff4400"/><stop offset="1" stop-color="#ff6600"/></linearGradient><linearGradient id="g232" x1="0" y1="0" x2="0" y2="1"><stop offset="0" stop-color="#0048ff"/><stop offset="0.094" stop-color="#004fff"/><stop offset="0.141" stop-color="#00aaff"/><stop offset="0.156" stop-color="#00b5ff"/><stop offset="0.188" stop-color="#00fff6"/><stop offset="0.266" stop-color="#00ff38"/><stop offset="0.297" stop-color="#07ff00"/><stop offset="0.438" stop-color="#32ff00"/><stop offset="0.531" stop-color="#daff00"/><stop offset="0.547" stop-color="#f8ff00"/><stop offset="0.625" stop-color="#ff6c00"/><stop offset="0.703" stop-color="#ff2d00"/><stop offset="0.938" stop-color="#ff3e00"/><stop offset="1" stop-color="#ff6000"/></linearGradient><linearGradient id="g233" x1="0" y1="0" x2="0" y2="1"><stop offset="0" stop-color="#0023ff"/><stop offset="0.094" stop-color="#002fff"/><stop offset="0.141" stop-color="#0090ff"/><stop offset="0.172" stop-color="#00f2ff"/><stop offset="0.234" stop-color="#00ff6b"/><stop offset="0.25" stop-color="#00ff4a"/><stop offset="0.266" stop-color="#00ff49"/><stop offset="0.297" stop-color="#00ff0e"/><stop offset="0.438" stop-color="#1dff00"/><stop offset="0.547" stop-color="#e8ff00"/><stop offset="0.562" stop-color="#ffee00"/><stop offset="0.625" stop-color="#ff7400"/><stop offset="0.703" stop-color="#ff3900"/><stop offset="0.938" stop-color="#ff4c00"/><stop offset="1" stop-color="#ff6d00"/></linearGradient><linearGradient id="g234" x1="0" y1="0" x2="0" y2="1"><stop offset="0" stop-color="#0030ff"/><stop offset="0.109" stop-color="#003bff"/><stop offset="0.172" stop-color="#00c8ff"/><stop offset="0.188" stop-color="#00f1ff"/><stop offset="0.219" stop-color="#00ffb8"/><stop offset="0.266" stop-color="#00ff51"/><stop offset="0.297" stop-color="#00ff11"/><stop offset="0.359" stop-color="#0bff00"/><stop offset="0.453" stop-color="#2cff00"/><stop offset="0.562" stop-color="#fffc00"/><stop offset="0.609" stop-color="#ff9600"/><stop offset="0.656" stop-color="#ff5900"/><stop offset="0.719" stop-color="#ff3500"/><stop offset="0.938" stop-color="#ff4300"/><stop offset="1" stop-color="#ff6500"/></linearGradient><linearGradient id="g235" x1="0" y1="0" x2="0" y2="1"><stop offset="0" stop-color="#0020ff"/><stop offset="0.094" stop-color="#002cff"/><stop offset="0.141" stop-color="#008cff"/><stop offset="0.172" stop-color="#00f2ff"/><stop offset="0.234" stop-color="#00ff6b"/><stop offset="0.25" stop-color="#00ff4b"/><stop offset="0.266" stop-color="#00ff4e"/><stop offset="0.297" stop-color="#00ff0e"/><stop offset="0.438" stop-color="#1dff00"/><stop offset="0.531" stop-color="#c5ff00"/><stop offset="0.562" stop-color="#fff500"/><stop offset="0.609" stop-color="#ff9100"/><stop offset="0.672" stop-color="#ff4b00"/><stop offset="0.734" stop-color="#ff3a00"/><stop offset="0.938" stop-color="#ff4a00"/><stop offset="1" stop-color="#ff6c00"/></linearGradient><linearGradient id="g236" x1="0" y1="0" x2="0" y2="1"><stop offset="0" stop-color="#001cff"/><stop offset="0.094" stop-color="#0029ff"/><stop offset="0.141" stop-color="#0089ff"/><stop offset="0.156" stop-color="#00cbff"/><stop offset="0.172" stop-color="#00f4ff"/><stop offset="0.25" stop-color="#00ff49"/><stop offset="0.281" stop-color="#00ff1c"/><stop offset="0.297" stop-color="#04ff00"/><stop offset="0.453" stop-color="#41ff00"/><stop offset="0.547" stop-color="#f5ff00"/><stop offset="0.578" stop-color="#ffc700"/><stop offset="0.641" stop-color="#ff5a00"/><stop offset="0.703" stop-color="#ff2a00"/><stop offset="0.938" stop-color="#ff3900"/><stop offset="1" stop-color="#ff5b00"/></linearGradient><linearGradient id="g237" x1="0" y1="0" x2="0" y2="1"><stop offset="0" stop-color="#0019ff"/><stop offset="0.109" stop-color="#0020ff"/><stop offset="0.156" stop-color="#0076ff"/><stop offset="0.172" stop-color="#00bbff"/><stop offset="0.203" stop-color="#00fff1"/><stop offset="0.25" stop-color="#00ff76"/><stop offset="0.266" stop-color="#00ff38"/><stop offset="0.297" stop-color="#05ff00"/><stop offset="0.438" stop-color="#30ff00"/><stop offset="0.547" stop-color="#f8ff00"/><stop offset="0.625" stop-color="#ff6b00"/><stop offset="0.703" stop-color="#ff2e00"/><stop offset="0.938" stop-color="#ff4000"/><stop offset="1" stop-color="#ff6100"/></linearGradient><linearGradient id="g238" x1="0" y1="0" x2="0" y2="1"><stop offset="0" stop-color="#001cff"/><stop offset="0.094" stop-color="#0023ff"/><stop offset="0.141" stop-color="#0080ff"/><stop offset="0.156" stop-color="#00c1ff"/><stop offset="0.172" stop-color="#00eaff"/><stop offset="0.188" stop-color="#00ffea"/><stop offset="0.25" stop-color="#00ff51"/><stop offset="0.266" stop-color="#00ff45"/><stop offset="0.297" stop-color="#00ff09"/><stop offset="0.438" stop-color="#22ff00"/><stop offset="0.547" stop-color="#ecff00"/><stop offset="0.578" stop-color="#ffc600"/><stop offset="0.641" stop-color="#ff6100"/><stop offset="0.703" stop-color="#ff3600"/><stop offset="0.938" stop-color="#ff4800"/><stop offset="1" stop-color="#ff6a00"/></linearGradient><linearGradient id="g239" x1="0" y1="0" x2="0" y2="1"><stop offset="0" stop-color="#0050ff"/><stop offset="0.094" stop-color="#0057ff"/><stop offset="0.125" stop-color="#008cff"/><stop offset="0.156" stop-color="#00d6ff"/><stop offset="0.172" stop-color="#00d8ff"/><stop offset="0.188" stop-color="#00fffd"/><stop offset="0.25" stop-color="#00ff5f"/><stop offset="0.297" stop-color="#00ff0d"/><stop offset="0.438" stop-color="#20ff00"/><stop offset="0.547" stop-color="#ecff00"/><stop offset="0.578" stop-color="#ffc500"/><stop offset="0.641" stop-color="#ff6100"/><stop offset="0.703" stop-color="#ff3700"/><stop offset="0.938" stop-color="#ff4b00"/><stop offset="1" stop-color="#ff6c00"/></linearGradient><linearGradient id="g240" x1="0" y1="0" x2="0" y2="1"><stop offset="0" stop-color="#002aff"/><stop offset="0.094" stop-color="#0037ff"/><stop offset="0.141" stop-color="#009aff"/><stop offset="0.172" stop-color="#00f4ff"/><stop offset="0.25" stop-color="#00ff49"/><stop offset="0.266" stop-color="#00ff4f"/><stop offset="0.297" stop-color="#00ff0f"/><stop offset="0.438" stop-color="#1fff00"/><stop offset="0.531" stop-color="#c6ff00"/><stop offset="0.562" stop-color="#fff500"/><stop offset="0.609" stop-color="#ff9200"/><stop offset="0.672" stop-color="#ff4900"/><stop offset="0.719" stop-color="#ff3600"/><stop offset="0.938" stop-color="#ff4600"/><stop offset="1" stop-color="#ff6a00"/></linearGradient><linearGradient id="g241" x1="0" y1="0" x2="0" y2="1"><stop offset="0" stop-color="#0019ff"/><stop offset="0.109" stop-color="#0020ff"/><stop offset="0.156" stop-color="#007bff"/><stop offset="0.172" stop-color="#00bfff"/><stop offset="0.203" stop-color="#00ffec"/><stop offset="0.266" stop-color="#00ff51"/><stop offset="0.297" stop-color="#00ff10"/><stop offset="0.422" stop-color="#1bff00"/><stop offset="0.453" stop-color="#31ff00"/><stop offset="0.562" stop-color="#fff600"/><stop offset="0.609" stop-color="#ff9200"/><stop offset="0.672" stop-color="#ff4900"/><stop offset="0.719" stop-color="#ff3500"/><stop offset="0.938" stop-color="#ff4400"/><stop offset="1" stop-color="#ff6900"/></linearGradient><linearGradient id="g242" x1="0" y1="0" x2="0" y2="1"><stop offset="0" stop-color="#0014ff"/><stop offset="0.109" stop-color="#001dff"/><stop offset="0.156" stop-color="#0079ff"/><stop offset="0.172" stop-color="#00c3ff"/><stop offset="0.188" stop-color="#00ecff"/><stop offset="0.219" stop-color="#00ffbd"/><stop offset="0.25" stop-color="#00ff70"/><stop offset="0.266" stop-color="#00ff37"/><stop offset="0.297" stop-color="#09ff00"/><stop offset="0.438" stop-color="#38ff00"/><stop offset="0.547" stop-color="#fdff00"/><stop offset="0.625" stop-color="#ff6900"/><stop offset="0.703" stop-color="#ff2600"/><stop offset="0.938" stop-color="#ff3700"/><stop offset="1" stop-color="#ff5c00"/></linearGradient><linearGradient id="g243" x1="0" y1="0" x2="0" y2="1"><stop offset="0" stop-color="#0051ff"/><stop offset="0.109" stop-color="#005cff"/><stop offset="0.156" stop-color="#00c6ff"/><stop offset="0.172" stop-color="#00c7ff"/><stop offset="0.188" stop-color="#00efff"/><stop offset="0.219" stop-color="#00ffb9"/><stop offset="0.25" stop-color="#00ff6d"/><stop offset="0.266" stop-color="#00ff27"/><stop offset="0.281" stop-color="#00ff07"/><stop offset="0.438" stop-color="#40ff00"/><stop offset="0.531" stop-color="#efff00"/><stop offset="0.547" stop-color="#fff500"/><stop offset="0.594" stop-color="#ff9000"/><stop offset="0.641" stop-color="#ff4e00"/><stop offset="0.703" stop-color="#ff2400"/><stop offset="0.938" stop-color="#ff3800"/><stop offset="1" stop-color="#ff5b00"/></linearGradient><linearGradient id="g244" x1="0" y1="0" x2="0" y2="1"><stop offset="0" stop-color="#0030ff"/><stop offset="0.094" stop-color="#0037ff"/><stop offset="0.141" stop-color="#0091ff"/><stop offset="0.188" stop-color="#00fff2"/><stop offset="0.25" stop-color="#00ff57"/><stop offset="0.297" stop-color="#0aff00"/><stop offset="0.438" stop-color="#39ff00"/><stop offset="0.547" stop-color="#ffff00"/><stop offset="0.625" stop-color="#ff6700"/><stop offset="0.703" stop-color="#ff2400"/><stop offset="0.938" stop-color="#ff3500"/><stop offset="1" stop-color="#ff5b00"/></linearGradient><linearGradient id="g245" x1="0" y1="0" x2="0" y2="1"><stop offset="0" stop-color="#0027ff"/><stop offset="0.094" stop-color="#002eff"/><stop offset="0.141" stop-color="#0088ff"/><stop offset="0.172" stop-color="#00e5ff"/><stop offset="0.188" stop-color="#00ffef"/><stop offset="0.25" stop-color="#00ff55"/><stop offset="0.266" stop-color="#00ff54"/><stop offset="0.297" stop-color="#00ff13"/><stop offset="0.391" stop-color="#0fff00"/><stop offset="0.438" stop-color="#1dff00"/><stop offset="0.562" stop-color="#fff400"/><stop offset="0.609" stop-color="#ff9100"/><stop offset="0.688" stop-color="#ff3900"/><stop offset="0.938" stop-color="#ff4300"/><stop offset="1" stop-color="#ff6b00"/></linearGradient><linearGradient id="g246" x1="0" y1="0" x2="0" y2="1"><stop offset="0" stop-color="#002eff"/><stop offset="0.094" stop-color="#0035ff"/><stop offset="0.141" stop-color="#0086ff"/><stop offset="0.188" stop-color="#00fffd"/><stop offset="0.266" stop-color="#00ff38"/><stop offset="0.297" stop-color="#03ff00"/><stop offset="0.438" stop-color="#34ff00"/><stop offset="0.547" stop-color="#feff00"/><stop offset="0.609" stop-color="#ff7f00"/><stop offset="0.688" stop-color="#ff2900"/><stop offset="0.922" stop-color="#ff3300"/><stop offset="1" stop-color="#ff6300"/></linearGradient><linearGradient id="g247" x1="0" y1="0" x2="0" y2="1"><stop offset="0" stop-color="#0047ff"/><stop offset="0.109" stop-color="#0050ff"/><stop offset="0.156" stop-color="#00b7ff"/><stop offset="0.172" stop-color="#00c4ff"/><stop offset="0.188" stop-color="#00edff"/><stop offset="0.219" stop-color="#00ffbc"/><stop offset="0.281" stop-color="#00ff20"/><stop offset="0.297" stop-color="#00ff00"/><stop offset="0.438" stop-color="#2eff00"/><stop offset="0.547" stop-color="#f7ff00"/><stop offset="0.625" stop-color="#ff6b00"/><stop offset="0.703" stop-color="#ff2800"/><stop offset="0.938" stop-color="#ff3a00"/><stop offset="1" stop-color="#ff6300"/></linearGradient><linearGradient id="g248" x1="0" y1="0" x2="0" y2="1"><stop offset="0" stop-color="#0048ff"/><stop offset="0.109" stop-color="#0050ff"/><stop offset="0.156" stop-color="#00b7ff"/><stop offset="0.172" stop-color="#00c2ff"/><stop offset="0.188" stop-color="#00ebff"/><stop offset="0.203" stop-color="#00ffe9"/><stop offset="0.25" stop-color="#00ff70"/><stop offset="0.266" stop-color="#00ff31"/><stop offset="0.297" stop-color="#0dff00"/><stop offset="0.438" stop-color="#44ff00"/><stop offset="0.531" stop-color="#f9ff00"/><stop offset="0.562" stop-color="#ffca00"/><stop offset="0.625" stop-color="#ff5b00"/><stop offset="0.703" stop-color="#ff2000"/><stop offset="0.938" stop-color="#ff3300"/><stop offset="1" stop-color="#ff5d00"/></linearGradient><linearGradient id="g249" x1="0" y1="0" x2="0" y2="1"><stop offset="0" stop-color="#001aff"/><stop offset="0.109" stop-color="#0026ff"/><stop offset="0.156" stop-color="#0085ff"/><stop offset="0.172" stop-color="#00c8ff"/><stop offset="0.188" stop-color="#00f1ff"/><stop offset="0.219" stop-color="#00ffb8"/><stop offset="0.25" stop-color="#00ff6c"/><stop offset="0.266" stop-color="#00ff2b"/><stop offset="0.281" stop-color="#00ff0b"/><stop offset="0.422" stop-color="#43ff00"/><stop offset="0.516" stop-color="#f6ff00"/><stop offset="0.609" stop-color="#ff5e00"/><stop offset="0.672" stop-color="#ff2500"/><stop offset="0.922" stop-color="#ff2a00"/><stop offset="1" stop-color="#ff5e00"/></linearGradient><linearGradient id="g250" x1="0" y1="0" x2="0" y2="1"><stop offset="0" stop-color="#0051ff"/><stop offset="0.094" stop-color="#0058ff"/><stop offset="0.109" stop-color="#0065ff"/><stop offset="0.156" stop-color="#00d0ff"/><stop offset="0.172" stop-color="#00d1ff"/><stop offset="0.188" stop-color="#00f9ff"/><stop offset="0.25" stop-color="#00ff65"/><stop offset="0.281" stop-color="#00ff35"/><stop offset="0.312" stop-color="#00ff09"/><stop offset="0.422" stop-color="#26ff00"/><stop offset="0.531" stop-color="#fff500"/><stop offset="0.594" stop-color="#ff7b00"/><stop offset="0.672" stop-color="#ff2c00"/><stop offset="0.938" stop-color="#ff3a00"/><stop offset="1" stop-color="#ff6900"/></linearGradient><linearGradient id="g251" x1="0" y1="0" x2="0" y2="1"><stop offset="0" stop-color="#0011ff"/><stop offset="0.094" stop-color="#0019ff"/><stop offset="0.141" stop-color="#0075ff"/><stop offset="0.156" stop-color="#00c4ff"/><stop offset="0.172" stop-color="#00edff"/><stop offset="0.203" stop-color="#00ffbc"/><stop offset="0.25" stop-color="#00ff4f"/><stop offset="0.266" stop-color="#00ff44"/><stop offset="0.297" stop-color="#00ff0a"/><stop offset="0.406" stop-color="#1fff00"/><stop offset="0.5" stop-color="#d2ff00"/><stop offset="0.516" stop-color="#f6ff00"/><stop offset="0.594" stop-color="#ff6e00"/><stop offset="0.656" stop-color="#ff2b00"/><stop offset="0.922" stop-color="#ff3200"/><stop offset="1" stop-color="#ff6b00"/></linearGradient><linearGradient id="g252" x1="0" y1="0" x2="0" y2="1"><stop offset="0" stop-color="#003dff"/><stop offset="0.094" stop-color="#0044ff"/><stop offset="0.125" stop-color="#0075ff"/><stop offset="0.188" stop-color="#00fffd"/><stop offset="0.25" stop-color="#00ff60"/><stop offset="0.281" stop-color="#00ff0a"/><stop offset="0.422" stop-color="#45ff00"/><stop offset="0.516" stop-color="#f8ff00"/><stop offset="0.609" stop-color="#ff5b00"/><stop offset="0.672" stop-color="#ff1f00"/><stop offset="0.922" stop-color="#ff2200"/><stop offset="1" stop-color="#ff5c00"/></linearGradient><linearGradient id="g253" x1="0" y1="0" x2="0" y2="1"><stop offset="0" stop-color="#0033ff"/><stop offset="0.094" stop-color="#003aff"/><stop offset="0.125" stop-color="#0065ff"/><stop offset="0.188" stop-color="#00fbff"/><stop offset="0.25" stop-color="#00ff64"/><stop offset="0.297" stop-color="#00ff0c"/><stop offset="0.422" stop-color="#21ff00"/><stop offset="0.453" stop-color="#4dff00"/><stop offset="0.547" stop-color="#fff400"/><stop offset="0.594" stop-color="#ff9100"/><stop offset="0.672" stop-color="#ff3200"/><stop offset="0.781" stop-color="#ff2a00"/><stop offset="0.922" stop-color="#ff3100"/><stop offset="1" stop-color="#ff6b00"/></linearGradient><linearGradient id="g254" x1="0" y1="0" x2="0" y2="1"><stop offset="0" stop-color="#0025ff"/><stop offset="0.094" stop-color="#002cff"/><stop offset="0.125" stop-color="#0058ff"/><stop offset="0.156" stop-color="#00a0ff"/><stop offset="0.188" stop-color="#00ffff"/><stop offset="0.25" stop-color="#00ff60"/><stop offset="0.297" stop-color="#00ff05"/><stop offset="0.438" stop-color="#2fff00"/><stop offset="0.547" stop-color="#fbff00"/><stop offset="0.625" stop-color="#ff6900"/><stop offset="0.688" stop-color="#ff2300"/><stop offset="0.938" stop-color="#ff3000"/><stop offset="1" stop-color="#ff5f00"/></linearGradient><linearGradient id="g255" x1="0" y1="0" x2="0" y2="1"><stop offset="0" stop-color="#0027ff"/><stop offset="0.094" stop-color="#002eff"/><stop offset="0.141" stop-color="#0081ff"/><stop offset="0.188" stop-color="#00fff8"/><stop offset="0.25" stop-color="#00ff5c"/><stop offset="0.297" stop-color="#00ff09"/><stop offset="0.438" stop-color="#27ff00"/><stop offset="0.547" stop-color="#f7ff00"/><stop offset="0.625" stop-color="#ff6900"/><stop offset="0.688" stop-color="#ff2800"/><stop offset="0.938" stop-color="#ff3900"/><stop offset="1" stop-color="#ff6600"/></linearGradient><linearGradient id="g256" x1="0" y1="0" x2="0" y2="1"><stop offset="0" stop-color="#004aff"/><stop offset="0.094" stop-color="#0051ff"/><stop offset="0.141" stop-color="#00b7ff"/><stop offset="0.156" stop-color="#00c2ff"/><stop offset="0.172" stop-color="#00ebff"/><stop offset="0.188" stop-color="#00ffe9"/><stop offset="0.266" stop-color="#00ff28"/><stop offset="0.281" stop-color="#00ff08"/><stop offset="0.438" stop-color="#44ff00"/><stop offset="0.531" stop-color="#f8ff00"/><stop offset="0.609" stop-color="#ff6d00"/><stop offset="0.688" stop-color="#ff1f00"/><stop offset="0.922" stop-color="#ff2a00"/><stop offset="1" stop-color="#ff5d00"/></linearGradient><linearGradient id="g257" x1="0" y1="0" x2="0" y2="1"><stop offset="0" stop-color="#0021ff"/><stop offset="0.109" stop-color="#0029ff"/><stop offset="0.156" stop-color="#0085ff"/><stop offset="0.188" stop-color="#00e8ff"/><stop offset="0.203" stop-color="#00ffec"/><stop offset="0.25" stop-color="#00ff73"/><stop offset="0.266" stop-color="#00ff36"/><stop offset="0.297" stop-color="#0aff00"/><stop offset="0.438" stop-color="#3bff00"/><stop offset="0.547" stop-color="#fff800"/><stop offset="0.609" stop-color="#ff7900"/><stop offset="0.688" stop-color="#ff2200"/><stop offset="0.938" stop-color="#ff3100"/><stop offset="1" stop-color="#ff5a00"/></linearGradient><linearGradient id="g258" x1="0" y1="0" x2="0" y2="1"><stop offset="0" stop-color="#0045ff"/><stop offset="0.094" stop-color="#0052ff"/><stop offset="0.141" stop-color="#009dff"/><stop offset="0.172" stop-color="#00f9ff"/><stop offset="0.281" stop-color="#00ff34"/><stop offset="0.312" stop-color="#00ff03"/><stop offset="0.5" stop-color="#3bff00"/><stop offset="0.75" stop-color="#fffe00"/><stop offset="0.828" stop-color="#ffa100"/><stop offset="1" stop-color="#ff4f00"/></linearGradient><linearGradient id="g259" x1="0" y1="0" x2="0" y2="1"><stop offset="0" stop-color="#003cff"/><stop offset="0.094" stop-color="#0043ff"/><stop offset="0.141" stop-color="#008bff"/><stop offset="0.188" stop-color="#00fff8"/><stop offset="0.281" stop-color="#00ff3e"/><stop offset="0.328" stop-color="#0aff00"/><stop offset="0.516" stop-color="#45ff00"/><stop offset="0.75" stop-color="#ffff00"/><stop offset="0.844" stop-color="#ff9a00"/><stop offset="1" stop-color="#ff4c00"/></linearGradient><linearGradient id="g260" x1="0" y1="0" x2="0" y2="1"><stop offset="0" stop-color="#0060ff"/><stop offset="0.094" stop-color="#0069ff"/><stop offset="0.141" stop-color="#00b9ff"/><stop offset="0.156" stop-color="#00b9ff"/><stop offset="0.188" stop-color="#00fff5"/><stop offset="0.281" stop-color="#00ff3d"/><stop offset="0.328" stop-color="#0bff00"/><stop offset="0.516" stop-color="#45ff00"/><stop offset="0.75" stop-color="#feff00"/><stop offset="0.812" stop-color="#ffb800"/><stop offset="0.922" stop-color="#ff7100"/><stop offset="1" stop-color="#ff4c00"/></linearGradient><linearGradient id="g261" x1="0" y1="0" x2="0" y2="1"><stop offset="0" stop-color="#0020ff"/><stop offset="0.094" stop-color="#0027ff"/><stop offset="0.141" stop-color="#006aff"/><stop offset="0.156" stop-color="#0090ff"/><stop offset="0.172" stop-color="#00dcff"/><stop offset="0.188" stop-color="#00fffa"/><stop offset="0.281" stop-color="#00ff47"/><stop offset="0.328" stop-color="#03ff00"/><stop offset="0.516" stop-color="#3cff00"/><stop offset="0.766" stop-color="#fffe00"/><stop offset="0.844" stop-color="#ffa000"/><stop offset="1" stop-color="#ff5100"/></linearGradient><linearGradient id="g262" x1="0" y1="0" x2="0" y2="1"><stop offset="0" stop-color="#001fff"/><stop offset="0.094" stop-color="#002dff"/><stop offset="0.141" stop-color="#0081ff"/><stop offset="0.156" stop-color="#00cdff"/><stop offset="0.172" stop-color="#00f6ff"/><stop offset="0.281" stop-color="#00ff3b"/><stop offset="0.328" stop-color="#09ff00"/><stop offset="0.516" stop-color="#45ff00"/><stop offset="0.766" stop-color="#fff700"/><stop offset="0.844" stop-color="#ff9b00"/><stop offset="1" stop-color="#ff4e00"/></linearGradient><linearGradient id="g263" x1="0" y1="0" x2="0" y2="1"><stop offset="0" stop-color="#0032ff"/><stop offset="0.109" stop-color="#0041ff"/><stop offset="0.156" stop-color="#009cff"/><stop offset="0.188" stop-color="#00f8ff"/><stop offset="0.25" stop-color="#00ff85"/><stop offset="0.266" stop-color="#00ff55"/><stop offset="0.312" stop-color="#00ff0b"/><stop offset="0.484" stop-color="#37ff00"/><stop offset="0.75" stop-color="#feff00"/><stop offset="0.844" stop-color="#ff9b00"/><stop offset="1" stop-color="#ff4b00"/></linearGradient><linearGradient id="g264" x1="0" y1="0" x2="0" y2="1"><stop offset="0" stop-color="#0035ff"/><stop offset="0.094" stop-color="#0044ff"/><stop offset="0.141" stop-color="#00a0ff"/><stop offset="0.172" stop-color="#00f7ff"/><stop offset="0.266" stop-color="#00ff55"/><stop offset="0.328" stop-color="#0cff00"/><stop offset="0.516" stop-color="#45ff00"/><stop offset="0.766" stop-color="#fff800"/><stop offset="0.844" stop-color="#ff9c00"/><stop offset="1" stop-color="#ff4c00"/></linearGradient><linearGradient id="g265" x1="0" y1="0" x2="0" y2="1"><stop offset="0" stop-color="#002bff"/><stop offset="0.094" stop-color="#0032ff"/><stop offset="0.141" stop-color="#0080ff"/><stop offset="0.172" stop-color="#00e1ff"/><stop offset="0.188" stop-color="#00fff7"/><stop offset="0.266" stop-color="#00ff62"/><stop offset="0.328" stop-color="#00ff04"/><stop offset="0.516" stop-color="#37ff00"/><stop offset="0.766" stop-color="#faff00"/><stop offset="0.844" stop-color="#ffa500"/><stop offset="1" stop-color="#ff5500"/></linearGradient><linearGradient id="g266" x1="0" y1="0" x2="0" y2="1"><stop offset="0" stop-color="#0043ff"/><stop offset="0.094" stop-color="#0052ff"/><stop offset="0.172" stop-color="#00f7ff"/><stop offset="0.25" stop-color="#00ff6c"/><stop offset="0.281" stop-color="#00ff4f"/><stop offset="0.328" stop-color="#00ff06"/><stop offset="0.516" stop-color="#31ff00"/><stop offset="0.781" stop-color="#fffa00"/><stop offset="0.859" stop-color="#ffa200"/><stop offset="1" stop-color="#ff5600"/></linearGradient><linearGradient id="g267" x1="0" y1="0" x2="0" y2="1"><stop offset="0" stop-color="#0025ff"/><stop offset="0.094" stop-color="#002cff"/><stop offset="0.141" stop-color="#0073ff"/><stop offset="0.156" stop-color="#0099ff"/><stop offset="0.172" stop-color="#00d8ff"/><stop offset="0.188" stop-color="#00fffd"/><stop offset="0.25" stop-color="#00ff7f"/><stop offset="0.328" stop-color="#00ff0b"/><stop offset="0.516" stop-color="#28ff00"/><stop offset="0.797" stop-color="#fff500"/><stop offset="0.875" stop-color="#ffa000"/><stop offset="1" stop-color="#ff5900"/></linearGradient><linearGradient id="g268" x1="0" y1="0" x2="0" y2="1"><stop offset="0" stop-color="#001cff"/><stop offset="0.094" stop-color="#0023ff"/><stop offset="0.141" stop-color="#0066ff"/><stop offset="0.156" stop-color="#008bff"/><stop offset="0.172" stop-color="#00d5ff"/><stop offset="0.188" stop-color="#00feff"/><stop offset="0.266" stop-color="#00ff6b"/><stop offset="0.328" stop-color="#00ff0b"/><stop offset="0.516" stop-color="#25ff00"/><stop offset="0.797" stop-color="#feff00"/><stop offset="0.875" stop-color="#ffa500"/><stop offset="1" stop-color="#ff5900"/></linearGradient><linearGradient id="g269" x1="0" y1="0" x2="0" y2="1"><stop offset="0" stop-color="#003cff"/><stop offset="0.094" stop-color="#004cff"/><stop offset="0.172" stop-color="#00faff"/><stop offset="0.25" stop-color="#00ff6b"/><stop offset="0.266" stop-color="#00ff74"/><stop offset="0.328" stop-color="#00ff12"/><stop offset="0.469" stop-color="#13ff00"/><stop offset="0.547" stop-color="#32ff00"/><stop offset="0.812" stop-color="#fffb00"/><stop offset="0.875" stop-color="#ffad00"/><stop offset="1" stop-color="#ff5e00"/></linearGradient><linearGradient id="g270" x1="0" y1="0" x2="0" y2="1"><stop offset="0" stop-color="#004fff"/><stop offset="0.094" stop-color="#005dff"/><stop offset="0.141" stop-color="#00bfff"/><stop offset="0.156" stop-color="#00ccff"/><stop offset="0.172" stop-color="#00f5ff"/><stop offset="0.25" stop-color="#00ff6e"/><stop offset="0.328" stop-color="#07ff00"/><stop offset="0.547" stop-color="#46ff00"/><stop offset="0.797" stop-color="#ffff00"/><stop offset="0.875" stop-color="#ffa100"/><stop offset="1" stop-color="#ff5300"/></linearGradient><linearGradient id="g271" x1="0" y1="0" x2="0" y2="1"><stop offset="0" stop-color="#0045ff"/><stop offset="0.109" stop-color="#0051ff"/><stop offset="0.188" stop-color="#00f2ff"/><stop offset="0.25" stop-color="#00ff88"/><stop offset="0.281" stop-color="#00ff44"/><stop offset="0.328" stop-color="#00ff01"/><stop offset="0.547" stop-color="#3cff00"/><stop offset="0.812" stop-color="#fffb00"/><stop offset="0.875" stop-color="#ffa700"/><stop offset="1" stop-color="#ff5b00"/></linearGradient><linearGradient id="g272" x1="0" y1="0" x2="0" y2="1"><stop offset="0" stop-color="#0037ff"/><stop offset="0.094" stop-color="#0047ff"/><stop offset="0.156" stop-color="#00cfff"/><stop offset="0.172" stop-color="#00f8ff"/><stop offset="0.25" stop-color="#00ff6c"/><stop offset="0.328" stop-color="#00ff03"/><stop offset="0.547" stop-color="#38ff00"/><stop offset="0.812" stop-color="#fcff00"/><stop offset="0.891" stop-color="#ffa000"/><stop offset="1" stop-color="#ff5e00"/></linearGradient><linearGradient id="g273" x1="0" y1="0" x2="0" y2="1"><stop offset="0" stop-color="#004eff"/><stop offset="0.094" stop-color="#0055ff"/><stop offset="0.141" stop-color="#00b0ff"/><stop offset="0.156" stop-color="#00bdff"/><stop offset="0.188" stop-color="#00fff2"/><stop offset="0.25" stop-color="#00ff76"/><stop offset="0.281" stop-color="#00ff57"/><stop offset="0.328" stop-color="#00ff0d"/><stop offset="0.531" stop-color="#23ff00"/><stop offset="0.828" stop-color="#fff800"/><stop offset="0.891" stop-color="#ffa700"/><stop offset="1" stop-color="#ff6200"/></linearGradient><linearGradient id="g274" x1="0" y1="0" x2="0" y2="1"><stop offset="0" stop-color="#002eff"/><stop offset="0.109" stop-color="#0036ff"/><stop offset="0.156" stop-color="#008eff"/><stop offset="0.188" stop-color="#00ebff"/><stop offset="0.219" stop-color="#00ffce"/><stop offset="0.266" stop-color="#00ff77"/><stop offset="0.328" stop-color="#00ff16"/><stop offset="0.453" stop-color="#0dff00"/><stop offset="0.547" stop-color="#27ff00"/><stop offset="0.828" stop-color="#ffff00"/><stop offset="0.891" stop-color="#ffac00"/><stop offset="1" stop-color="#ff6600"/></linearGradient><linearGradient id="g275" x1="0" y1="0" x2="0" y2="1"><stop offset="0" stop-color="#0029ff"/><stop offset="0.094" stop-color="#0030ff"/><stop offset="0.141" stop-color="#0079ff"/><stop offset="0.156" stop-color="#009eff"/><stop offset="0.172" stop-color="#00d9ff"/><stop offset="0.188" stop-color="#00fffc"/><stop offset="0.266" stop-color="#00ff66"/><stop offset="0.328" stop-color="#00ff09"/><stop offset="0.531" stop-color="#26ff00"/><stop offset="0.812" stop-color="#f5ff00"/><stop offset="0.891" stop-color="#ffa300"/><stop offset="1" stop-color="#ff6100"/></linearGradient><linearGradient id="g276" x1="0" y1="0" x2="0" y2="1"><stop offset="0" stop-color="#0041ff"/><stop offset="0.094" stop-color="#0048ff"/><stop offset="0.172" stop-color="#00eaff"/><stop offset="0.188" stop-color="#00ffef"/><stop offset="0.25" stop-color="#00ff74"/><stop offset="0.328" stop-color="#00ff02"/><stop offset="0.547" stop-color="#37ff00"/><stop offset="0.812" stop-color="#faff00"/><stop offset="0.891" stop-color="#ffa100"/><stop offset="1" stop-color="#ff5d00"/></linearGradient><linearGradient id="g277" x1="0" y1="0" x2="0" y2="1"><stop offset="0" stop-color="#0059ff"/><stop offset="0.094" stop-color="#0062ff"/><stop offset="0.141" stop-color="#00c3ff"/><stop offset="0.156" stop-color="#00c3ff"/><stop offset="0.172" stop-color="#00ecff"/><stop offset="0.203" stop-color="#00ffcd"/><stop offset="0.25" stop-color="#00ff73"/><stop offset="0.281" stop-color="#00ff57"/><stop offset="0.328" stop-color="#00ff0e"/><stop offset="0.531" stop-color="#21ff00"/><stop offset="0.828" stop-color="#fff800"/><stop offset="0.891" stop-color="#ffa800"/><stop offset="1" stop-color="#ff6300"/></linearGradient><linearGradient id="g278" x1="0" y1="0" x2="0" y2="1"><stop offset="0" stop-color="#004aff"/><stop offset="0.078" stop-color="#0050ff"/><stop offset="0.109" stop-color="#007dff"/><stop offset="0.172" stop-color="#00feff"/><stop offset="0.25" stop-color="#00ff68"/><stop offset="0.266" stop-color="#00ff6b"/><stop offset="0.328" stop-color="#00ff09"/><stop offset="0.547" stop-color="#33ff00"/><stop offset="0.828" stop-color="#fff600"/><stop offset="0.891" stop-color="#ffa400"/><stop offset="1" stop-color="#ff5f00"/></linearGradient><linearGradient id="g279" x1="0" y1="0" x2="0" y2="1"><stop offset="0" stop-color="#0037ff"/><stop offset="0.094" stop-color="#003eff"/><stop offset="0.141" stop-color="#008bff"/><stop offset="0.188" stop-color="#00fffb"/><stop offset="0.25" stop-color="#00ff7d"/><stop offset="0.281" stop-color="#00ff60"/><stop offset="0.328" stop-color="#00ff17"/><stop offset="0.453" stop-color="#0cff00"/><stop offset="0.547" stop-color="#26ff00"/><stop offset="0.828" stop-color="#ffff00"/><stop offset="0.891" stop-color="#ffac00"/><stop offset="1" stop-color="#ff6700"/></linearGradient><linearGradient id="g280" x1="0" y1="0" x2="0" y2="1"><stop offset="0" stop-color="#002dff"/><stop offset="0.094" stop-color="#0034ff"/><stop offset="0.141" stop-color="#007fff"/><stop offset="0.188" stop-color="#00fffb"/><stop offset="0.281" stop-color="#00ff38"/><stop offset="0.312" stop-color="#00ff08"/><stop offset="0.547" stop-color="#45ff00"/><stop offset="0.812" stop-color="#fff700"/><stop offset="0.875" stop-color="#ffa200"/><stop offset="1" stop-color="#ff5600"/></linearGradient><linearGradient id="g281" x1="0" y1="0" x2="0" y2="1"><stop offset="0" stop-color="#0024ff"/><stop offset="0.094" stop-color="#002bff"/><stop offset="0.141" stop-color="#0073ff"/><stop offset="0.156" stop-color="#0099ff"/><stop offset="0.172" stop-color="#00daff"/><stop offset="0.188" stop-color="#00fffc"/><stop offset="0.281" stop-color="#00ff3c"/><stop offset="0.328" stop-color="#0cff00"/><stop offset="0.547" stop-color="#45ff00"/><stop offset="0.812" stop-color="#fff800"/><stop offset="0.891" stop-color="#ff9900"/><stop offset="1" stop-color="#ff5500"/></linearGradient><linearGradient id="g282" x1="0" y1="0" x2="0" y2="1"><stop offset="0" stop-color="#0019ff"/><stop offset="0.094" stop-color="#002aff"/><stop offset="0.141" stop-color="#0083ff"/><stop offset="0.156" stop-color="#00d2ff"/><stop offset="0.172" stop-color="#00fbff"/><stop offset="0.25" stop-color="#00ff6a"/><stop offset="0.281" stop-color="#00ff4c"/><stop offset="0.328" stop-color="#00ff03"/><stop offset="0.547" stop-color="#39ff00"/><stop offset="0.812" stop-color="#fdff00"/><stop offset="0.891" stop-color="#ffa100"/><stop offset="1" stop-color="#ff5c00"/></linearGradient><linearGradient id="g283" x1="0" y1="0" x2="0" y2="1"><stop offset="0" stop-color="#001cff"/><stop offset="0.109" stop-color="#002dff"/><stop offset="0.156" stop-color="#0086ff"/><stop offset="0.172" stop-color="#00d0ff"/><stop offset="0.188" stop-color="#00f9ff"/><stop offset="0.281" stop-color="#00ff47"/><stop offset="0.328" stop-color="#02ff00"/><stop offset="0.547" stop-color="#3bff00"/><stop offset="0.812" stop-color="#ffff00"/><stop offset="0.891" stop-color="#ff9f00"/><stop offset="1" stop-color="#ff5a00"/></linearGradient><linearGradient id="g284" x1="0" y1="0" x2="0" y2="1"><stop offset="0" stop-color="#003bff"/><stop offset="0.109" stop-color="#004dff"/><stop offset="0.188" stop-color="#00fcff"/><stop offset="0.281" stop-color="#00ff3f"/><stop offset="0.328" stop-color="#0aff00"/><stop offset="0.547" stop-color="#43ff00"/><stop offset="0.812" stop-color="#fffa00"/><stop offset="0.891" stop-color="#ff9a00"/><stop offset="1" stop-color="#ff5600"/></linearGradient><linearGradient id="g285" x1="0" y1="0" x2="0" y2="1"><stop offset="0" stop-color="#003aff"/><stop offset="0.109" stop-color="#004aff"/><stop offset="0.172" stop-color="#00ceff"/><stop offset="0.188" stop-color="#00f7ff"/><stop offset="0.25" stop-color="#00ff85"/><stop offset="0.266" stop-color="#00ff54"/><stop offset="0.328" stop-color="#06ff00"/><stop offset="0.547" stop-color="#41ff00"/><stop offset="0.812" stop-color="#fffa00"/><stop offset="0.875" stop-color="#ffa400"/><stop offset="1" stop-color="#ff5900"/></linearGradient><linearGradient id="g286" x1="0" y1="0" x2="0" y2="1"><stop offset="0" stop-color="#0020ff"/><stop offset="0.094" stop-color="#0027ff"/><stop offset="0.141" stop-color="#0074ff"/><stop offset="0.156" stop-color="#00b9ff"/><stop offset="0.188" stop-color="#00fff5"/><stop offset="0.281" stop-color="#00ff40"/><stop offset="0.328" stop-color="#09ff00"/><stop offset="0.547" stop-color="#43ff00"/><stop offset="0.812" stop-color="#fffa00"/><stop offset="0.891" stop-color="#ff9b00"/><stop offset="1" stop-color="#ff5600"/></linearGradient><linearGradient id="g287" x1="0" y1="0" x2="0" y2="1"><stop offset="0" stop-color="#004bff"/><stop offset="0.094" stop-color="#005cff"/><stop offset="0.141" stop-color="#00beff"/><stop offset="0.156" stop-color="#00d1ff"/><stop offset="0.172" stop-color="#00f9ff"/><stop offset="0.25" stop-color="#00ff6b"/><stop offset="0.281" stop-color="#00ff4c"/><stop offset="0.328" stop-color="#00ff04"/><stop offset="0.547" stop-color="#35ff00"/><stop offset="0.812" stop-color="#f9ff00"/><stop offset="0.891" stop-color="#ffa200"/><stop offset="1" stop-color="#ff5e00"/></linearGradient><linearGradient id="g288" x1="0" y1="0" x2="0" y2="1"><stop offset="0" stop-color="#0024ff"/><stop offset="0.109" stop-color="#002eff"/><stop offset="0.156" stop-color="#0085ff"/><stop offset="0.172" stop-color="#00c5ff"/><stop offset="0.188" stop-color="#00eeff"/><stop offset="0.219" stop-color="#00ffcb"/><stop offset="0.25" stop-color="#00ff8a"/><stop offset="0.266" stop-color="#00ff54"/><stop offset="0.328" stop-color="#08ff00"/><stop offset="0.547" stop-color="#43ff00"/><stop offset="0.812" stop-color="#fffa00"/><stop offset="0.875" stop-color="#ffa300"/><stop offset="1" stop-color="#ff5700"/></linearGradient><linearGradient id="g289" x1="0" y1="0" x2="0" y2="1"><stop offset="0" stop-color="#0024ff"/><stop offset="0.094" stop-color="#0033ff"/><stop offset="0.141" stop-color="#008dff"/><stop offset="0.156" stop-color="#00ceff"/><stop offset="0.172" stop-color="#00f7ff"/><stop offset="0.25" stop-color="#00ff6c"/><stop offset="0.266" stop-color="#00ff69"/><stop offset="0.328" stop-color="#00ff07"/><stop offset="0.547" stop-color="#32ff00"/><stop offset="0.812" stop-color="#f6ff00"/><stop offset="0.891" stop-color="#ffa400"/><stop offset="1" stop-color="#ff5f00"/></linearGradient><linearGradient id="g290" x1="0" y1="0" x2="0" y2="1"><stop offset="0" stop-color="#0056ff"/><stop offset="0.109" stop-color="#0064ff"/><stop offset="0.156" stop-color="#00c5ff"/><stop offset="0.172" stop-color="#00c9ff"/><stop offset="0.188" stop-color="#00f2ff"/><stop offset="0.25" stop-color="#00ff88"/><stop offset="0.281" stop-color="#00ff44"/><stop offset="0.328" stop-color="#05ff00"/><stop offset="0.547" stop-color="#40ff00"/><stop offset="0.812" stop-color="#fffc00"/><stop offset="0.891" stop-color="#ff9c00"/><stop offset="1" stop-color="#ff5800"/></linearGradient><linearGradient id="g291" x1="0" y1="0" x2="0" y2="1"><stop offset="0" stop-color="#0025ff"/><stop offset="0.109" stop-color="#0034ff"/><stop offset="0.156" stop-color="#008dff"/><stop offset="0.172" stop-color="#00cdff"/><stop offset="0.188" stop-color="#00f6ff"/><stop offset="0.281" stop-color="#00ff45"/><stop offset="0.328" stop-color="#00ff02"/><stop offset="0.547" stop-color="#39ff00"/><stop offset="0.812" stop-color="#fdff00"/><stop offset="0.891" stop-color="#ff9f00"/><stop offset="1" stop-color="#ff5d00"/></linearGradient></defs>
<g shape-rendering="crispEdges"><rect x="97" y="166" width="2.8" height="128" fill="url(#g0)"/><rect x="99.5" y="166" width="2.8" height="128" fill="url(#g1)"/><rect x="102" y="166" width="2.8" height="128" fill="url(#g2)"/><rect x="104.5" y="166" width="2.8" height="128" fill="url(#g3)"/><rect x="107" y="166" width="2.8" height="128" fill="url(#g4)"/><rect x="109.5" y="166" width="2.8" height="128" fill="url(#g5)"/><rect x="112" y="166" width="2.8" height="128" fill="url(#g6)"/><rect x="114.5" y="166" width="2.8" height="128" fill="url(#g7)"/><rect x="117" y="166" width="2.8" height="128" fill="url(#g8)"/><rect x="119.5" y="166" width="2.8" height="128" fill="url(#g9)"/><rect x="122" y="166" width="2.8" height="128" fill="url(#g10)"/><rect x="124.5" y="166" width="2.8" height="128" fill="url(#g11)"/><rect x="127" y="166" width="2.8" height="128" fill="url(#g12)"/><rect x="129.5" y="166" width="2.8" height="128" fill="url(#g13)"/><rect x="132" y="166" width="2.8" height="128" fill="url(#g14)"/><rect x="134.5" y="166" width="2.8" height="128" fill="url(#g15)"/><rect x="137" y="166" width="2.8" height="128" fill="url(#g16)"/><rect x="139.5" y="166" width="2.8" height="128" fill="url(#g17)"/><rect x="142" y="166" width="1.5" height="128" fill="url(#g18)"/><rect x="143.5" y="166" width="2.8" height="128" fill="url(#g19)"/><rect x="146" y="166" width="2.8" height="128" fill="url(#g20)"/><rect x="148.5" y="166" width="2.8" height="128" fill="url(#g21)"/><rect x="151" y="166" width="2.8" height="128" fill="url(#g22)"/><rect x="153.5" y="166" width="2.8" height="128" fill="url(#g23)"/><rect x="156" y="166" width="2.8" height="128" fill="url(#g24)"/><rect x="158.5" y="166" width="2.8" height="128" fill="url(#g25)"/><rect x="161" y="166" width="2.8" height="128" fill="url(#g26)"/><rect x="163.5" y="166" width="2.8" height="128" fill="url(#g27)"/><rect x="166" y="166" width="2.8" height="128" fill="url(#g28)"/><rect x="168.5" y="166" width="2.8" height="128" fill="url(#g29)"/><rect x="171" y="166" width="2.8" height="128" fill="url(#g30)"/><rect x="173.5" y="166" width="2.8" height="128" fill="url(#g31)"/><rect x="176" y="166" width="2.8" height="128" fill="url(#g32)"/><rect x="178.5" y="166" width="2.8" height="128" fill="url(#g33)"/><rect x="181" y="166" width="2.8" height="128" fill="url(#g34)"/><rect x="183.5" y="166" width="2.8" height="128" fill="url(#g35)"/><rect x="186" y="166" width="2.8" height="128" fill="url(#g36)"/><rect x="188.5" y="166" width="2.8" height="128" fill="url(#g37)"/><rect x="191" y="166" width="2.8" height="128" fill="url(#g38)"/><rect x="193.5" y="166" width="2.8" height="128" fill="url(#g39)"/><rect x="196" y="166" width="2.8" height="128" fill="url(#g40)"/><rect x="198.5" y="166" width="2.8" height="128" fill="url(#g41)"/><rect x="201" y="166" width="2.8" height="128" fill="url(#g42)"/><rect x="203.5" y="166" width="2.8" height="128" fill="url(#g43)"/><rect x="206" y="166" width="2.8" height="128" fill="url(#g44)"/><rect x="208.5" y="166" width="2.8" height="128" fill="url(#g45)"/><rect x="211" y="166" width="2.8" height="128" fill="url(#g46)"/><rect x="213.5" y="166" width="2.8" height="128" fill="url(#g47)"/><rect x="216" y="166" width="2.8" height="128" fill="url(#g48)"/><rect x="218.5" y="166" width="2.8" height="128" fill="url(#g49)"/><rect x="221" y="166" width="2.8" height="128" fill="url(#g50)"/><rect x="223.5" y="166" width="2.8" height="128" fill="url(#g51)"/><rect x="226" y="166" width="2.8" height="128" fill="url(#g52)"/><rect x="228.5" y="166" width="2.8" height="128" fill="url(#g53)"/><rect x="231" y="166" width="1" height="128" fill="url(#g54)"/><rect x="265" y="166" width="2.8" height="128" fill="url(#g55)"/><rect x="267.5" y="166" width="2.8" height="128" fill="url(#g56)"/><rect x="270" y="166" width="2.8" height="128" fill="url(#g57)"/><rect x="272.5" y="166" width="2.8" height="128" fill="url(#g58)"/><rect x="275" y="166" width="2.8" height="128" fill="url(#g59)"/><rect x="277.5" y="166" width="2.8" height="128" fill="url(#g60)"/><rect x="280" y="166" width="2.8" height="128" fill="url(#g61)"/><rect x="282.5" y="166" width="2.8" height="128" fill="url(#g62)"/><rect x="285" y="166" width="2.8" height="128" fill="url(#g63)"/><rect x="287.5" y="166" width="2.8" height="128" fill="url(#g64)"/><rect x="290" y="166" width="2.8" height="128" fill="url(#g65)"/><rect x="292.5" y="166" width="2.8" height="128" fill="url(#g66)"/><rect x="295" y="166" width="2.8" height="128" fill="url(#g67)"/><rect x="297.5" y="166" width="2.8" height="128" fill="url(#g68)"/><rect x="300" y="166" width="2.8" height="128" fill="url(#g69)"/><rect x="302.5" y="166" width="2.8" height="128" fill="url(#g70)"/><rect x="305" y="166" width="2.8" height="128" fill="url(#g71)"/><rect x="307.5" y="166" width="2.8" height="128" fill="url(#g72)"/><rect x="310" y="166" width="2.8" height="128" fill="url(#g73)"/><rect x="312.5" y="166" width="2.8" height="128" fill="url(#g74)"/><rect x="315" y="166" width="2.8" height="128" fill="url(#g75)"/><rect x="317.5" y="166" width="2.8" height="128" fill="url(#g76)"/><rect x="320" y="166" width="2.8" height="128" fill="url(#g77)"/><rect x="322.5" y="166" width="2.8" height="128" fill="url(#g78)"/><rect x="325" y="166" width="2.8" height="128" fill="url(#g79)"/><rect x="327.5" y="166" width="2.8" height="128" fill="url(#g80)"/><rect x="330" y="166" width="1" height="128" fill="url(#g81)"/><rect x="338" y="166" width="2.3" height="128" fill="url(#g82)"/><rect x="340" y="166" width="2.3" height="128" fill="url(#g83)"/><rect x="342" y="166" width="2.3" height="128" fill="url(#g84)"/><rect x="344" y="166" width="2.3" height="128" fill="url(#g85)"/><rect x="346" y="166" width="2.3" height="128" fill="url(#g86)"/><rect x="348" y="166" width="2.3" height="128" fill="url(#g87)"/><rect x="350" y="166" width="2.3" height="128" fill="url(#g88)"/><rect x="352" y="166" width="2.3" height="128" fill="url(#g89)"/><rect x="354" y="166" width="2.3" height="128" fill="url(#g90)"/><rect x="356" y="166" width="2.3" height="128" fill="url(#g91)"/><rect x="358" y="166" width="2.3" height="128" fill="url(#g92)"/><rect x="360" y="166" width="2.3" height="128" fill="url(#g93)"/><rect x="362" y="166" width="2.3" height="128" fill="url(#g94)"/><rect x="364" y="166" width="2.3" height="128" fill="url(#g95)"/><rect x="366" y="166" width="2.3" height="128" fill="url(#g96)"/><rect x="368" y="166" width="2.3" height="128" fill="url(#g97)"/><rect x="370" y="166" width="2.3" height="128" fill="url(#g98)"/><rect x="372" y="166" width="2.3" height="128" fill="url(#g99)"/><rect x="374" y="166" width="2.3" height="128" fill="url(#g100)"/><rect x="376" y="166" width="2.3" height="128" fill="url(#g101)"/><rect x="378" y="166" width="2.3" height="128" fill="url(#g102)"/><rect x="380" y="166" width="2.3" height="128" fill="url(#g103)"/><rect x="382" y="166" width="2.3" height="128" fill="url(#g104)"/><rect x="384" y="166" width="2.3" height="128" fill="url(#g105)"/><rect x="386" y="166" width="2.3" height="128" fill="url(#g106)"/><rect x="388" y="166" width="2.3" height="128" fill="url(#g107)"/><rect x="390" y="166" width="2.3" height="128" fill="url(#g108)"/><rect x="392" y="166" width="2.3" height="128" fill="url(#g109)"/><rect x="394" y="166" width="2.3" height="128" fill="url(#g110)"/><rect x="396" y="166" width="2.3" height="128" fill="url(#g111)"/><rect x="398" y="166" width="2.3" height="128" fill="url(#g112)"/><rect x="400" y="166" width="2.3" height="128" fill="url(#g113)"/><rect x="402" y="166" width="2.3" height="128" fill="url(#g114)"/><rect x="404" y="166" width="2.3" height="128" fill="url(#g115)"/><rect x="406" y="166" width="2.3" height="128" fill="url(#g116)"/><rect x="408" y="166" width="2.3" height="128" fill="url(#g117)"/><rect x="410" y="166" width="2.3" height="128" fill="url(#g118)"/><rect x="412" y="166" width="2.3" height="128" fill="url(#g119)"/><rect x="414" y="166" width="2.3" height="128" fill="url(#g120)"/><rect x="416" y="166" width="2.3" height="128" fill="url(#g121)"/><rect x="418" y="166" width="2.3" height="128" fill="url(#g122)"/><rect x="420" y="166" width="2.3" height="128" fill="url(#g123)"/><rect x="422" y="166" width="2.3" height="128" fill="url(#g124)"/><rect x="424" y="166" width="2.3" height="128" fill="url(#g125)"/><rect x="426" y="166" width="2.3" height="128" fill="url(#g126)"/><rect x="428" y="166" width="2.3" height="128" fill="url(#g127)"/><rect x="430" y="166" width="2.3" height="128" fill="url(#g128)"/><rect x="432" y="166" width="2.3" height="128" fill="url(#g129)"/><rect x="434" y="166" width="2.3" height="128" fill="url(#g130)"/><rect x="436" y="166" width="2.3" height="128" fill="url(#g131)"/><rect x="438" y="166" width="2.3" height="128" fill="url(#g132)"/><rect x="440" y="166" width="2.3" height="128" fill="url(#g133)"/><rect x="442" y="166" width="2.3" height="128" fill="url(#g134)"/><rect x="444" y="166" width="2.3" height="128" fill="url(#g135)"/><rect x="446" y="166" width="2.3" height="128" fill="url(#g136)"/><rect x="448" y="166" width="2.3" height="128" fill="url(#g137)"/><rect x="450" y="166" width="2.3" height="128" fill="url(#g138)"/><rect x="452" y="166" width="2.3" height="128" fill="url(#g139)"/><rect x="454" y="166" width="2.3" height="128" fill="url(#g140)"/><rect x="456" y="166" width="2.3" height="128" fill="url(#g141)"/><rect x="458" y="166" width="2.3" height="128" fill="url(#g142)"/><rect x="460" y="166" width="2.3" height="128" fill="url(#g143)"/><rect x="462" y="166" width="2.3" height="128" fill="url(#g144)"/><rect x="464" y="166" width="2.3" height="128" fill="url(#g145)"/><rect x="466" y="166" width="2.3" height="128" fill="url(#g146)"/><rect x="468" y="166" width="2.3" height="128" fill="url(#g147)"/><rect x="470" y="166" width="2.3" height="128" fill="url(#g148)"/><rect x="472" y="166" width="2.3" height="128" fill="url(#g149)"/><rect x="474" y="166" width="2.3" height="128" fill="url(#g150)"/><rect x="476" y="166" width="2.3" height="128" fill="url(#g151)"/><rect x="478" y="166" width="2.3" height="128" fill="url(#g152)"/><rect x="480" y="166" width="2.3" height="128" fill="url(#g153)"/><rect x="482" y="166" width="2.3" height="128" fill="url(#g154)"/><rect x="484" y="166" width="2.3" height="128" fill="url(#g155)"/><rect x="486" y="166" width="2.3" height="128" fill="url(#g156)"/><rect x="488" y="166" width="2.3" height="128" fill="url(#g157)"/><rect x="490" y="166" width="2.3" height="128" fill="url(#g158)"/><rect x="492" y="166" width="2.3" height="128" fill="url(#g159)"/><rect x="494" y="166" width="2.3" height="128" fill="url(#g160)"/><rect x="496" y="166" width="2.3" height="128" fill="url(#g161)"/><rect x="498" y="166" width="2.3" height="128" fill="url(#g162)"/><rect x="500" y="166" width="2.3" height="128" fill="url(#g163)"/><rect x="502" y="166" width="2.3" height="128" fill="url(#g164)"/><rect x="504" y="166" width="2.3" height="128" fill="url(#g165)"/><rect x="506" y="166" width="2.3" height="128" fill="url(#g166)"/><rect x="508" y="166" width="2.3" height="128" fill="url(#g167)"/><rect x="510" y="166" width="2.3" height="128" fill="url(#g168)"/><rect x="512" y="166" width="2.3" height="128" fill="url(#g169)"/><rect x="514" y="166" width="2.3" height="128" fill="url(#g170)"/><rect x="516" y="166" width="2.3" height="128" fill="url(#g171)"/><rect x="518" y="166" width="2.3" height="128" fill="url(#g172)"/><rect x="520" y="166" width="2.3" height="128" fill="url(#g173)"/><rect x="522" y="166" width="2.3" height="128" fill="url(#g174)"/><rect x="524" y="166" width="2.3" height="128" fill="url(#g175)"/><rect x="526" y="166" width="2.3" height="128" fill="url(#g176)"/><rect x="528" y="166" width="2.3" height="128" fill="url(#g177)"/><rect x="530" y="166" width="2.3" height="128" fill="url(#g178)"/><rect x="532" y="166" width="2.3" height="128" fill="url(#g179)"/><rect x="534" y="166" width="2.3" height="128" fill="url(#g180)"/><rect x="536" y="166" width="2.3" height="128" fill="url(#g181)"/><rect x="538" y="166" width="2.3" height="128" fill="url(#g182)"/><rect x="540" y="166" width="2.3" height="128" fill="url(#g183)"/><rect x="542" y="166" width="2.3" height="128" fill="url(#g184)"/><rect x="544" y="166" width="2.3" height="128" fill="url(#g185)"/><rect x="546" y="166" width="2.3" height="128" fill="url(#g186)"/><rect x="548" y="166" width="2.3" height="128" fill="url(#g187)"/><rect x="550" y="166" width="2.3" height="128" fill="url(#g188)"/><rect x="552" y="166" width="2.3" height="128" fill="url(#g189)"/><rect x="554" y="166" width="2.3" height="128" fill="url(#g190)"/><rect x="556" y="166" width="2.3" height="128" fill="url(#g191)"/><rect x="558" y="166" width="2.3" height="128" fill="url(#g192)"/><rect x="560" y="166" width="2.3" height="128" fill="url(#g193)"/><rect x="562" y="166" width="2.3" height="128" fill="url(#g194)"/><rect x="564" y="166" width="2.3" height="128" fill="url(#g195)"/><rect x="566" y="166" width="2.3" height="128" fill="url(#g196)"/><rect x="568" y="166" width="2.3" height="128" fill="url(#g197)"/><rect x="570" y="166" width="2.3" height="128" fill="url(#g198)"/><rect x="572" y="166" width="2.3" height="128" fill="url(#g199)"/><rect x="574" y="166" width="2.3" height="128" fill="url(#g200)"/><rect x="576" y="166" width="2.3" height="128" fill="url(#g201)"/><rect x="578" y="166" width="2.3" height="128" fill="url(#g202)"/><rect x="580" y="166" width="2.3" height="128" fill="url(#g203)"/><rect x="582" y="166" width="2.3" height="128" fill="url(#g204)"/><rect x="584" y="166" width="2.3" height="128" fill="url(#g205)"/><rect x="586" y="166" width="2.3" height="128" fill="url(#g206)"/><rect x="588" y="166" width="2.3" height="128" fill="url(#g207)"/><rect x="590" y="166" width="2.3" height="128" fill="url(#g208)"/><rect x="592" y="166" width="2.3" height="128" fill="url(#g209)"/><rect x="594" y="166" width="2.3" height="128" fill="url(#g210)"/><rect x="596" y="166" width="2.3" height="128" fill="url(#g211)"/><rect x="598" y="166" width="2.3" height="128" fill="url(#g212)"/><rect x="600" y="166" width="2.3" height="128" fill="url(#g213)"/><rect x="602" y="166" width="2.3" height="128" fill="url(#g214)"/><rect x="604" y="166" width="2.3" height="128" fill="url(#g215)"/><rect x="606" y="166" width="2.3" height="128" fill="url(#g216)"/><rect x="608" y="166" width="2.3" height="128" fill="url(#g217)"/><rect x="610" y="166" width="2.3" height="128" fill="url(#g218)"/><rect x="612" y="166" width="2.3" height="128" fill="url(#g219)"/><rect x="614" y="166" width="2.3" height="128" fill="url(#g220)"/><rect x="616" y="166" width="2.3" height="128" fill="url(#g221)"/><rect x="618" y="166" width="2.3" height="128" fill="url(#g222)"/><rect x="620" y="166" width="2.3" height="128" fill="url(#g223)"/><rect x="622" y="166" width="2.3" height="128" fill="url(#g224)"/><rect x="624" y="166" width="2.3" height="128" fill="url(#g225)"/><rect x="626" y="166" width="2.3" height="128" fill="url(#g226)"/><rect x="628" y="166" width="2.3" height="128" fill="url(#g227)"/><rect x="630" y="166" width="2.3" height="128" fill="url(#g228)"/><rect x="632" y="166" width="2.3" height="128" fill="url(#g229)"/><rect x="634" y="166" width="2.3" height="128" fill="url(#g230)"/><rect x="636" y="166" width="2.3" height="128" fill="url(#g231)"/><rect x="638" y="166" width="2.3" height="128" fill="url(#g232)"/><rect x="640" y="166" width="2.3" height="128" fill="url(#g233)"/><rect x="642" y="166" width="2.3" height="128" fill="url(#g234)"/><rect x="644" y="166" width="2.3" height="128" fill="url(#g235)"/><rect x="646" y="166" width="2.3" height="128" fill="url(#g236)"/><rect x="648" y="166" width="2.3" height="128" fill="url(#g237)"/><rect x="650" y="166" width="2.3" height="128" fill="url(#g238)"/><rect x="652" y="166" width="2.3" height="128" fill="url(#g239)"/><rect x="654" y="166" width="2.3" height="128" fill="url(#g240)"/><rect x="656" y="166" width="2.3" height="128" fill="url(#g241)"/><rect x="658" y="166" width="2.3" height="128" fill="url(#g242)"/><rect x="660" y="166" width="2.3" height="128" fill="url(#g243)"/><rect x="662" y="166" width="2.3" height="128" fill="url(#g244)"/><rect x="664" y="166" width="2.3" height="128" fill="url(#g245)"/><rect x="666" y="166" width="2.3" height="128" fill="url(#g246)"/><rect x="668" y="166" width="2.3" height="128" fill="url(#g247)"/><rect x="670" y="166" width="2.3" height="128" fill="url(#g248)"/><rect x="672" y="166" width="2.3" height="128" fill="url(#g249)"/><rect x="674" y="166" width="2.3" height="128" fill="url(#g250)"/><rect x="676" y="166" width="2.3" height="128" fill="url(#g251)"/><rect x="678" y="166" width="2.3" height="128" fill="url(#g252)"/><rect x="680" y="166" width="2.3" height="128" fill="url(#g253)"/><rect x="682" y="166" width="2.3" height="128" fill="url(#g254)"/><rect x="684" y="166" width="2.3" height="128" fill="url(#g255)"/><rect x="686" y="166" width="2.3" height="128" fill="url(#g256)"/><rect x="688" y="166" width="1" height="128" fill="url(#g257)"/><rect x="720" y="166" width="2.3" height="128" fill="url(#g258)"/><rect x="722" y="166" width="2.3" height="128" fill="url(#g259)"/><rect x="724" y="166" width="2.3" height="128" fill="url(#g260)"/><rect x="726" y="166" width="2.3" height="128" fill="url(#g261)"/><rect x="728" y="166" width="2.3" height="128" fill="url(#g262)"/><rect x="730" y="166" width="2.3" height="128" fill="url(#g263)"/><rect x="732" y="166" width="2.3" height="128" fill="url(#g264)"/><rect x="734" y="166" width="2.3" height="128" fill="url(#g265)"/><rect x="736" y="166" width="2.3" height="128" fill="url(#g266)"/><rect x="738" y="166" width="2.3" height="128" fill="url(#g267)"/><rect x="740" y="166" width="2.3" height="128" fill="url(#g268)"/><rect x="742" y="166" width="2.3" height="128" fill="url(#g269)"/><rect x="744" y="166" width="2.3" height="128" fill="url(#g270)"/><rect x="746" y="166" width="2.3" height="128" fill="url(#g271)"/><rect x="748" y="166" width="2.3" height="128" fill="url(#g272)"/><rect x="750" y="166" width="2.3" height="128" fill="url(#g273)"/><rect x="752" y="166" width="2.3" height="128" fill="url(#g274)"/><rect x="754" y="166" width="2.3" height="128" fill="url(#g275)"/><rect x="756" y="166" width="2.3" height="128" fill="url(#g276)"/><rect x="758" y="166" width="2.3" height="128" fill="url(#g277)"/><rect x="760" y="166" width="2.3" height="128" fill="url(#g278)"/><rect x="762" y="166" width="2.3" height="128" fill="url(#g279)"/><rect x="764" y="166" width="2.3" height="128" fill="url(#g280)"/><rect x="766" y="166" width="2.3" height="128" fill="url(#g281)"/><rect x="768" y="166" width="2.3" height="128" fill="url(#g282)"/><rect x="770" y="166" width="2.3" height="128" fill="url(#g283)"/><rect x="772" y="166" width="2.3" height="128" fill="url(#g284)"/><rect x="774" y="166" width="2.3" height="128" fill="url(#g285)"/><rect x="776" y="166" width="2.3" height="128" fill="url(#g286)"/><rect x="778" y="166" width="2.3" height="128" fill="url(#g287)"/><rect x="780" y="166" width="2.3" height="128" fill="url(#g288)"/><rect x="782" y="166" width="2.3" height="128" fill="url(#g289)"/><rect x="784" y="166" width="2.3" height="128" fill="url(#g290)"/><rect x="786" y="166" width="2" height="128" fill="url(#g291)"/></g>
<g stroke="#000" stroke-width="1" fill="none" shape-rendering="crispEdges">
<rect x="96.5" y="23.5" width="692" height="131"/>
<rect x="96.5" y="166.5" width="692" height="131"/>
<rect x="96.5" y="309.5" width="692" height="131"/>
<rect x="96.5" y="452.5" width="692" height="65"/>
<rect x="96.5" y="529.5" width="692" height="98"/>
<path d="M108.5 24L108.5 27"/>
<path d="M108.5 154L108.5 152"/>
<path d="M142.5 24L142.5 26"/>
<path d="M142.5 154L142.5 153"/>
<path d="M177.5 24L177.5 26"/>
<path d="M177.5 154L177.5 153"/>
<path d="M211.5 24L211.5 26"/>
<path d="M211.5 154L211.5 153"/>
<path d="M246.5 24L246.5 26"/>
<path d="M246.5 154L246.5 153"/>
<path d="M280.5 24L280.5 26"/>
<path d="M280.5 154L280.5 153"/>
<path d="M315.5 24L315.5 27"/>
<path d="M315.5 154L315.5 152"/>
<path d="M349.5 24L349.5 26"/>
<path d="M349.5 154L349.5 153"/>
<path d="M384.5 24L384.5 26"/>
<path d="M384.5 154L384.5 153"/>
<path d="M418.5 24L418.5 26"/>
<path d="M418.5 154L418.5 153"/>
<path d="M453.5 24L453.5 26"/>
<path d="M453.5 154L453.5 153"/>
<path d="M487.5 24L487.5 26"/>
<path d="M487.5 154L487.5 153"/>
<path d="M522.5 24L522.5 27"/>
<path d="M522.5 154L522.5 152"/>
<path d="M556.5 24L556.5 26"/>
<path d="M556.5 154L556.5 153"/>
<path d="M590.5 24L590.5 26"/>
<path d="M590.5 154L590.5 153"/>
<path d="M625.5 24L625.5 26"/>
<path d="M625.5 154L625.5 153"/>
<path d="M659.5 24L659.5 26"/>
<path d="M659.5 154L659.5 153"/>
<path d="M694.5 24L694.5 26"/>
<path d="M694.5 154L694.5 153"/>
<path d="M728.5 24L728.5 27"/>
<path d="M728.5 154L728.5 152"/>
<path d="M763.5 24L763.5 26"/>
<path d="M763.5 154L763.5 153"/>
<path d="M108.5 167L108.5 170"/>
<path d="M108.5 297L108.5 295"/>
<path d="M142.5 167L142.5 169"/>
<path d="M142.5 297L142.5 296"/>
<path d="M177.5 167L177.5 169"/>
<path d="M177.5 297L177.5 296"/>
<path d="M211.5 167L211.5 169"/>
<path d="M211.5 297L211.5 296"/>
<path d="M246.5 167L246.5 169"/>
<path d="M246.5 297L246.5 296"/>
<path d="M280.5 167L280.5 169"/>
<path d="M280.5 297L280.5 296"/>
<path d="M315.5 167L315.5 170"/>
<path d="M315.5 297L315.5 295"/>
<path d="M349.5 167L349.5 169"/>
<path d="M349.5 297L349.5 296"/>
<path d="M384.5 167L384.5 169"/>
<path d="M384.5 297L384.5 296"/>
<path d="M418.5 167L418.5 169"/>
<path d="M418.5 297L418.5 296"/>
<path d="M453.5 167L453.5 169"/>
<path d="M453.5 297L453.5 296"/>
<path d="M487.5 167L487.5 169"/>
<path d="M487.5 297L487.5 296"/>
<path d="M522.5 167L522.5 170"/>
<path d="M522.5 297L522.5 295"/>
<path d="M556.5 167L556.5 169"/>
<path d="M556.5 297L556.5 296"/>
<path d="M590.5 167L590.5 169"/>
<path d="M590.5 297L590.5 296"/>
<path d="M625.5 167L625.5 169"/>
<path d="M625.5 297L625.5 296"/>
<path d="M659.5 167L659.5 169"/>
<path d="M659.5 297L659.5 296"/>
<path d="M694.5 167L694.5 169"/>
<path d="M694.5 297L694.5 296"/>
<path d="M728.5 167L728.5 170"/>
<path d="M728.5 297L728.5 295"/>
<path d="M763.5 167L763.5 169"/>
<path d="M763.5 297L763.5 296"/>
<path d="M108.5 310L108.5 313"/>
<path d="M108.5 440L108.5 437"/>
<path d="M142.5 310L142.5 312"/>
<path d="M142.5 440L142.5 439"/>
<path d="M177.5 310L177.5 312"/>
<path d="M177.5 440L177.5 439"/>
<path d="M211.5 310L211.5 312"/>
<path d="M211.5 440L211.5 439"/>
<path d="M246.5 310L246.5 312"/>
<path d="M246.5 440L246.5 439"/>
<path d="M280.5 310L280.5 312"/>
<path d="M280.5 440L280.5 439"/>
<path d="M315.5 310L315.5 313"/>
<path d="M315.5 440L315.5 437"/>
<path d="M349.5 310L349.5 312"/>
<path d="M349.5 440L349.5 439"/>
<path d="M384.5 310L384.5 312"/>
<path d="M384.5 440L384.5 439"/>
<path d="M418.5 310L418.5 312"/>
<path d="M418.5 440L418.5 439"/>
<path d="M453.5 310L453.5 312"/>
<path d="M453.5 440L453.5 439"/>
<path d="M487.5 310L487.5 312"/>
<path d="M487.5 440L487.5 439"/>
<path d="M522.5 310L522.5 313"/>
<path d="M522.5 440L522.5 437"/>
<path d="M556.5 310L556.5 312"/>
<path d="M556.5 440L556.5 439"/>
<path d="M590.5 310L590.5 312"/>
<path d="M590.5 440L590.5 439"/>
<path d="M625.5 310L625.5 312"/>
<path d="M625.5 440L625.5 439"/>
<path d="M659.5 310L659.5 312"/>
<path d="M659.5 440L659.5 439"/>
<path d="M694.5 310L694.5 312"/>
<path d="M694.5 440L694.5 439"/>
<path d="M728.5 310L728.5 313"/>
<path d="M728.5 440L728.5 437"/>
<path d="M763.5 310L763.5 312"/>
<path d="M763.5 440L763.5 439"/>
<path d="M108.5 453L108.5 454"/>
<path d="M108.5 517L108.5 516"/>
<path d="M142.5 453L142.5 454"/>
<path d="M177.5 453L177.5 454"/>
<path d="M211.5 453L211.5 454"/>
<path d="M246.5 453L246.5 454"/>
<path d="M280.5 453L280.5 454"/>
<path d="M315.5 453L315.5 454"/>
<path d="M315.5 517L315.5 516"/>
<path d="M349.5 453L349.5 454"/>
<path d="M384.5 453L384.5 454"/>
<path d="M418.5 453L418.5 454"/>
<path d="M453.5 453L453.5 454"/>
<path d="M487.5 453L487.5 454"/>
<path d="M522.5 453L522.5 454"/>
<path d="M522.5 517L522.5 516"/>
<path d="M556.5 453L556.5 454"/>
<path d="M590.5 453L590.5 454"/>
<path d="M625.5 453L625.5 454"/>
<path d="M659.5 453L659.5 454"/>
<path d="M694.5 453L694.5 454"/>
<path d="M728.5 453L728.5 454"/>
<path d="M728.5 517L728.5 516"/>
<path d="M763.5 453L763.5 454"/>
<path d="M108.5 530L108.5 532"/>
<path d="M108.5 627L108.5 626"/>
<path d="M142.5 530L142.5 531"/>
<path d="M177.5 530L177.5 531"/>
<path d="M211.5 530L211.5 531"/>
<path d="M246.5 530L246.5 531"/>
<path d="M280.5 530L280.5 531"/>
<path d="M315.5 530L315.5 532"/>
<path d="M315.5 627L315.5 626"/>
<path d="M349.5 530L349.5 531"/>
<path d="M384.5 530L384.5 531"/>
<path d="M418.5 530L418.5 531"/>
<path d="M453.5 530L453.5 531"/>
<path d="M487.5 530L487.5 531"/>
<path d="M522.5 530L522.5 532"/>
<path d="M522.5 627L522.5 626"/>
<path d="M556.5 530L556.5 531"/>
<path d="M590.5 530L590.5 531"/>
<path d="M625.5 530L625.5 531"/>
<path d="M659.5 530L659.5 531"/>
<path d="M694.5 530L694.5 531"/>
<path d="M728.5 530L728.5 532"/>
<path d="M728.5 627L728.5 626"/>
<path d="M763.5 530L763.5 531"/>
<path d="M97 56.5L110 56.5"/>
<path d="M788 56.5L775 56.5"/>
<path d="M97 89.5L110 89.5"/>
<path d="M788 89.5L775 89.5"/>
<path d="M97 122.5L110 122.5"/>
<path d="M788 122.5L775 122.5"/>
<path d="M97 280.5L103 280.5"/>
<path d="M788 280.5L782 280.5"/>
<path d="M97 270.5L103 270.5"/>
<path d="M788 270.5L782 270.5"/>
<path d="M97 263.5L103 263.5"/>
<path d="M788 263.5L782 263.5"/>
<path d="M97 257.5L103 257.5"/>
<path d="M788 257.5L782 257.5"/>
<path d="M97 253.5L103 253.5"/>
<path d="M788 253.5L782 253.5"/>
<path d="M97 249.5L103 249.5"/>
<path d="M788 249.5L782 249.5"/>
<path d="M97 246.5L103 246.5"/>
<path d="M788 246.5L782 246.5"/>
<path d="M97 243.5L103 243.5"/>
<path d="M788 243.5L782 243.5"/>
<path d="M97 240.5L110 240.5"/>
<path d="M788 240.5L775 240.5"/>
<path d="M97 223.5L103 223.5"/>
<path d="M788 223.5L782 223.5"/>
<path d="M97 213.5L103 213.5"/>
<path d="M788 213.5L782 213.5"/>
<path d="M97 206.5L103 206.5"/>
<path d="M788 206.5L782 206.5"/>
<path d="M97 200.5L103 200.5"/>
<path d="M788 200.5L782 200.5"/>
<path d="M97 196.5L103 196.5"/>
<path d="M788 196.5L782 196.5"/>
<path d="M97 192.5L103 192.5"/>
<path d="M788 192.5L782 192.5"/>
<path d="M97 189.5L103 189.5"/>
<path d="M788 189.5L782 189.5"/>
<path d="M97 186.5L103 186.5"/>
<path d="M788 186.5L782 186.5"/>
<path d="M97 183.5L110 183.5"/>
<path d="M788 183.5L775 183.5"/>
<path d="M97 342.5L110 342.5"/>
<path d="M788 342.5L775 342.5"/>
<path d="M97 375.5L110 375.5"/>
<path d="M788 375.5L775 375.5"/>
<path d="M97 407.5L110 407.5"/>
<path d="M788 407.5L775 407.5"/>
<path d="M97 463.5L110 463.5"/>
<path d="M788 463.5L775 463.5"/>
<path d="M97 474.5L110 474.5"/>
<path d="M788 474.5L775 474.5"/>
<path d="M97 485.5L110 485.5"/>
<path d="M788 485.5L775 485.5"/>
<path d="M97 496.5L110 496.5"/>
<path d="M788 496.5L775 496.5"/>
<path d="M97 506.5L110 506.5"/>
<path d="M788 506.5L775 506.5"/>
<path d="M97 618.5L103 618.5"/>
<path d="M788 618.5L782 618.5"/>
<path d="M97 612.5L103 612.5"/>
<path d="M788 612.5L782 612.5"/>
<path d="M97 608.5L103 608.5"/>
<path d="M788 608.5L782 608.5"/>
<path d="M97 605.5L103 605.5"/>
<path d="M788 605.5L782 605.5"/>
<path d="M97 602.5L103 602.5"/>
<path d="M788 602.5L782 602.5"/>
<path d="M97 600.5L103 600.5"/>
<path d="M788 600.5L782 600.5"/>
<path d="M97 598.5L103 598.5"/>
<path d="M788 598.5L782 598.5"/>
<path d="M97 596.5L103 596.5"/>
<path d="M788 596.5L782 596.5"/>
<path d="M97 595.5L110 595.5"/>
<path d="M788 595.5L775 595.5"/>
<path d="M97 585.5L103 585.5"/>
<path d="M788 585.5L782 585.5"/>
<path d="M97 579.5L103 579.5"/>
<path d="M788 579.5L782 579.5"/>
<path d="M97 575.5L103 575.5"/>
<path d="M788 575.5L782 575.5"/>
<path d="M97 572.5L103 572.5"/>
<path d="M788 572.5L782 572.5"/>
<path d="M97 569.5L103 569.5"/>
<path d="M788 569.5L782 569.5"/>
<path d="M97 567.5L103 567.5"/>
<path d="M788 567.5L782 567.5"/>
<path d="M97 565.5L103 565.5"/>
<path d="M788 565.5L782 565.5"/>
<path d="M97 564.5L103 564.5"/>
<path d="M788 564.5L782 564.5"/>
<path d="M97 562.5L110 562.5"/>
<path d="M788 562.5L775 562.5"/>
<path d="M97 552.5L103 552.5"/>
<path d="M788 552.5L782 552.5"/>
<path d="M97 546.5L103 546.5"/>
<path d="M788 546.5L782 546.5"/>
<path d="M97 542.5L103 542.5"/>
<path d="M788 542.5L782 542.5"/>
<path d="M97 539.5L103 539.5"/>
<path d="M788 539.5L782 539.5"/>
<path d="M97 536.5L103 536.5"/>
<path d="M788 536.5L782 536.5"/>
<path d="M97 534.5L103 534.5"/>
<path d="M788 534.5L782 534.5"/>
<path d="M97 532.5L103 532.5"/>
<path d="M788 532.5L782 532.5"/>
<path d="M97 531.5L103 531.5"/>
<path d="M788 531.5L782 531.5"/>
</g>
<g shape-rendering="crispEdges">
</g>
<polyline points="97,126.3 98.1,124.8 99.1,123.2 100.1,122.5 101.2,121.9 102.2,121.2 103.4,122.2 104.6,123.2 105.6,123.2 106.6,123.2 107.7,123.2 108.6,122.5 109.5,121.9 110.5,121.2 111.3,121.9 112.2,122.5 113.1,123.2 114,123.3 114.9,123.4 115.8,123.6 116.7,123.7 117.6,123.8 118.4,123.9 119.3,124 120.2,124.1 121.1,124.3 122.1,124.4 123,124.5 123.9,124.6 124.8,124.8 125.9,125.6 127.1,126.3 128,126.1 129,125.9 129.9,125.7 130.8,125.5 131.8,125.2 132.8,125.8 133.7,126.3 134.7,126.9 135.7,127.4 136.5,127.4 137.4,127.4 138.3,127.4 139.2,127.4 140,127.4 140.9,127.4 141.8,127.4 142.7,127.4 143.5,127.1 144.4,126.9 145.2,126.6 146.1,126.3 147,127 147.9,127.7 148.8,128.3 149.7,129 150.5,129.6 151.4,130.2 152.2,130.8 153.1,131.4 153.9,132 154.8,132.6 155.6,132.3 156.4,132 157.2,131.8 158.1,131.5 158.9,131.3 159.7,131 160.5,130.8 161.3,130.5 162.3,130.4 163.2,130.3 164.1,130.2 165.1,130 166,129.9 166.9,129.5 167.9,129.1 168.8,128.7 169.7,128.3 170.7,127.9 171.6,127.6 172.5,127.3 173.5,127 174.4,126.6 175.3,126.3 176.3,126.6 177.3,126.9 178.2,127.1 179.2,127.4 180.2,127.2 181.1,127 182,126.8 183,126.6 183.9,126.3 184.8,126.5 185.7,126.7 186.6,126.9 187.5,127.1 188.4,127.2 189.3,127.4 190.2,127.3 191.1,127.1 192,127 192.9,126.8 193.8,126.6 194.7,126.5 195.6,126.3 196.5,126.6 197.4,126.8 198.4,127 199.3,127.2 200.2,127.4 201.3,127.1 202.3,126.7 203.3,126.3 204.4,126.7 205.4,127.1 206.4,127.4 207.5,128.1 208.5,128.8 209.6,129.4 210.5,128.1 211.4,126.9 212.4,125.6 213.2,125.6 214.1,125.6 214.9,125.6 215.8,125.6 216.6,125.6 217.5,125.6 218.3,125.6 219.2,125.6 220.1,125.6 220.9,125.6 221.8,125.6 222.6,125.6 223.5,125.6 224.3,125.6 225.3,126 226.3,126.5 227.2,127 228.2,127.4 229.1,127.1 230,126.9 230.9,126.6 231.8,126.3" fill="none" stroke="#8200ff" stroke-width="1" shape-rendering="crispEdges"/>
<polyline points="264,123.7 265,122.9 266.1,122 267.1,121.2 268,121.7 268.9,122.2 269.8,122.7 270.7,123.2 271.6,123.8 272.4,124.3 273.3,124.8 274.4,124.4 275.4,124.1 276.4,123.7 277.4,124 278.4,124.2 279.4,124.5 280.3,124.8 281.3,124.8 282.3,124.8 283.2,124.8 284.2,124.8 285.2,125.1 286.1,125.4 287,125.7 288,126 288.9,126.3 289.8,126.3 290.8,126.3 291.7,126.3 292.6,126.3 293.6,126.3 294.5,125.8 295.5,125.3 296.5,124.8 297.4,124.3 298.6,125.1 299.8,125.9 300.8,125.5 301.7,125.1 302.7,124.7 303.7,124.3 304.6,124.8 305.6,125.3 306.6,125.8 307.6,126.3 308.5,126.1 309.4,125.9 310.4,125.7 311.3,125.5 312.2,125.2 313.4,125.8 314.6,126.3 315.6,125.5 316.6,124.6 317.7,123.7 318.8,124.5 320,125.2 320.9,124.8 321.9,124.4 322.8,124 323.7,123.6 324.7,123.2 325.7,123.6 326.7,123.9 327.8,124.3 328.8,123.9 329.9,123.6 330.9,123.2" fill="none" stroke="#8200ff" stroke-width="1" shape-rendering="crispEdges"/>
<polyline points="337.1,120.9 338.7,127.1 339.9,123.2 340.8,124.5 341.8,124.8 342.8,124.1 343.9,124.7 344.9,123.2 345.8,124.6 346.8,125.2 348,120.9 349.6,124.8 350.8,119.3 351.7,119.9 352.7,122.4 353.8,123.4 355,124 356.2,122.3 357.3,120.9 358.5,123.5 359.7,124 360.8,122.3 362,121.7 363.2,122.2 364.3,124 365.3,125.4 366.4,127.9 367.3,124.3 368.2,122.4 369.5,119.3 370.4,120.8 371.3,124 372.9,120.9 374.4,124 376,120.1 377,121.4 378.1,121.4 379.1,120.9 380.1,121.3 381.2,119.9 382.2,119.6 383.4,121.7 384.6,121.7 385.7,121.5 386.9,120.1 388.1,121.1 389.2,122.4 390.4,120.8 391.6,120.9 392.6,120.9 393.6,122.8 394.7,122.4 395.7,122.5 396.7,121.4 397.8,121.7 398.8,122 399.9,124.5 400.9,124.8 402.1,123.9 403.2,120.9 404.4,119.8 405.6,120.1 406.6,120.9 407.6,121.9 408.7,122.4 409.8,122.5 411,120.9 412.2,120.3 413.3,119.6 414.4,120.2 415.4,120.9 416.4,122.4 417.6,121.3 418.8,120.6 419.8,121.7 420.7,121.1 421.7,122 422.7,121.7 424.2,124.8 425.4,122 426.6,120.9 427.6,120.9 428.6,122.9 429.7,122.4 430.8,122.6 432,120.9 433,120.8 433.9,121.6 434.9,119.8 435.9,120.1 437.1,119.7 438.2,120.9 439.4,118.2 440.6,117.8 441.7,119 442.9,119.6 444.1,119.7 445.2,119.3 446.3,119.8 447.3,120.1 448.3,120.9 449.3,123.5 450.4,127.1 451.3,131.4 452.2,134.9 453.8,131 454.9,134 456.1,137.7 457.7,133.3 458.8,132.3 460,130.2 461.2,133.7 462.3,135.7 463.5,133.3 464.7,131 465.7,131.1 466.7,132.2 467.8,134.1 468.8,132.9 469.9,133.3 470.9,133.3 471.7,135.7 472.6,135.4 473.5,137.8 474.3,139.6 475.3,137.5 476.3,133.3 477.5,134.4 478.7,134.1 479.8,132 481,131.8 482.2,135.3 483.3,138 484.9,131.8 485.8,136.7 486.8,139.6 488.3,131 489.2,132 490.2,133.5 491.1,134.9 492.3,132.3 493.4,131.8 494.6,134 495.8,136.4 497.3,129.9 498.9,137.2 500.4,131.8 501.6,129.5 502.8,128.7 504.3,129.4 505.5,127.7 506.7,124 508.2,121.7 509.3,121.3 510.3,122.2 511.3,122.1 512.5,122 513.7,120.1 514.8,120.4 516,121.7 517,121.8 518.1,121.3 519.1,120.9 520.3,120.4 521.4,121.7 522.6,121 523.8,120.1 524.8,121.1 525.9,119.7 526.9,120.9 528.1,122.3 529.2,122.4 530.8,118.6 531.9,119.8 533.1,121.7 534.1,120.6 535.2,120.6 536.2,120.1 537.3,120.9 538.3,123.4 539.3,124 540.5,121.6 541.7,120.1 542.8,121 544,121.7 545.2,120.1 546.3,119.3 547.4,119.9 548.4,121.8 549.4,121.7 550.5,121.6 551.5,121.7 552.6,120.1 553.5,119.7 554.5,120 555.5,121.7 556.4,120.9 557.6,120.5 558.8,120.1 559.9,123.1 561.1,124.8 562.3,121.8 563.4,120.9 564.6,120.6 565.8,122.4 566.8,122.8 567.9,121 568.9,120.9 569.9,121.9 571,122.3 572,123.2 573,121.8 573.9,120.7 574.9,120.5 575.9,120.1 576.9,120.2 577.8,119.9 578.8,121.8 579.8,121.7 580.8,122.4 581.9,121.6 582.9,120.9 583.8,121.3 584.8,123.5 585.7,122.9 586.6,125.1 587.6,125.6 588.7,122.8 589.9,121.7 590.9,120.9 591.8,122.4 592.8,121.8 593.8,122.4 594.7,123.4 595.6,121.1 596.6,123 597.5,120.9 598.4,121.7 599.5,122.2 600.5,121.9 601.6,123.2 602.6,123.5 603.6,121.8 604.7,120.9 605.6,120.9 606.5,121.3 607.5,122 608.4,122.8 609.3,122.4 610.4,121.3 611.4,121.9 612.4,121.7 613.5,121.6 614.5,124.6 615.6,124.8 616.7,123.1 617.9,121.7 618.9,121.3 619.8,122 620.8,121.9 621.8,123.2 623.3,120.9 624.9,123.2 625.8,122.5 626.8,122.4 627.7,121.7 628.6,120.5 629.6,120.1 630.5,119.7 631.4,120.7 632.4,120.1 633.3,121.3 634.2,120.9 635.2,122 636.1,122.1 637,124 638,123.3 638.9,120.9 639.9,120.6 641,121.2 642,120.1 643,121.3 644.1,120.6 645.1,121.7 646.1,122.1 647.2,119.7 648.2,120.1 649.8,122.4 650.8,120.6 651.9,120.3 652.9,120.1 653.9,119.8 655,121.3 656,120.9 657,120.7 658.1,120.7 659.1,119.3 660.1,120.2 661.2,119.1 662.2,120.1 663.3,119.5 664.3,119.2 665.3,118.6 666.4,119.5 667.4,119.1 668.4,120.1 669.5,119.9 670.5,119.9 671.6,120.1 672.6,119.8 673.6,119.8 674.7,118.6 675.8,118.7 677,117.8 678.2,118.2 679.3,120.1 680.9,118.6 682.1,120.5 683.2,120.9 684.4,121.2 685.6,119.3 686.7,120.3 687.9,120.9 688.7,123.2" fill="none" stroke="#8200ff" stroke-width="1" shape-rendering="crispEdges"/>
<polyline points="719,110.3 720.6,112.3 721.3,123.2 722.5,122.2 723.7,123.2 725.2,116.2 726.8,120.9 727.9,121.6 729.1,122.4 730.7,125.6 732.2,121.7 733.4,123.4 734.6,124.8 736.1,122.4 737.3,123.8 738.4,126.8 739.6,124.8 740.8,123.2 741.9,123.7 743.1,125.2 744.1,124.7 745.2,124.7 746.2,123.2 747.3,124 748.3,125.1 749.3,124.8 750.5,122.5 751.7,121.7 752.8,126.8 753.8,124.8 754.8,122.4 755.8,122.9 756.9,123.9 757.9,124 758.9,123.3 759.8,122.7 760.8,122 761.8,120.9 762.8,121.8 763.9,122.1 764.9,124 766.1,122.7 767.2,121.7 768.2,122.1 769.2,122.5 770.1,123.4 771.1,123.2 772.1,123.4 773.2,121 774.2,120.9 775.3,120.9 776.3,123.2 777.3,123.2 778.4,122.5 779.4,123.3 780.4,122.4 781.5,121.1 782.5,122.2 783.6,120.9 784.6,122.4 785.6,122.7 786.7,123.2 788,121.7" fill="none" stroke="#8200ff" stroke-width="1" shape-rendering="crispEdges"/>
<polyline points="97,100.4 98,98.9 98.9,97.5 99.9,96 101.1,94.8 102.2,93.7 103.4,94.7 104.6,95.7 105.6,95.5 106.6,95.4 107.7,95.2 108.7,95 109.7,94.7 110.8,94.4 111.7,94.7 112.6,94.9 113.5,95.1 114.4,95.3 115.3,95.5 116.2,95.7 117.1,95.8 118,95.8 118.8,95.9 119.7,96 120.5,96 121.4,96.1 122.3,96.2 123.1,96.2 124,96.3 124.9,97.2 125.8,98.2 126.6,99.1 127.6,99.4 128.5,99.6 129.4,99.9 130.3,100.3 131.2,100.6 132,101 132.9,101.4 133.8,101.8 134.6,102.2 135.5,102.6 136.4,102.9 137.2,103.3 138.3,103.2 139.3,103.1 140.3,103 141.4,101.2 142.4,99.4 143.4,97.6 144.3,96.8 145.2,96 146.1,95.2 147,95.8 147.9,96.4 148.8,97 149.7,97.6 150.5,98.2 151.4,98.9 152.2,99.5 153.1,100.1 153.9,100.8 154.8,101.4 155.7,101.2 156.5,100.9 157.4,100.6 158.2,100.4 159.2,99.8 160.2,99.3 161.1,98.8 162.1,98.3 163.3,99.1 164.4,99.9 165.4,100 166.4,100.1 167.4,100.2 168.3,100.4 169.3,99.5 170.2,98.7 171.1,97.9 172.1,97.1 173,96.3 174,96.6 175.1,96.9 176.1,97.2 177.1,97 178.1,96.8 179,96.5 180,96.3 180.9,96.6 181.9,96.8 182.8,97.1 183.7,97.3 184.7,97.6 185.5,97.6 186.4,97.6 187.3,97.6 188.2,97.6 189,97.6 189.9,97.6 190.8,97.6 191.7,97.6 192.6,98.3 193.6,99 194.6,99.7 195.6,100.4 196.6,99.7 197.6,99 198.7,98.3 199.8,98.9 201,99.4 202,99.1 202.9,98.9 203.9,98.6 204.9,98.3 205.9,98.5 206.8,98.7 207.8,98.9 208.8,99.1 209.7,98.8 210.6,98.5 211.5,98.2 212.4,97.9 213.3,97.6 214.2,97.2 215.2,97 216.2,96.8 217.1,96.5 218.1,96.3 219.1,96.7 220.1,97.1 221,97.5 222,97.9 222.9,98.4 223.9,98.9 224.8,99.4 225.7,99.9 226.7,100.4 227.8,100.1 229,99.9 229.9,99.4 230.9,98.9 231.8,98.3" fill="none" stroke="#0a8cff" stroke-width="1" shape-rendering="crispEdges"/>
<polyline points="264,97.6 265,97.3 266.1,97 267.1,96.8 268,96.7 268.9,96.6 269.8,96.6 270.7,96.5 271.6,96.4 272.4,96.4 273.3,96.3 274.4,95.7 275.4,95.1 276.4,94.4 277.4,94.6 278.3,94.8 279.2,94.9 280.2,95.1 281.1,95.2 282,95.2 282.8,95.2 283.7,95.2 284.6,95.2 285.4,95.2 286.3,95.2 287.2,95.2 288,95.2 288.9,95.2 289.9,95.6 291,95.9 292,96.3 293,96 293.9,95.8 294.9,95.5 295.9,95.2 296.9,95.5 297.8,95.8 298.8,96 299.8,96.3 300.8,95.9 301.9,95.6 302.9,95.2 303.8,95.6 304.8,96 305.7,96.4 306.6,96.8 307.6,97.2 308.6,96.9 309.6,96.6 310.7,96.3 311.7,96.7 312.7,97.1 313.8,97.6 314.8,96.8 315.7,96 316.7,95.2 317.7,94.4 318.8,94.8 320,95.2 320.9,95.1 321.8,95 322.7,94.9 323.6,94.8 324.4,94.7 325.3,94.6 326.2,94.4 327.2,94.2 328.1,94 329,93.8 330,93.6 330.9,93.4" fill="none" stroke="#0a8cff" stroke-width="1" shape-rendering="crispEdges"/>
<polyline points="337.1,93.4 338,93.2 338.9,93.6 339.8,93.7 340.7,93 341.6,93.1 342.4,93 343.3,93.4 344.9,94.4 346.1,94 347.2,93.4 348.1,93 349,93.3 349.8,93.1 350.7,93.4 351.5,93.7 352.4,93.5 353.3,93.4 354.1,93.1 355,93.4 355.8,94.4 357.3,93.4 358.9,94.4 360.4,93.4 361.4,92.9 362.4,92.8 363.4,92.4 364.3,92.6 365.5,93.7 366.7,94.4 367.7,93.8 368.7,93.8 369.8,93.4 370.7,93.1 371.6,93.7 372.6,93.6 373.5,93.4 374.4,93.4 376,92.1 376.9,91.6 377.9,91.9 378.8,91.8 379.7,91.4 380.7,91.3 381.7,91.4 382.7,91 383.8,90.6 384.8,91.2 385.7,91.3 386.7,91 387.7,91.6 388.7,92.6 389.7,93 390.8,94.1 391.9,93.9 393.1,92.9 394.1,93.4 395.2,93.9 396.2,94.1 397.2,94.3 398.1,94.4 399,93.8 400,94.3 400.9,94.1 401.9,93.6 403,93 404,92.1 404.9,92.3 405.9,92.1 406.8,91.9 407.7,92.1 408.7,91.6 409.6,92.1 410.5,91.9 411.5,92.2 412.4,92.5 413.3,92.6 414.3,92.8 415.2,92.2 416.1,92.5 417.1,92.3 418,92.6 419,93.2 420.1,93.5 421.1,94.1 422.1,94 423.2,93.6 424.2,93.7 425.3,93.8 426.3,92.9 427.3,92.9 428.4,93.1 429.4,93.5 430.4,94.1 431.4,94.1 432.3,93.9 433.2,93.6 434.2,93 435.1,92.9 436,92.5 437,92.3 437.9,92.1 438.8,91.4 439.8,91.3 440.7,90.2 441.6,89 442.7,90.3 443.7,91.3 444.7,90.9 445.7,90.6 446.8,90.6 447.9,92.3 449.1,93.7 450.4,102.2 451.9,108.4 453.5,111.9 455,107.7 455.9,107.3 456.8,106.5 457.7,105.6 458.6,106.3 459.6,106.3 460.6,106.3 461.6,106.9 462.5,107 463.4,106.5 464.4,106.8 465.3,107.1 466.2,106.9 467.1,106.7 468,107.1 468.9,106.4 469.8,106.5 470.7,106.5 471.6,106.5 472.4,106.6 473.3,107 474.1,106.8 475,106.7 475.8,106.3 476.7,106.5 477.5,106.2 478.4,106.4 479.2,106.7 480.1,106.9 480.9,106.3 481.8,106.6 482.8,105.8 483.9,105.7 484.9,105.3 485.9,105.5 487,105.5 488,105 488.9,106.9 489.9,108.2 490.8,109.7 492.4,106.1 493.3,107.2 494.2,107.7 495.4,104.8 496.6,102.2 497.7,103 498.9,104.6 499.9,104.1 501,103.5 502,103 503.2,100.6 504.3,98.3 505.4,97.1 506.4,96 507.4,94.4 508.4,94.6 509.4,93.9 510.4,94.1 511.3,93.7 512.3,93.7 513.2,93.2 514.1,92.8 515.1,92.9 516,92.9 517,92.4 518.1,91.2 519.1,90.6 520,90.7 520.9,90.4 521.8,89.9 522.7,90.5 523.6,90.1 524.4,90.1 525.3,89.8 526.2,89.8 527.1,89.7 528,89.8 528.9,90.1 529.8,89.5 530.7,90.1 531.6,89.8 532.4,89.8 533.3,89.8 534.1,90 535,90 535.9,90.6 536.7,90.4 537.6,90.5 538.5,91 539.3,91 540.3,90.8 541.2,90.5 542.1,90.4 543.1,90.5 544,90.6 544.9,90.7 545.9,90.5 546.8,90.5 547.7,89.5 548.7,89.8 549.6,89.5 550.5,89.8 551.5,90.1 552.4,90.1 553.3,89.8 554.2,89.7 555.1,90.3 555.9,90.3 556.8,90 557.7,90.2 558.5,90.5 559.4,90.8 560.2,91.2 561.1,91 562,91 562.8,91.4 563.7,90.9 564.5,90.7 565.4,90.8 566.2,90.7 567.1,91.2 567.9,91 568.7,90.8 569.6,91.4 570.4,91 571.3,90.7 572.2,91.1 573,91 573.9,90.1 574.8,89.9 575.6,90.1 576.5,89.9 577.4,89.9 578.2,89.8 579.2,89.9 580.1,89.8 581,89.9 582,89.4 582.9,89.8 583.8,90 584.8,90.6 585.7,90.6 586.6,90.6 587.6,91 588.4,90.8 589.3,90.9 590.2,91 591.1,90.9 592,90.9 592.9,90.9 593.8,90.6 594.6,90.5 595.5,90.7 596.4,90.3 597.2,90.3 598.1,90.3 599,90.3 599.8,89.6 600.7,90.1 601.6,89.8 602.5,89.5 603.4,89 604.4,88.8 605.3,88.6 606.2,87.9 607.8,89.5 608.6,89.8 609.5,89.8 610.4,89.8 611.2,89.4 612.1,89.3 613,89.4 613.8,89.4 614.7,89.2 615.6,89.5 616.4,89.6 617.3,89.6 618.2,88.7 619.1,89.2 620,88.6 620.9,89 621.8,88.5 622.6,88.5 623.5,88.3 624.3,88.5 625.2,88.6 626,88.2 626.9,88 627.7,87.9 628.6,88.4 629.4,88.2 630.3,88.3 631.1,87.9 632,88 632.8,87.8 633.7,88.2 634.6,88 635.4,88.1 636.3,87.5 637.2,87.5 638,87.7 638.9,87.9 639.8,87.7 640.7,88.7 641.6,88.3 642.4,88.6 643.3,89 644.2,89.6 645.1,89.5 645.9,89.5 646.8,89.3 647.6,89.7 648.5,89.6 649.3,89.8 650.1,89.8 651,89.2 651.8,89.1 652.6,89.5 653.5,89.6 654.3,89.3 655.2,89.4 656,89.5 656.9,89.4 657.9,89 658.8,88.7 659.7,88.2 660.7,88.2 661.6,88.4 662.5,88.1 663.5,87.8 664.4,88.4 665.3,87.9 666.3,87.6 667.2,87.6 668.1,86.7 669.1,86.4 670,86.4 671.2,87.3 672.3,87.4 673.3,86.7 674.3,86 675.2,85.8 676.2,84.8 677.3,85.1 678.3,85.8 679.3,86.7 680.4,86.1 681.4,86.4 682.4,85.9 683.6,87 684.8,87.4 685.8,87.5 686.7,88.3 687.7,88.5 688.7,88.5" fill="none" stroke="#0a8cff" stroke-width="1" shape-rendering="crispEdges"/>
<polyline points="719,84.3 719.8,91.3 721.3,95.2 722.4,95.1 723.4,95.3 724.4,95.7 725.5,96.2 726.5,96.4 727.6,96.8 728.6,96.4 729.6,96 730.7,95.7 731.5,95.7 732.4,96 733.2,96.1 734.1,95.9 734.9,96.1 735.8,95.9 736.6,96.2 737.5,96 738.3,96.3 739.2,96.3 740,96.3 740.8,96.3 741.6,96.5 742.4,96.6 743.2,96.5 744,96.6 744.8,96.3 745.6,96.4 746.4,96.2 747.2,96.7 748,96.5 748.8,96.4 749.6,96.7 750.4,96.3 751.2,96.7 752,96.4 752.8,96.3 753.6,96.8 754.5,96.4 755.3,96.6 756.1,96.7 756.9,96.9 757.7,96.9 758.5,96.8 759.3,96.5 760.1,96.5 760.9,96.7 761.7,96.8 762.5,96.9 763.3,96.8 764.1,97 764.9,96.8 765.9,96.5 767,96.2 768,95.7 768.9,95.7 769.7,95.7 770.6,96.1 771.5,96.3 772.3,96.5 773.2,96.4 774,96.7 774.9,96.8 775.8,96.8 776.7,96.8 777.6,96.5 778.6,96.6 779.5,96.6 780.4,96.3 781.3,95.9 782.1,96.1 783,95.9 783.8,95.6 784.6,95.8 785.5,95.8 786.3,95.7 787.2,95.5 788,95.2" fill="none" stroke="#0a8cff" stroke-width="1" shape-rendering="crispEdges"/>
<polyline points="97,91 98.1,89.2 99.1,87.4 100.1,87.2 101.1,86.9 102,86.6 103,86.4 103.9,86.4 104.7,86.4 105.6,86.4 106.5,86.4 107.3,86.4 108.2,86.4 109,86.4 109.9,86.4 110.8,86.4 111.7,86.7 112.6,87.1 113.6,87.5 114.5,87.8 115.4,88.2 116.3,88.4 117.2,88.5 118,88.7 118.9,88.8 119.7,89 120.6,89.2 121.4,89.3 122.3,89.5 123.1,89.6 124,89.8 124.9,90.9 125.8,92.1 126.6,93.2 127.6,93 128.5,92.8 129.4,92.6 130.3,92.8 131.2,93.1 132,93.4 132.9,93.6 133.7,93.9 134.6,94.2 135.4,94.4 136.3,94.7 137.1,95 138,95.2 139.2,95 140.3,94.8 141.5,89.5 142.7,84.3 143.7,81.7 144.7,79.1 145.8,76.6 147.3,75.8 148.4,76 149.4,76.3 150.4,76.6 151.3,77.1 152.2,77.6 153.1,78.1 153.9,78.7 154.8,79.2 155.7,78.6 156.6,78 157.4,77.3 158.4,78.1 159.4,78.9 160.4,79.7 161.3,80.4 162.3,80.6 163.3,80.8 164.2,81 165.2,81.2 166.4,81.8 167.6,82.3 168.5,81.8 169.5,81.4 170.5,80.9 171.4,80.4 172.4,81.1 173.4,81.8 174.4,82.5 175.3,83.2 176.3,83.4 177.3,83.6 178.2,83.7 179.2,83.9 180.2,84.4 181.1,84.9 182,85.4 183,85.9 183.9,86.4 184.9,86.4 185.8,86.4 186.8,86.4 187.8,86.4 188.7,86.2 189.6,86 190.5,85.9 191.4,85.7 192.3,85.6 193.2,85.4 194.2,84.1 195.1,82.7 196,81.3 197,79.9 197.9,78.6 198.9,78.5 199.8,78.3 200.8,78.2 201.8,78.1 202.8,78.5 203.8,78.9 204.7,76.7 205.6,74.5 206.4,72.4 207.4,74 208.4,75.6 209.4,77.3 210.3,78.9 211.5,79.5 212.7,80.1 213.8,79.7 215,79.2 216,80.3 216.9,81.4 217.9,82.5 218.9,83.6 219.9,84.1 220.8,84.7 221.8,85.3 222.8,85.9 223.8,87.2 224.7,88.6 225.7,90 226.7,91.3 228.2,91 229.1,89.3 230,87.7 230.9,86 231.8,84.3" fill="none" stroke="#00ff28" stroke-width="1" shape-rendering="crispEdges"/>
<polyline points="264,87.1 264.9,87 265.9,86.8 266.8,86.7 267.7,86.5 268.7,86.4 269.6,86.6 270.6,86.9 271.6,87.2 272.6,87.4 273.6,86.8 274.6,86.1 275.7,85.4 276.5,85.4 277.4,85.4 278.3,85.4 279.2,85.4 280,85.4 280.9,85.4 281.8,85.4 282.7,85.4 284.2,86.4 285.4,85.9 286.6,85.4 287.6,85.7 288.6,86 289.7,86.4 290.6,86.4 291.4,86.4 292.3,86.4 293.2,86.4 294.1,86.4 295,86.4 295.9,86.4 297.4,83.6 298.6,84.2 299.8,84.8 300.8,84.3 301.9,83.8 302.9,83.2 303.9,83.6 305,84 306,84.3 307,84.3 308.1,84.3 309.1,84.3 310.3,84.9 311.4,85.4 312.5,85.1 313.5,84.7 314.6,84.3 315.7,83.8 316.9,83.2 317.9,84 319,84.7 320,85.4 320.8,85.4 321.7,85.4 322.5,85.4 323.4,85.4 324.2,85.4 325,85.4 325.9,85.4 326.7,85.4 327.5,85.4 328.4,85.4 329.2,85.4 330.1,85.4 330.9,85.4" fill="none" stroke="#00ff28" stroke-width="1" shape-rendering="crispEdges"/>
<polyline points="337.1,85.4 338,84.9 339,85.1 339.9,85.6 340.8,85.1 341.8,85.4 343.3,86.4 344.4,85.5 345.4,86.3 346.4,85.4 347.5,85.9 348.5,85.9 349.6,86.4 350.7,85.7 351.9,85.4 352.9,85.6 354,85.3 355,85.4 355.8,86.4 356.9,86 358.1,85.4 359.3,85.6 360.4,85.9 361.4,85.3 362.4,85.6 363.4,85 364.3,84.3 365.5,85.2 366.7,86.4 367.7,86.1 368.7,85.1 369.8,84.8 370.8,85.1 371.9,84.6 372.9,85.1 373.9,84.6 375,83.9 376,83.6 377,83.8 377.9,83 378.9,83.2 379.9,82.8 380.9,82.6 381.8,82.7 382.8,82.8 383.8,82.3 384.9,82.6 386.1,83.6 387.3,83.2 388.4,83.2 389.5,83.9 390.5,85 391.6,85.1 392.5,85.4 393.4,85.7 394.4,85.4 395.3,85.3 396.2,85.9 397.2,85.7 398.1,86.1 399,86 400,86.7 400.9,86.4 401.9,85.9 403,84.5 404,84.3 404.9,83.7 405.9,83.8 406.8,84.2 407.7,84.4 408.7,83.9 409.6,83.5 410.5,84.3 411.5,84.7 412.4,84.8 413.3,84.8 414.4,84.5 415.4,85 416.4,84.3 417.5,84.8 418.5,85.6 419.6,85.4 420.5,85.8 421.4,86.1 422.4,86.3 423.3,86 424.2,86.4 425.3,85.9 426.3,85.6 427.3,85.4 428.4,85.3 429.4,86 430.4,86.4 431.5,86 432.5,85.9 433.6,85.9 434.5,85.3 435.5,84.7 436.5,84.7 437.4,84.3 438.6,84.1 439.8,82.8 440.7,80.8 441.6,79.7 442.7,81.2 443.7,82.8 444.8,82.7 446,82.3 447.2,84 448.3,85.1 449.9,89.8 451.4,96 453,99.9 454.6,96 455.7,95.2 456.9,95.2 457.9,95.2 459,94.5 460,94.1 461,95.1 462.1,95.4 463.1,95.7 464,95.3 464.9,95.7 465.8,96.1 466.7,95.7 467.6,96.6 468.4,96.3 469.3,96.3 470.3,96.5 471.2,97.2 472.1,96.7 473.1,97.1 474,97.2 474.9,97.7 475.9,97.5 476.8,96.6 477.7,96.6 478.7,96.8 479.6,96.4 480.5,95.9 481.5,96.4 482.4,95.7 483.3,95.7 484.3,95.1 485.3,94.2 486.2,94.4 487.2,93.7 488.3,94.4 489.3,96.2 490.3,96.8 491.9,94.4 492.9,95.1 494,96.7 495,97.6 496.6,92.9 497.7,93.2 498.9,94.4 499.9,93.2 501,93.3 502,92.1 503.2,90.1 504.3,87.4 505.3,87.3 506.3,88 507.2,88 508.2,87.4 509.3,86.4 510.3,86.6 511.3,85.9 512.4,86 513.4,85.2 514.4,85.1 516,85.1 517,84.9 518.1,83.5 519.1,82.8 520,82.8 520.9,82.7 521.8,82.1 522.7,82.2 523.6,82.2 524.4,82.3 525.3,82 526.2,82.4 527.1,82.1 528,81.7 528.9,82.1 529.8,81.5 530.7,82 531.6,81.7 532.4,81.7 533.3,81.4 534.1,81.5 535,81.8 535.9,82.1 536.7,81.7 537.6,82.5 538.5,82.6 539.3,82.3 540.3,81.8 541.2,82 542.1,82.3 543.1,81.5 544,81.7 544.9,81.6 545.9,80.9 546.8,80.9 547.7,80.5 548.7,80.8 549.6,80.1 550.5,80.2 551.5,79.8 552.4,79.7 553.3,79.7 554.3,79.5 555.2,79.2 556.1,79.4 557.1,80.1 558,79.7 559,79.6 560.1,80.7 561.1,80.8 562,80.8 563,80.1 563.9,79.5 564.8,79.8 565.8,78.9 566.7,78.6 567.6,78.7 568.6,78.3 569.5,77.6 570.4,77 571.4,77.1 572.3,76.8 573.2,77.3 574.2,77.4 575.1,77 576,76.9 577,75.9 577.9,76.4 578.8,76.1 579.8,75.5 580.8,75.2 581.9,73.8 582.9,73.4 583.8,72.9 584.8,72.7 585.7,72.7 586.6,72.3 587.6,71.9 588.5,71.4 589.4,72.1 590.4,71.1 591.3,71 592.2,71.1 593.2,71.1 594.1,71.6 595,71 596,71.1 596.9,71.1 597.8,71 598.8,70.9 599.7,70.2 600.6,70 601.6,70.3 602.5,69.8 603.4,70.8 604.4,70 605.3,70.4 606.2,70.3 607.3,70.5 608.3,69.5 609.3,69.2 610.2,69.5 611.1,69.4 612,70.2 612.9,70 613.8,69.7 614.7,70.2 615.6,70.3 616.4,69.9 617.3,69.9 618.1,70.1 619,70.5 619.9,70.6 620.7,69.9 621.6,70.8 622.5,70.6 623.3,70.3 624.2,69.9 625.1,70.1 626,70.3 626.8,69.7 627.7,70.2 628.6,69.8 629.5,69.2 630.3,69.2 631.2,69.4 632.1,69.6 633,69.6 633.8,69.2 634.7,69.1 635.6,69 636.5,69.4 637.3,69.6 638.4,70.5 639.4,70.6 640.4,71.9 641.4,71.9 642.3,72.2 643.2,73.4 644.2,73.7 645.1,73.4 646,73.5 646.9,73.2 647.8,74 648.7,74.2 649.6,73.3 650.4,73.7 651.3,73.9 652.3,73.9 653.2,74.2 654.1,74 655.1,73.7 656,73.9 657,73.5 658.1,72.8 659.1,71.9 660.1,72.4 661.1,73.4 662,73.5 663,74.5 664,73.6 664.9,74 665.9,72.7 666.9,72.7 667.8,73 668.8,73.2 669.7,73.2 670.6,73.6 671.6,73.4 672.6,72.1 673.6,71.5 674.7,70.3 675.6,70.2 676.5,69 677.5,68.8 678.4,70.1 679.3,71.9 680.4,71.1 681.4,70.7 682.4,70.3 683.6,72.2 684.8,73 685.9,72.4 687.1,72.4 688.7,75" fill="none" stroke="#00ff28" stroke-width="1" shape-rendering="crispEdges"/>
<polyline points="719,69.6 719.8,78.9 720.6,86.7 721.3,89.5 722.1,89.8 722.9,88.9 723.7,89.5 724.5,89.5 725.3,89.5 726.2,89.5 727,89.5 727.8,89.5 728.6,89.5 729.4,89.5 730.2,89.5 731,89.5 731.8,89.5 732.6,89.5 733.4,89.5 734.2,89.5 735,89.5 735.8,89.5 736.6,89.5 737.4,89.5 738.2,89.5 739,89.5 739.8,89.5 740.6,89.5 741.4,89.5 742.2,89.5 743,89.5 743.8,89.5 744.6,89.5 745.4,89.5 746.2,89.5 747,89.5 747.8,89.5 748.6,89.5 749.4,89.5 750.2,89.5 751.1,89.5 751.9,89.5 752.7,89.5 753.5,89.5 754.3,89.5 755.1,89.5 755.9,89.5 756.7,89.5 757.5,89.5 758.3,89.5 759.1,89.5 759.9,89.5 760.7,89.5 761.5,89.5 762.3,89.5 763.1,89.5 763.9,89.5 764.7,89.5 765.5,89.5 766.3,89.5 767.1,89.5 767.9,89.5 768.7,89.5 769.5,89.5 770.3,89.5 771.1,89.5 771.9,89.5 772.7,89.5 773.5,89.5 774.3,89.5 775.1,89.5 776,89.5 776.8,89.5 777.6,89.5 778.4,89.5 779.2,89.5 780,89.5 780.8,89.5 781.6,89.5 782.4,89.5 783.2,89.5 784,89.5 784.8,89.5 785.6,89.5 786.4,89.5 787.2,89.5 788,89.5" fill="none" stroke="#00ff28" stroke-width="1" shape-rendering="crispEdges"/>
<polyline points="97,75.5 98.3,71.9 99.3,71.3 100.3,70.7 101.2,70.1 102.2,69.6 103.3,69.7 104.3,69.8 105.3,69.9 106.3,69.3 107.2,68.8 108.1,68.3 109,68.7 109.8,69.1 110.7,69.5 111.6,69.9 112.5,70.2 113.4,70.5 114.3,70.9 115.2,71.2 116.1,71.6 117,71.9 118,72 118.9,72.1 119.9,72.2 120.9,72.4 121.9,72.4 122.8,72.4 123.8,72.4 124.8,72.4 125.7,74.2 126.6,76.1 127.7,75.8 128.7,75.5 129.6,75.8 130.5,76.2 131.5,76.6 132.4,77 133.3,77.3 134.3,77.3 135.2,77.3 136.1,77.3 137.1,77.3 138,77.3 139.2,76.2 140.3,75 141.4,66.4 142.7,56.3 144.2,52.1 145.4,51.7 146.6,51.2 147.6,51.6 148.6,52 149.7,52.4 150.6,53 151.5,53.6 152.5,54.1 153.4,54.7 154.3,55.2 155.2,55.2 156,55.2 156.9,55.2 157.8,55.2 158.6,55.2 159.5,55.2 160.3,55.2 161.2,55.2 162,55.2 162.9,55.2 164.1,54.8 165.2,54.3 166.1,54.6 167,54.9 167.9,55.2 168.8,54.7 169.7,54.2 170.6,53.7 171.4,53.2 172.6,54 173.8,54.8 174.7,54.9 175.6,55.1 176.6,55.2 177.5,55.4 178.4,55.6 179.4,56.1 180.3,56.7 181.2,57.2 182.2,57.8 183.1,58.4 184,58.2 185,58 185.9,57.8 186.8,57.6 187.8,57.4 188.8,57.4 189.9,57.4 190.9,57.4 192.1,55.3 193.2,53.2 194.4,55.9 195.6,58.7 196.7,55.2 197.9,51.7 198.9,51.5 199.8,51.4 200.8,51.3 201.8,51.2 202.8,50.7 203.9,50.2 204.9,49.6 205.8,49.7 206.6,49.9 207.5,50 208.3,50.1 209.2,50.2 210.1,50.3 210.9,50.4 211.8,50.5 212.7,50.6 213.6,51.4 214.6,52.1 215.6,52.9 216.6,53.7 217.5,54 218.5,54.2 219.5,54.5 220.4,54.8 221.5,55.7 222.5,56.5 223.6,57.4 224.5,57 225.4,56.7 226.4,56.3 227.3,55.9 228.2,55.6 229.1,54.8 230,54 230.9,53.2 231.8,52.4" fill="none" stroke="#dcff00" stroke-width="1" shape-rendering="crispEdges"/>
<polyline points="264,56.3 264.8,56.3 265.7,56.3 266.5,56.3 267.4,56.3 268.2,56.3 269.1,56.3 269.9,56.3 270.8,56.3 271.6,56.3 272.5,56.3 273.3,56.3 274.3,56.6 275.2,56.8 276.1,57 277.1,57.2 278,57.4 278.9,57.6 279.9,57.8 280.8,58 281.7,58.2 282.7,58.4 283.6,58.4 284.4,58.4 285.3,58.4 286.2,58.4 287.1,58.4 288,58.4 288.9,58.4 289.7,58.6 290.6,58.9 291.5,59.2 292.3,59.4 293.2,59.1 294.1,58.7 295,58.3 295.9,57.9 296.9,57.8 297.8,57.7 298.8,57.5 299.8,57.4 300.8,57.7 301.7,57.9 302.7,58.1 303.7,58.4 304.6,58.1 305.6,57.9 306.6,57.7 307.6,57.4 308.4,57.4 309.3,57.4 310.2,57.4 311.1,57.4 312,57.4 312.9,57.4 313.8,57.4 314.8,57.7 315.9,58 316.9,58.4 317.9,58.1 318.8,57.9 319.8,57.7 320.8,57.4 321.6,57.4 322.5,57.4 323.3,57.4 324.1,57.4 325,57.4 325.8,57.4 326.7,57.4 327.5,57.4 328.4,57.4 329.2,57.4 330,57.4 330.9,57.4" fill="none" stroke="#dcff00" stroke-width="1" shape-rendering="crispEdges"/>
<polyline points="337.1,57.4 338,57.7 338.8,57.4 339.7,57.6 340.5,57.3 341.4,57.5 342.2,57.3 343.1,57.3 343.9,57.5 344.7,57.3 345.6,57.2 346.4,57.4 347.5,57 348.5,56.4 349.6,56.3 350.7,57.2 351.9,57.4 352.9,57.7 354,57.2 355,57.4 356.2,57.2 357.3,56.3 358.2,56.4 359.1,56.1 359.9,56.1 360.8,55.8 361.7,55.8 362.5,55.9 363.4,55.8 364.2,55.5 365.1,55.6 366.7,56.3 367.6,56.3 368.5,56.1 369.4,56.3 370.3,56.2 371.2,56.6 372.1,56.3 373.3,55.8 374.4,55.2 376,55.6 376.8,55.7 377.7,55.7 378.5,55.8 379.4,55.4 380.2,55.4 381,55.7 381.9,55.4 382.7,55.3 383.5,55.8 384.4,55.5 385.2,55.4 386.1,55.3 386.9,55.6 388.1,56 389.2,56.3 390.4,55 391.6,54 392.7,54.9 393.9,55.6 394.7,55.5 395.6,55.6 396.4,55.8 397.3,55.4 398.1,55.5 399,55.7 399.8,55.6 400.7,55.3 401.5,55.8 402.4,55.3 403.2,55.6 404.1,55.6 404.9,55.7 405.8,56.1 406.6,56.2 407.4,56 408.3,56.6 409.1,56.7 410,56.8 410.8,56.9 411.6,57 412.5,56.7 413.3,57.1 414.3,57.4 415.2,58.2 416.1,58.7 417.1,59.2 418,59.4 419.2,61.5 420.3,64.1 421.1,61 422.1,60.7 423.2,60.9 424.2,61 425.4,60.3 426.6,60.2 427.6,61.6 428.6,63.1 429.7,64.1 431.2,61.8 432.8,68 433.9,67.1 435.1,66.4 436.7,68.8 437.4,60.2 438.6,59.5 439.8,59.4 440.9,59.2 442.1,58.7 443.7,62.6 444.8,61 446,59.4 447.2,58.9 448.3,58.7 449.9,64.9 451.4,68.8 452.6,66 453.8,63.3 454.9,61.8 456.1,60.2 457.3,60.4 458.4,61 459.5,62.6 460.5,63.8 461.6,65.7 462.5,66.8 463.5,67.7 464.5,69.3 465.4,70.3 466.4,71.2 467.4,72 468.4,73.1 469.3,74.2 470.3,74.7 471.3,74.6 472.2,75.3 473.2,75.5 474.1,75.2 475,75.2 475.9,75 476.9,75.4 477.8,74.9 478.7,75 479.6,74.3 480.5,74 481.5,73.1 482.4,72.2 483.3,71.9 484.4,70.7 485.4,69.6 486.4,68.8 487.4,68.3 488.4,67.1 489.4,66.6 490.3,65.7 491.5,65.9 492.7,66.4 494.2,64.1 495.8,66.4 496.8,65.6 497.9,64.1 498.9,63.3 499.8,63.4 500.8,63.1 501.7,62.9 502.6,62.6 503.6,62.6 504.7,62.8 505.9,62.6 507.1,67.8 508.2,72.7 509.8,66.4 510.9,64.5 512.1,62.6 513.3,60.5 514.4,58.7 516,56.8 516.9,56.9 517.8,56.8 518.7,56.4 519.6,56.5 520.4,56.4 521.3,56.6 522.2,56.3 523,56 523.9,56.6 524.7,56.5 525.5,56.5 526.3,56.3 527.1,56.1 527.9,56.3 528.7,56.6 529.6,56.2 530.4,56.1 531.2,56.3 532,56.4 532.8,56.3 533.6,56.1 534.4,56.3 535.3,56.4 536.1,56.5 536.9,56.5 537.7,56.3 538.5,56.1 539.3,56.3 540.2,56.1 541.1,56.1 541.9,56.1 542.8,56.3 543.7,56.4 544.5,56.6 545.4,56.2 546.2,56.5 547.1,56.3 548,56.5 548.9,56.6 549.8,57 550.7,57 551.6,56.9 552.4,57.5 553.3,57.4 554.3,57.6 555.2,58 556.1,57.8 557.1,58.4 558,58.4 558.8,58.4 559.6,58.6 560.4,58.2 561.3,58.3 562.1,58.6 562.9,58.2 563.7,58.6 564.5,58.3 565.3,58.1 566.1,58.2 567,58.5 567.8,58.3 568.6,58.3 569.4,58.4 570.2,58.5 571,58.3 571.9,58.5 572.7,58.4 573.5,58.6 574.3,58.6 575.1,58.4 576,58.5 576.9,58 577.8,57.8 578.7,58 579.6,57.8 580.4,57.5 581.3,57.4 582.2,57.5 583,57.4 583.9,57.1 584.7,57.4 585.6,57.2 586.4,57.3 587.3,57.2 588.1,56.8 589,57 589.8,57.1 590.7,56.8 591.5,56.8 592.4,56.8 593.2,56.8 594.1,56.7 594.9,56.5 595.8,56.7 596.6,56.3 597.5,56.3 598.3,56.2 599.2,56.4 600,56.3 600.8,56.5 601.6,56.2 602.4,56.1 603.2,56.1 604,56.6 604.8,56.2 605.6,56.2 606.4,56.6 607.2,56.4 608,56.4 608.8,56.5 609.6,56.2 610.4,56.2 611.2,56.5 612,56.4 612.8,56.4 613.6,56.6 614.5,56.6 615.3,56.3 616.1,56.6 616.9,56.3 617.7,56.4 618.5,56.3 619.3,56.6 620.1,56.6 620.9,56.3 621.7,56.6 622.5,56.6 623.3,56.3 624.1,56.5 624.9,56.3 625.8,55.9 626.8,56.3 627.7,55.6 628.6,55.6 629.6,55.6 630.4,55.3 631.2,55.7 632.1,55.4 632.9,55.3 633.7,55.5 634.6,55.8 635.4,55.4 636.3,55.3 637.1,55.6 637.9,55.6 638.8,55.7 639.6,55.7 640.4,55.6 641.4,55.4 642.3,55.7 643.2,55.8 644.2,56.2 645.1,56.3 646,56.5 646.9,56.3 647.8,56 648.7,55.6 649.6,55.6 650.4,55.9 651.3,55.6 652.3,55.5 653.2,55.5 654.1,55.5 655.1,55.3 656,55.2 656.8,55.2 657.7,55.4 658.5,55.1 659.4,54.8 660.2,55.1 661.1,54.7 661.9,55.2 662.8,54.7 663.6,54.7 664.5,54.6 665.3,54.8 666.2,55 667.1,54.9 668,54.9 668.9,55 669.8,55.3 670.7,55.2 671.6,55.2 672.5,55.1 673.4,54.7 674.4,54.8 675.3,54.2 676.2,54.3 677.2,54.4 678.1,54.5 679,55.1 680,55.2 680.9,55.2 681.9,55.4 683,55 684,54.8 684.9,54.5 685.9,54.3 686.8,54.2 687.7,54.7 688.7,54.3" fill="none" stroke="#dcff00" stroke-width="1" shape-rendering="crispEdges"/>
<polyline points="719,53.2 720.1,58.7 721.3,63 722.5,62.4 723.7,61.5 724.6,61.2 725.6,61.2 726.6,61.1 727.6,61 728.5,61.5 729.4,62.1 730.4,62.4 731.3,62.8 732.2,63.3 733.2,63.6 734.1,63.7 735,63.8 736,64.1 736.9,64.1 737.8,64.6 738.8,65 739.7,65.5 740.6,66.1 741.6,66.4 742.5,66.6 743.4,66.8 744.4,67 745.3,67.1 746.2,67.2 747.2,67.1 748.1,67 749,66.9 750,66.9 750.9,66.8 751.8,66.9 752.8,66.9 753.7,67 754.6,67.1 755.6,67.2 756.4,67.3 757.3,67.2 758.1,67 758.9,67.1 759.8,67 760.6,67.1 761.5,66.9 762.3,66.9 763.2,66.7 764,66.7 764.9,66.8 765.8,66.7 766.8,67.1 767.7,67 768.6,67 769.6,67.2 770.4,67.1 771.2,67.2 772.1,67.3 772.9,67.1 773.7,67.2 774.6,67.3 775.4,67.2 776.3,67.2 777.1,67.2 777.9,67.2 778.8,67.2 779.6,67.1 780.4,67.2 781.3,67.1 782.1,67.1 783,67 783.8,67 784.6,66.8 785.5,66.8 786.3,66.5 787.2,66.5 788,66.4" fill="none" stroke="#dcff00" stroke-width="1" shape-rendering="crispEdges"/>
<polyline points="97,55.6 97.8,55.5 98.7,55.5 99.5,55.5 100.3,55.4 101.2,55.4 102,55.4 102.8,55.3 103.7,55.3 104.5,55.3 105.3,55.2 106.3,55.1 107.2,54.9 108.1,54.8 109.1,54.6 110,54.5 111,54.8 112.1,55.2 113.1,55.6 113.9,55.6 114.7,55.6 115.5,55.6 116.3,55.6 117.1,55.6 117.9,55.6 118.7,55.6 119.5,55.6 120.3,55.6 121.1,55.6 121.9,55.6 122.7,55.6 123.5,55.6 124.3,55.6 125.1,55.6 125.9,55.6 126.7,55.6 127.5,55.6 128.3,55.6 129.1,55.6 129.9,55.6 130.7,55.6 131.5,55.6 132.3,55.6 133.1,55.6 133.9,55.6 134.7,55.6 135.5,55.6 136.3,55.6 137.1,55.6 137.9,55.6 138.7,55.6 139.5,55.6 140.3,55.6 141.1,55.6 142.3,53.6 143.4,51.7 144.5,50.5 145.5,49.4 146.6,48.2 147.6,48.6 148.6,49 149.7,49.3 150.6,49.9 151.5,50.5 152.5,51 153.4,51.6 154.3,52.1 155.2,52.1 156,52.1 156.8,52.1 157.6,52.1 158.4,52.1 159.3,52.1 160.1,52.1 160.9,52.1 161.7,52.1 162.5,52.1 163.4,52.1 164.2,52.1 165,52.1 165.8,52.1 166.6,52.1 167.5,52.1 168.3,52.1 169.1,52.1 170,51.7 171,51.2 172,51.8 173,52.4 173.9,52.6 174.8,52.8 175.6,52.9 176.5,53.1 177.4,53.2 178.2,53.4 179.1,53.5 180,53.7 181,54.5 182.1,55.2 183.1,56 184,56 184.9,56 185.8,56 186.7,56 187.6,56 188.4,56 189.3,56 190.3,54.9 191.3,53.8 192.2,52.8 193.2,51.7 194.8,53.2 195.8,51.5 196.7,49.9 197.7,48.2 198.7,46.5 199.8,47 201,47.5 202,47.2 202.9,46.8 203.9,46.5 204.9,46.2 205.8,46.4 206.7,46.5 207.6,46.6 208.5,46.7 209.4,46.9 210.3,47 211.3,46.8 212.4,46.5 213.2,47.5 214,48.4 214.9,49.3 215.7,50.3 216.6,51.2 217.5,51.7 218.5,52.2 219.5,52.7 220.4,53.2 221.4,54.1 222.4,55 223.4,55.9 224.3,56.8 225.5,56.8 226.7,56.8 227.7,55.9 228.7,54.9 229.8,54 230.8,52.7 231.8,51.4" fill="none" stroke="#ff0000" stroke-width="1" shape-rendering="crispEdges"/>
<polyline points="264,50.6 264.9,50.6 265.7,50.6 266.6,50.6 267.5,50.6 268.3,50.6 269.2,50.6 270,50.6 270.9,50.6 271.8,50.6 272.9,51.4 274.1,52.1 275,52.2 275.8,52.3 276.7,52.3 277.5,52.4 278.4,52.4 279.2,52.5 280.1,52.6 281,52.6 281.8,52.7 282.7,52.8 283.7,52.9 284.7,53.1 285.8,53.2 286.7,53.4 287.6,53.5 288.4,53.7 289.3,53.8 290.2,54 291.1,54.2 292,54.3 293,54 293.9,53.8 294.9,53.5 295.9,53.2 296.9,53 297.8,52.8 298.8,52.6 299.8,52.4 300.7,52.7 301.6,52.9 302.6,53.2 303.5,53.4 304.4,53.7 305.4,53.4 306.3,53.1 307.2,52.8 308.2,52.4 309.1,52.1 310.1,52.2 311.2,52.3 312.2,52.4 313.3,52.9 314.3,53.3 315.3,53.7 316.3,53.6 317.2,53.5 318.1,53.4 319.1,53.3 320,53.2 321,52.9 322.1,52.5 323.1,52.1 324,52.1 324.8,52.1 325.7,52.1 326.6,52.1 327.4,52.1 328.3,52.1 329.2,52.1 330,52.1 330.9,52.1" fill="none" stroke="#ff0000" stroke-width="1" shape-rendering="crispEdges"/>
<polyline points="337.1,52.1 338.3,52.9 339.4,53.2 340.3,53 341.2,53 342.1,53.1 342.9,53.4 343.8,53.3 344.7,53.3 345.6,53 346.4,53.2 348,52.1 349.2,52.7 350.3,53.2 351.9,52.1 353.1,52.9 354.2,53.2 355.1,52.9 356,52.9 356.9,52.8 357.8,52.8 358.7,52.3 359.6,52.6 360.4,52.1 361.3,52.1 362.1,52.2 363,52 363.8,52.2 364.6,52.3 365.5,52.1 366.3,52 367.1,52.1 368,51.9 368.8,51.9 369.7,52.2 370.5,52.3 371.3,52.1 372.9,50.9 373.9,50.9 375,50.9 376,50.9 376.8,51.2 377.7,50.7 378.5,50.7 379.4,51.1 380.2,51.2 381,51.2 381.9,51 382.7,50.9 383.5,51 384.4,50.9 385.2,51.3 386.1,51.4 386.9,51.2 387.9,51.9 388.8,52.2 389.8,52.6 390.8,53.2 391.6,50.1 393.1,55.2 394,55.4 394.9,56 395.8,55.9 396.7,56.6 397.6,56.7 398.4,56.7 399.3,57.1 400.9,58.4 402.1,57.1 403.2,56.3 404.1,56.2 405,56.4 405.9,56.3 406.9,56.4 407.8,56.4 408.7,56.3 409.6,56.6 410.5,57.1 411.5,57.4 412.4,58.1 413.3,58.4 414.2,58.5 415.1,58.8 416,59 416.9,59.4 417.8,59.9 418.7,60.1 419.6,60.2 420.5,60.3 421.4,60.3 422.4,60 423.3,59.9 424.2,60.2 425.4,59.9 426.6,59.4 427.6,60.1 428.6,60.6 429.7,61 430.5,60.7 431.4,60.7 432.3,60.7 433.2,60.6 434,60.2 434.9,60.6 435.8,60.2 436.7,60.2 437.8,58.1 439,56.3 440.6,60.2 442.1,57.4 443.3,58.9 444.4,60.2 445.6,58.4 446.8,56.3 448.3,59.4 449.5,59.5 450.7,59.4 451.8,57.7 453,55.6 454,54.2 455.1,53.6 456.1,52.4 457.1,52.5 458.2,52.4 459.2,52.8 460.3,54.9 461.3,56.2 462.3,58.4 463.5,59.4 464.7,60.2 465.7,60.9 466.7,61.4 467.8,61.8 468.8,63.3 469.9,64.7 470.9,66.4 471.9,68.3 473,69.6 474,71.1 474.9,71.3 475.9,71 476.8,71.2 477.7,71.3 478.7,71.1 479.6,69.9 480.6,68.9 481.6,67.6 482.6,66.4 483.7,64.7 484.9,62.6 485.9,61.7 487,60.6 488,59.4 489.2,59.8 490.3,60.2 491.9,57.9 493.1,59.5 494.2,61 495.4,59.2 496.6,57.4 497.6,56.7 498.6,56.1 499.7,55.6 500.7,55.4 501.7,55.4 502.8,55.6 503.8,55.2 504.9,54 505.9,53.7 507.1,55.3 508.2,57.1 509.4,56.2 510.6,54.8 511.7,55.7 512.9,56.3 513.9,56.9 515,57.7 516,58.4 516.9,58.3 517.9,57.9 518.8,57.7 519.7,57.8 520.7,57.4 521.6,57.5 522.5,56.9 523.5,56.6 524.4,56.3 525.3,56.3 526.2,56 527.1,56.2 528,56 528.9,55.7 529.8,55.8 530.7,55.8 531.6,55.6 532.4,55.7 533.3,55.7 534.1,55.5 535,55.8 535.9,55.3 536.7,55.3 537.6,55.7 538.5,55.5 539.3,55.6 540.3,55.5 541.2,54.8 542.1,54.9 543.1,54.6 544,54.3 544.8,54.4 545.7,54.4 546.5,54.2 547.4,54.3 548.2,54.2 549.1,54.2 549.9,54 550.8,54.2 551.6,54.3 552.5,54.2 553.3,54.3 554.4,54.2 555.4,53.5 556.4,53.2 557.3,53.2 558.1,53.3 559,53.5 559.8,53.3 560.7,53.5 561.5,53.3 562.4,53.1 563.2,53 564.1,53 564.9,53.5 565.8,53.2 566.6,53.4 567.5,52.8 568.3,53.2 569.2,52.6 570,52.6 570.9,52.8 571.7,52.3 572.6,52.5 573.4,52.3 574.3,52.4 575.1,52.1 576,52.3 576.8,51.7 577.7,52 578.6,51.9 579.4,51.6 580.3,51.4 581.2,51.7 582,51.2 582.9,51.2 583.7,50.9 584.6,51 585.4,51.4 586.2,51.5 587.1,51.1 587.9,51.2 588.8,51.1 589.6,51 590.4,51.2 591.3,51 592.1,51.3 592.9,51.4 593.8,51.2 594.7,50.8 595.6,50.7 596.4,50.8 597.3,50.3 598.2,50.3 599.1,50 600,50.1 600.8,50.4 601.6,50.1 602.4,49.9 603.2,50.4 604,50.2 604.8,50.2 605.6,49.9 606.5,50 607.3,50.3 608.1,50.1 608.9,50 609.7,49.9 610.5,50.2 611.3,49.9 612.1,50.2 612.9,50.4 613.7,50.4 614.5,50.1 615.3,50.1 616.1,50.3 616.9,50.1 617.7,50.1 618.6,50.3 619.4,50 620.2,50.4 621,50.2 621.8,50.1 622.8,49.8 623.9,49.7 624.9,49.3 625.7,49.1 626.5,49.3 627.4,49.6 628.2,49.1 629,49.5 629.9,49.1 630.7,49 631.5,49.4 632.4,49.3 633.2,49.6 634,49.5 634.8,49.5 635.7,49.1 636.5,49.2 637.3,49.3 638.4,49.4 639.4,49.8 640.4,50.1 641.4,50.5 642.3,50.2 643.2,50.3 644.2,50.7 645.1,50.9 646,50.6 646.9,51.2 647.8,51.1 648.7,50.6 649.6,51.2 650.4,50.7 651.3,50.9 652.3,50.7 653.2,50.7 654.1,50.9 655.1,50.5 656,50.6 656.8,50.7 657.7,50.4 658.5,50.3 659.4,50.2 660.2,50.3 661.1,50.1 661.9,50.3 662.8,50 663.6,49.8 664.5,49.9 665.3,49.6 666.4,49.9 667.4,50.2 668.4,50.1 669.5,50.1 670.5,49.8 671.6,49.6 672.6,49.2 673.6,48.4 674.7,48.1 675.6,48.2 676.4,48.1 677.3,48.1 678.2,48.6 679.1,48.6 680,48.6 680.9,48.6 682.1,48.9 683.2,49.3 684.1,49.2 685,49.2 685.9,49.6 686.9,49.3 687.8,49.5 688.7,49.3" fill="none" stroke="#ff0000" stroke-width="1" shape-rendering="crispEdges"/>
<polyline points="719,45.4 720.1,48.6 721.1,49.5 722.1,50.1 723,50.1 723.8,50.3 724.7,50.3 725.5,50.4 726.4,50.3 727.2,50.5 728.1,50.5 729,50.6 729.8,50.5 730.7,50.6 731.6,50.6 732.4,50.7 733.3,50.7 734.2,50.5 735.1,50.5 736,50.6 736.9,50.6 737.9,50.9 738.8,51.3 739.8,51.8 740.8,52.1 741.6,52 742.4,52.1 743.2,52.2 744,52.2 744.8,52.2 745.6,52.1 746.4,52.1 747.2,52.1 748,52.1 748.8,52 749.6,52.1 750.4,52 751.2,52.1 752,52 752.8,52 753.6,52.3 754.4,52 755.2,52.2 756,52.1 756.9,52.2 757.7,52.2 758.5,52.1 759.3,52.1 760.1,52 760.9,52.2 761.7,52.2 762.5,52.1 763.3,52.2 764.1,52 764.9,52.1 766.1,51.9 767.2,51.7 768.4,51.9 769.6,52.1 770.4,52.2 771.2,52.3 772,52.2 772.8,52.1 773.7,52.3 774.5,52 775.3,52.1 776.1,52.1 777,52.1 777.8,52.2 778.6,52 779.4,52.2 780.3,52.1 781.1,52.1 781.9,52 782.7,52 783.6,52.1 784.4,52 785.3,51.6 786.2,51.5 787.1,51.5 788,51.2" fill="none" stroke="#ff0000" stroke-width="1" shape-rendering="crispEdges"/>
<polyline points="97,292.5 99,292.5 101,294 107,294.5 110,295.5 118,295 122,294 130,294.5 135,293.5 142,294 143.5,294 145,290.5 148,290 150,292 153,294 157,295 163,294.5 166,293.5 174,294 176,296 180,296 190,296 195,296 196,292 198,290.5 203,290.5 206,288.5 208,289.5 213,289.5 216,292.5 220,292.5 222,295.5 227,296 229,295 232,294" fill="none" stroke="#000" stroke-width="2" shape-rendering="crispEdges"/>
<polyline points="394,296 400,296.3 410,296.5 420,297 437.5,297 438,293.8 451.5,293.8 452,287.5 454,287 454.5,274 455.5,267 456,254 457,240 458,237 459.3,237 460,245 461,246 461.5,267 461,278 463,283 464,287" fill="none" stroke="#000" stroke-width="2" shape-rendering="crispEdges"/>
<polyline points="487.5,287.5 488.5,283 490.5,278 492,275 492.5,287 493.5,275 494.5,287 495.5,276 496.5,287 497,280 498,277.5 499,282 501.5,282 501.8,253 503.5,253 504,266 505.5,268 505.5,276 504.5,280 506,287 510.5,287 511,293.5 513.5,294 515.6,296.5 530,296.5 550,296 560,295 575,294 580,293.3 592,290.8 604.4,289.6 616.7,288.4 629,287.6 638.7,288.4 646,289.6 653.3,288.4 660.7,287.1 668,286 675.4,283.5 682.7,283.5 688.8,282.3" fill="none" stroke="#000" stroke-width="2" shape-rendering="crispEdges"/>
<polyline points="97,416.8 97.7,415.9 98.3,415.2 98.9,416 99.5,417.5 100.1,416.9 100.7,417.6 101.2,416.8 101.8,416.2 102.4,414.4 103,414.4 103.6,415.4 104.2,416.7 104.8,418.1 105.3,418.3 105.9,414.9 106.4,413.2 106.9,411.3 107.5,414.2 108.1,419.1 108.8,419.4 109.4,418.6 110,417.6 110.5,414.5 111,415.2 111.6,412.1 112.2,416.4 112.8,418.3 113.4,417.4 114,416 114.7,414.4 115.2,414.3 115.8,414.7 116.4,416.9 117,417.6 117.6,415.8 118.2,415.6 118.8,415.1 119.3,415.2 119.9,414.3 120.4,415.8 120.9,416 121.4,417.4 121.9,416.8 122.4,417.5 123,417.4 123.5,418.1 124,418 124.5,417.7 125,417 125.6,418.6 126.1,418.4 126.6,417.8 127.1,417.2 127.6,416 128.1,415.5 128.7,416 129.2,415.8 129.7,415.6 130.2,417.7 130.7,417.1 131.3,418.6 131.8,418 132.3,417.5 132.9,418.9 133.4,418.4 134,416 134.6,416.4 135.1,418 135.7,416.8 136.2,417.3 136.8,419.2 137.4,418.3 138,419.1 138.6,417.4 139.2,418.3 139.8,418.1 140.3,416.8 141,417.7 141.6,418.8 142.2,421.4 143,409 143.9,398.1 144.5,397.5 145.2,398.5 145.8,397.3 146.4,397.7 146.9,396.2 147.5,396.2 148.1,396.6 148.6,399.4 149.1,402.9 149.7,407.4 150.4,401.2 151,402 151.6,401 152.2,401.9 152.8,402 153.3,402.9 153.8,403.5 154.3,405.1 154.9,405 155.5,403.2 156.1,403.6 156.7,402.8 157.2,402.2 157.7,402.9 158.2,402.7 158.7,402.9 159.3,404.5 159.8,404.3 160.3,403.5 160.8,404.8 161.3,403.6 161.9,404.1 162.4,405.2 162.9,404.6 163.4,404.8 163.9,403.6 164.4,405.3 165,403.6 165.5,403.6 166,404.5 166.5,403.5 167,403.3 167.6,403.6 168.1,402.6 168.6,402.5 169.1,403.4 169.6,402.6 170.1,403.2 170.7,402.6 171.2,402.6 171.7,403.5 172.2,402.5 172.7,402.8 173.3,403.3 173.8,404.3 174.3,403.3 174.8,403.6 175.3,404.6 175.9,405.4 176.4,405.2 176.9,404 177.4,403.8 177.9,404.9 178.4,404.3 179,406 179.6,405.3 180.2,407.6 180.8,407.4 181.3,409 181.8,409.2 182.3,409.8 182.8,409.6 183.3,408.9 183.8,408.7 184.3,410.4 184.8,408.9 185.4,409.8 185.9,408.8 186.4,409.9 186.9,409.4 187.4,408.7 187.9,408.4 188.4,409.4 188.9,408.1 189.4,408.3 189.9,408.9 190.4,409.5 190.9,408.7 191.5,407.8 192.1,406.1 192.6,406.3 193.2,404.3 193.8,399.9 194.3,396.6 194.8,418.3 195.3,418.4 195.8,419.9 196.3,421.4 196.9,408.5 197.4,395.8 198,396.1 198.7,398.1 199.2,398 199.7,398.9 200.2,399.8 200.7,399.4 201.3,400.4 201.8,401.2 202.3,401.2 202.8,400.6 203.3,399.2 203.9,398.5 204.4,397.5 204.9,396.6 205.5,395.6 206.1,395.1 206.8,395.8 207.3,395.6 207.8,398.2 208.3,398.5 208.8,399.8 209.3,398.7 209.8,400.7 210.3,401.2 210.8,400 211.3,399.3 211.8,397.4 212.4,396.6 213,399.4 213.6,399.3 214.2,402 214.7,402.7 215.3,403.8 215.8,404.7 216.3,405.1 216.8,405.6 217.3,405.9 217.9,405.9 218.5,405.6 219.1,403.8 219.7,403.6 220.2,405.7 220.7,408 221.2,409 221.7,409.7 222.2,408.8 222.7,409.6 223.2,409.7 223.7,409.1 224.2,409.2 224.7,408.8 225.2,409.2 225.7,409.2 226.2,408.2 226.7,409.3 227.2,410 227.7,409.8 228.2,409 228.8,408.7 229.4,407.2 230,407.1 230.6,405.9 231.1,404.8 231.6,403.2 232.1,402 232.6,404.2 233.1,404.3 233.7,406.7 234.2,407 234.8,405.3 235.4,406.3 236,405.9 236.5,403.5 237,400.7 237.6,398.9 238.1,399.1 238.7,398.5 239.3,398.5 239.9,398.1 240.5,400.1 241.1,400 241.6,400.6 242.2,402.8 242.7,403.4 243.3,405.2 243.8,405.9 244.4,403 245,401.2 245.6,402.9 246.1,405.9 246.7,404.8 247.2,402 247.7,402.4 248.2,402.1 248.7,403.1 249.2,402.5 249.7,412.1 250.3,411.4 250.9,411 251.6,410.2 252.1,410 252.6,410.2 253.1,410.5 253.6,410.5 254.1,410.5 254.7,410.2 255.2,410.3 255.7,410.1 256.2,410 256.7,410.2 257.3,410.5 257.8,410.5 258.3,410.4 258.8,410.6 259.3,410.1 259.9,410 260.4,410.2 260.9,410.1 261.4,410 261.9,410.2 262.4,410.2 263,410.4 263.5,410.3 264,410.2 264.5,410.6 265,410.8 265.6,410.4 266.1,410.2 266.6,410.2 267.1,410.8 267.6,410.3 268.1,410.8 268.7,410.7 269.2,410.6 269.7,410.9 270.2,410.4 270.7,410.5 271.3,410.8 271.8,410.9 272.3,410.6 272.8,411.2 273.3,410.8 273.9,410.8 274.4,410.8 274.9,411.2 275.4,411.1 275.9,411.3 276.4,411.4 277,411.5 277.5,411.7 278,411.5 278.5,411.2 279,411.5 279.6,411.3 280.1,411.2 280.6,411.6 281.1,411.8 281.6,411.5 282.1,411.6 282.7,411.8 283.2,411.7 283.7,411.9 284.2,411.8 284.7,411.9 285.2,412 285.7,411.7 286.2,412 286.7,412.1 287.2,411.5 287.7,412.1 288.2,412 288.7,411.5 289.2,411.8 289.7,411.9 290.2,412.1 290.7,411.7 291.2,411.8 291.7,412.1 292.2,412 292.7,412.1 293.2,411.8 293.7,411.9 294.2,411.6 294.7,412 295.2,412 295.7,411.9 296.2,412 296.7,411.6 297.2,412.1 297.7,412.1 298.2,411.8 298.7,412.2 299.2,411.9 299.7,412.1 300.2,411.8 300.8,412.2 301.3,412.2 301.8,411.9 302.3,411.8 302.8,412 303.3,412.1 303.8,412.3 304.3,412.2 304.8,411.9 305.3,412.5 305.8,412 306.3,412.5 306.8,412.1 307.3,412.2 307.8,412.6 308.3,412.4 308.8,412.1 309.4,412.1 309.9,412.4 310.4,412.5 310.9,412.5 311.4,412.4 311.9,412.6 312.4,412.2 312.9,412.5 313.4,411.9 313.9,412 314.4,412.2 314.9,412 315.5,412.2 316,412.2 316.5,412.1 317,412.3 317.5,412 318,411.8 318.5,411.9 319,412.2 319.5,412.2 320,411.7 320.5,412.1 321,412.2 321.6,411.8 322.1,411.8 322.6,411.9 323.1,411.6 323.6,411.9 324.1,411.9 324.7,412 325.2,411.6 325.7,412.2 326.2,411.9 326.7,411.9 327.3,412.2 327.8,412 328.3,412 328.8,412.1 329.3,411.7 329.9,412 330.4,412 330.9,412.4 331.4,412.3 331.9,411.9 332.4,412.1 333,411.8 333.5,412.1 334,412.1 334.5,412.5 335,412.7 335.6,412.5 336.1,412.5 336.6,412.5 337.1,412.9 337.6,412.8 338.1,412.9 338.7,412.2 339.2,412.5 339.7,411.9 340.2,411.9 340.7,411.8 341.3,411.9 341.8,411.6 342.3,411.4 342.8,411.5 343.3,411 343.9,411.3 344.4,410.7 344.9,410.9 345.4,411 345.9,410.9 346.4,411 347,411.3 347.5,411.3 348,411.4 348.5,411.5 349,411.7 349.6,411.8 350.1,411.3 350.7,411 351.2,411 351.8,410.7 352.3,410.4 352.9,410.3 353.4,409.8 353.9,409.8 354.4,410 354.9,409.5 355.4,409.8 355.9,409.8 356.4,409.9 356.9,409.4 357.4,409.4 357.9,409.8 358.4,409.2 358.9,409.8 359.4,409.6 359.9,409.1 360.4,409.3 361,409 361.5,409.3 362,408.8 362.5,408.6 363,409 363.6,408.7 364.1,408.9 364.7,409.4 365.3,409.2 365.9,409.8 366.5,409.5 367.1,409.5 367.6,408.9 368.2,409 368.7,408.8 369.3,409.1 369.8,409.2 370.3,409.2 370.8,408.6 371.3,408.9 371.9,409 372.4,408.8 372.9,408.9 373.4,408.6 373.9,408.5 374.4,408.5 375,408.4 375.5,408.7 376,408.7 376.5,408.6 377,408.5 377.6,408 378.1,407.9 378.6,407.8 379.1,408.1 379.6,408.1 380.1,407.9 380.7,407.4 381.2,407.4 381.8,407.6 382.3,408.4 382.9,408.3 383.4,408.7 384,408.7 384.6,409 385.1,408.6 385.6,408.2 386.1,407.8 386.6,407.5 387.1,406.7 387.7,406.7 388.2,407.1 388.7,407.4 389.2,407.2 389.7,407.7 390.3,408.1 390.8,408.2 391.3,408.3 391.8,408.5 392.3,409 392.9,408.7 393.4,408 394,408.3 394.6,407.9 395.1,407.5 395.7,407.3 396.2,406.7 396.8,406.4 397.3,405.8 397.9,405.6 398.4,405.2 399,405.1 399.6,404.6 400.1,404 400.6,404.1 401.1,404.7 401.7,404.8 402.2,405 402.7,405.3 403.2,405.2 403.7,405.8 404.3,405.9 404.8,405.9 405.3,405.7 405.9,405.4 406.4,405.1 407,404.5 407.6,404.4 408.1,403.6 408.7,403.6 409.2,403.4 409.7,403.4 410.2,403 410.7,403.1 411.3,403.2 411.8,403.1 412.3,402.8 412.8,403.2 413.3,402.8 413.9,402.7 414.4,402.2 414.9,402.3 415.4,402 415.9,401.8 416.4,401.5 417,401.7 417.5,401.2 418,400.9 418.5,400.9 419,400.7 419.6,400.7 420.1,399.9 420.6,400.1 421.1,400 421.6,399.5 422.1,399.5 422.7,399.4 423.2,398.9 423.7,398.9 424.2,398.9 424.7,398.5 425.3,398.5 425.8,398.8 426.3,398.4 426.8,398.3 427.3,398.1 427.9,397.9 428.4,397 428.9,396.7 429.4,395.9 429.9,395.5 430.4,394.7 431,393.1 431.6,392.6 432.2,391.7 432.8,390.3 433.3,389.3 433.8,389.8 434.3,388.4 434.9,388.2 435.4,387.3 435.9,387.2 436.5,386.2 437.1,385.4 437.6,383.8 438.2,383.3 438.7,383.1 439.3,381.7 439.8,381 440.3,380.1 440.8,379.3 441.3,378.1 441.9,377.1 442.4,376.6 442.9,375.6 443.5,375.4 444.1,374.9 444.6,375.2 445.2,374.8 445.8,373.2 446.4,371.5 447,370.4 447.6,369.3 448.1,367.7 448.6,366.8 449.1,366.2 449.7,369.3 450.4,371.7 450.9,369.5 451.4,368 451.9,365.4 452.5,367.6 453.2,368.5 453.8,370.9 454.3,369.1 454.8,366.8 455.3,363.9 456,367.3 456.6,371.7 457.1,370.6 457.6,368.5 458.1,367 458.8,370.1 459.4,373.8 460,376.3 460.5,375.8 461,375.8 461.6,375.6 462.1,377.8 462.7,379.3 463.3,380.8 463.9,382.6 464.4,384.7 464.9,386 465.4,387.3 466,388.3 466.5,390.5 467,391.9 467.5,396.9 468.1,402 468.7,401.3 469.3,401.2 470,402.7 470.6,405.2 471.2,407.1 471.7,404.7 472.2,403.1 472.8,401.2 473.3,400.6 473.8,399.5 474.3,398.4 474.8,397.8 475.3,399 475.8,400 476.3,401.2 477.1,396.6 477.9,405.9 478.7,384.1 479.2,383.1 479.7,381.6 480.2,380.2 480.8,376.2 481.5,370.9 482.1,373.2 482.7,374.8 483.3,376.3 483.9,377.9 484.5,379.6 485.1,382.4 485.7,383.8 486.2,381.7 486.7,379 487.2,376.3 487.7,370.5 488.2,364.8 488.7,359.6 489.2,353.8 489.9,352.6 490.5,351.3 491.1,349.9 491.7,357.8 492.4,365.4 493,346.8 493.5,342.4 494,337.1 494.5,332.8 495.2,337.9 495.8,343.7 496.3,348.4 496.8,352.5 497.3,356.1 497.9,360.7 498.4,363.9 498.9,368.6 499.4,371.1 499.9,374.5 500.4,377.9 501.1,384 501.7,390.3 502.2,396.7 502.8,402.8 503.3,399.7 503.8,397.6 504.3,395 504.9,392.5 505.5,390.6 506.1,389.4 506.7,387.2 507.2,386.9 507.8,386.6 508.4,385.9 508.9,385.6 509.5,384.9 510.1,384.9 510.6,385.1 511.2,386 511.8,386.5 512.3,386 512.9,386.9 513.4,386.6 513.9,387.5 514.4,387.4 515,387.6 515.5,387.1 516,387.5 516.5,387.6 517,387.7 517.6,388.5 518.1,388.2 518.6,388.8 519.1,389.4 519.6,388.8 520.1,389.2 520.7,389.6 521.2,389.9 521.7,389.8 522.2,389.9 522.7,389.9 523.3,390.7 523.8,390.6 524.3,390.5 524.8,390.6 525.3,391 525.9,391 526.4,391.3 526.9,391.1 527.4,391.6 527.9,391.2 528.4,391.4 529,391.8 529.5,391.5 530,391.8 530.5,392.2 531,392.2 531.6,392.2 532.1,392.2 532.6,392.3 533.1,392.6 533.6,393 534.1,392.9 534.7,392.9 535.2,393.5 535.7,393.6 536.2,394 536.7,394.2 537.3,394.3 537.8,394.1 538.3,394.6 538.8,394.4 539.3,394.7 539.9,394.5 540.4,394.4 540.9,394.7 541.4,394.6 541.9,394 542.4,394 543,393.9 543.5,393.8 544,393.8 544.5,393.9 545,394.1 545.6,394.2 546.1,394.6 546.6,395 547.1,395 547.6,395 548.1,395.2 548.7,395 549.2,394.7 549.7,395.1 550.2,395.1 550.7,394.7 551.3,394.5 551.8,394.8 552.3,394.8 552.8,394.8 553.3,394.7 553.9,394.8 554.4,394.4 554.9,394.3 555.4,393.6 555.9,393.7 556.4,393.4 556.9,393.6 557.5,393.2 558,393.2 558.5,393.6 559,393.7 559.5,393.2 560,393.5 560.5,393.2 561,393.6 561.5,393.5 562,393.3 562.5,393.2 563,393.6 563.5,393.5 564,393.6 564.5,393.4 565,393.3 565.5,393.8 566,393.6 566.5,393.4 567,393.5 567.5,393.6 568,393.6 568.5,393.7 569,393.4 569.5,393.7 570,393.6 570.5,393.7 571.1,393.7 571.6,393.7 572.1,393.7 572.6,393.8 573.1,393.5 573.6,393.5 574.1,393.6 574.6,393.7 575.1,393.4 575.6,393.4 576.1,393.2 576.6,393.6 577.1,393.8 577.6,393.4 578.1,393.2 578.6,393.2 579.1,393.4 579.6,393.3 580.1,393.8 580.6,393.1 581.1,393.3 581.6,393.2 582.1,393.5 582.6,393.6 583.1,393.2 583.6,393.1 584.1,393.4 584.7,393.5 585.2,393.7 585.7,393.1 586.2,393.2 586.7,393.2 587.2,393.2 587.7,393.3 588.2,393.6 588.7,393.5 589.2,393.3 589.7,393.2 590.2,393.3 590.7,393.2 591.2,393.6 591.7,393.3 592.2,393.5 592.7,393.7 593.2,393.4 593.7,393.3 594.2,393.7 594.7,393.7 595.2,393.3 595.7,393.5 596.2,393.8 596.7,393.4 597.2,393.2 597.7,393.1 598.3,393.8 598.8,393.7 599.3,393.4 599.8,393.5 600.3,393.5 600.8,393.3 601.3,393.8 601.8,393.6 602.3,393.3 602.8,393.1 603.3,393.4 603.8,393.4 604.3,393.7 604.8,393.6 605.3,393.5 605.8,393.2 606.3,393.2 606.8,393.3 607.3,393.3 607.8,393.7 608.3,393.5 608.8,393.5 609.3,393.4 609.9,393.9 610.4,393.4 610.9,393.7 611.4,393.5 611.9,394 612.4,393.6 613,394.3 613.5,394.4 614,394.4 614.5,394 615,394.2 615.6,394.6 616.1,394.2 616.6,394.6 617.1,394.7 617.6,394.6 618.1,394.8 618.7,394.5 619.2,394.6 619.7,394.1 620.2,394.4 620.7,394.1 621.3,394.3 621.8,393.7 622.3,394.1 622.8,393.6 623.3,393.7 623.9,393.6 624.4,393.3 624.9,393.4 625.4,393.7 625.9,393.3 626.4,393.4 627,393.2 627.5,393.4 628,393.5 628.5,393.7 629,393.5 629.6,393.7 630.1,393.3 630.6,393.6 631.1,393.6 631.6,394 632.1,393.9 632.7,393.8 633.2,393.4 633.7,393.7 634.2,393.8 634.7,394 635.3,393.8 635.8,394.2 636.3,394.2 636.8,394.1 637.3,394.9 637.9,394.9 638.4,394.6 638.9,395 639.4,394.9 639.9,395.1 640.4,395.3 641,395.5 641.5,395.5 642,395.7 642.5,395.9 643,396.2 643.6,396.2 644.1,396 644.6,395.9 645.1,396.2 645.6,395.8 646.1,396.2 646.7,395.8 647.2,395.9 647.7,395.5 648.2,395.8 648.7,395.2 649.3,395.1 649.8,395.3 650.3,395.1 650.8,395.5 651.3,395.6 651.9,395.2 652.4,395.4 652.9,395.8 653.4,395.6 653.9,395.3 654.4,395.5 655,395.5 655.5,395.5 656,395.8 656.5,395.7 657,395.4 657.6,395.9 658.1,395.5 658.6,395.5 659.1,395.6 659.6,395.6 660.1,395.6 660.7,395.2 661.2,395.1 661.7,395.1 662.2,394.8 662.7,395 663.3,395.2 663.8,395 664.3,395.4 664.8,395.3 665.3,395.3 665.9,395.3 666.4,394.9 666.9,395.2 667.4,395.3 667.9,395.5 668.4,395.2 669,395.4 669.5,395.6 670,395.8 670.5,395.9 671,395.8 671.6,395.8 672.1,394.9 672.7,394.6 673.3,394.1 673.9,393.1 674.4,393.3 675,393.2 675.5,393.5 676.1,393.3 676.6,393.8 677.2,394.1 677.7,393.9 678.2,394.2 678.8,394.3 679.3,394.2 679.9,394 680.4,394.6 680.9,394.4 681.4,394.1 681.9,394.1 682.4,394.2 683,394.5 683.5,394.6 684,394.4 684.5,394.8 685,394.5 685.6,394.6 686.1,394.4 686.6,395 687.1,394.7 687.6,394.4 688.1,394.8 688.7,394.5 689.2,394.4 689.7,394.3 690.2,394 690.7,394.4 691.3,394.4 691.8,394.2 692.3,393.9 692.8,393.5 693.3,393.9 693.9,393.5 694.4,393.8 694.9,393.4 695.5,393.8 696.1,394.7 696.6,395.4 697.2,395.8 697.7,395.6 698.2,395.8 698.8,395.5 699.3,395.5 699.8,395.6 700.3,396.1 700.8,396.1 701.3,395.9 701.8,395.6 702.3,395.9 702.8,395.9 703.3,395.7 703.9,395.8 704.4,396 704.9,395.4 705.4,395.6 705.9,395.8 706.4,395.5 706.9,395.7 707.4,395.8 707.9,395.5 708.5,395.8 709,395.6 709.5,395.8 710,395.7 710.5,395.9 711,395.5 711.5,395.9 712,395.5 712.5,396.1 713,395.8 713.6,395.8 714.3,395.8 714.5,418.3 714.8,395.8 715.3,395.8 715.8,395.7 716.4,395.9 716.9,395.9 717.4,396 718,396 718.5,395.8 719,395.8 719.5,418 720,418.4 720.5,418.3 721,418.3 721.5,418.1 722,418.1 722.5,418.2 723,418.5 723.5,418.2 724,418.3 724.5,418.2 725,418.6 725.5,418.2 726,418.3 726.5,418 727,418.5 727.5,418.7 728,418.6 728.5,418.5 729,418.7 729.5,418.4 730,418.6 730.5,418.3 731,418.3 731.5,418.6 732,418.6 732.5,418.6 733,418.4 733.5,418.8 734,418.8 734.5,418.6 735,418.6 735.5,418.7 736,418.7 736.5,418.6 737,419.2 737.5,419.2 738,419.1 738.5,419.2 739,418.9 739.5,419.2 740.1,418.8 740.6,419.2 741.1,419.1 741.6,419.1 742.1,419.4 742.6,418.9 743.1,419.4 743.6,418.9 744.1,419.3 744.6,419.6 745.1,418.9 745.6,419.1 746.1,419.2 746.6,419.2 747.1,419.1 747.6,419.7 748.1,419.7 748.6,419.4 749.1,419.4 749.6,419.6 750.1,419.2 750.6,419.2 751.1,419.9 751.6,419.5 752.1,419.6 752.6,420 753.1,420 753.6,419.7 754.1,419.5 754.6,419.6 755.1,420.1 755.6,420.1 756.1,419.6 756.6,420.1 757.1,419.9 757.6,419.8 758.1,419.9 758.6,419.7 759.1,420.2 759.6,420.3 760.2,419.8 760.7,420.1 761.2,419.8 761.7,420.3 762.2,419.7 762.7,419.8 763.2,420.2 763.7,420 764.2,420.4 764.7,420.4 765.2,420.3 765.7,419.9 766.2,420.3 766.7,420.5 767.3,420.2 767.8,419.9 768.3,420.1 768.8,420.1 769.3,420.4 769.8,420.1 770.3,420.1 770.8,420.2 771.3,420.5 771.8,420.6 772.3,420.3 772.8,420.5 773.3,420.7 773.9,420.5 774.4,420.3 774.9,420.3 775.4,420.8 775.9,420.6 776.4,420.4 776.9,420.6 777.4,420.3 777.9,420.9 778.4,420.6 778.9,420.6 779.4,420.7 779.9,420.3 780.4,420.7 780.9,420.8 781.5,420.6 782,420.6 782.5,421 783,420.5 783.5,420.7 784,421.1 784.5,420.7 785,420.8 785.5,421 786,420.8 786.5,421.3 787,421.4 787.5,420.8 788,421.1" fill="none" stroke="#000" stroke-width="1" shape-rendering="crispEdges"/>
<polyline points="97,417.7 97.7,416.8 98.3,416.1 98.9,416.9 99.5,418.4 100.1,417.8 100.7,418.5 101.2,417.7 101.8,417.1 102.4,415.3 103,415.3 103.6,416.3 104.2,417.6 104.8,419 105.3,419.2 105.9,415.8 106.4,414.1 106.9,412.2 107.5,415.1 108.1,420 108.8,420.3 109.4,419.5 110,418.5 110.5,415.4 111,416.1 111.6,413 112.2,417.3 112.8,419.2 113.4,418.3 114,416.9 114.7,415.3 115.2,415.2 115.8,415.6 116.4,417.8 117,418.5 117.6,416.7 118.2,416.5 118.8,416 119.3,416.1 119.9,415.2 120.4,416.7 120.9,416.9 121.4,418.3 121.9,417.7 122.4,418.4 123,418.3 123.5,419 124,418.9 124.5,418.6 125,417.9 125.6,419.5 126.1,419.3 126.6,418.7 127.1,418.1 127.6,416.9 128.1,416.4 128.7,416.9 129.2,416.7 129.7,416.5 130.2,418.6 130.7,418 131.3,419.5 131.8,418.9 132.3,418.4 132.9,419.8 133.4,419.3 134,416.9 134.6,417.3 135.1,418.9 135.7,417.7 136.2,418.2 136.8,420.1 137.4,419.2 138,420 138.6,418.3 139.2,419.2 139.8,419 140.3,417.7 141,418.6 141.6,419.7 142.2,422.3 143,409.9 143.9,399 144.5,398.4 145.2,399.4 145.8,398.2 146.4,398.6 146.9,397.1 147.5,397.1 148.1,397.5 148.6,400.3 149.1,403.8 149.7,408.3 150.4,402.1 151,402.9 151.6,401.9 152.2,402.8 152.8,402.9 153.3,403.8 153.8,404.4 154.3,406 154.9,405.9 155.5,404.1 156.1,404.5 156.7,403.7 157.2,403.1 157.7,403.8 158.2,403.6 158.7,403.8 159.3,405.4 159.8,405.2 160.3,404.4 160.8,405.7 161.3,404.5 161.9,405 162.4,406.1 162.9,405.5 163.4,405.7 163.9,404.5 164.4,406.2 165,404.5 165.5,404.5 166,405.4 166.5,404.4 167,404.2 167.6,404.5 168.1,403.5 168.6,403.4 169.1,404.3 169.6,403.5 170.1,404.1 170.7,403.5 171.2,403.5 171.7,404.4 172.2,403.4 172.7,403.7 173.3,404.2 173.8,405.2 174.3,404.2 174.8,404.5 175.3,405.5 175.9,406.3 176.4,406.1 176.9,404.9 177.4,404.7 177.9,405.8 178.4,405.2 179,406.9 179.6,406.2 180.2,408.5 180.8,408.3 181.3,409.9 181.8,410.1 182.3,410.7 182.8,410.5 183.3,409.8 183.8,409.6 184.3,411.3 184.8,409.8 185.4,410.7 185.9,409.7 186.4,410.8 186.9,410.3 187.4,409.6 187.9,409.3 188.4,410.3 188.9,409 189.4,409.2 189.9,409.8 190.4,410.4 190.9,409.6 191.5,408.7 192.1,407 192.6,407.2 193.2,405.2 193.8,400.8 194.3,397.5 194.8,419.2 195.3,419.3 195.8,420.8 196.3,422.3 196.9,409.4 197.4,396.7 198,397 198.7,399 199.2,398.9 199.7,399.8 200.2,400.7 200.7,400.3 201.3,401.3 201.8,402.1 202.3,402.1 202.8,401.5 203.3,400.1 203.9,399.4 204.4,398.4 204.9,397.5 205.5,396.5 206.1,396 206.8,396.7 207.3,396.5 207.8,399.1 208.3,399.4 208.8,400.7 209.3,399.6 209.8,401.6 210.3,402.1 210.8,400.9 211.3,400.2 211.8,398.3 212.4,397.5 213,400.3 213.6,400.2 214.2,402.9 214.7,403.6 215.3,404.7 215.8,405.6 216.3,406 216.8,406.5 217.3,406.8 217.9,406.8 218.5,406.5 219.1,404.7 219.7,404.5 220.2,406.6 220.7,408.9 221.2,409.9 221.7,410.6 222.2,409.7 222.7,410.5 223.2,410.6 223.7,410 224.2,410.1 224.7,409.7 225.2,410.1 225.7,410.1 226.2,409.1 226.7,410.2 227.2,410.9 227.7,410.7 228.2,409.9 228.8,409.6 229.4,408.1 230,408 230.6,406.8 231.1,405.7 231.6,404.1 232.1,402.9 232.6,405.1 233.1,405.2 233.7,407.6 234.2,407.9 234.8,406.2 235.4,407.2 236,406.8 236.5,404.4 237,401.6 237.6,399.8 238.1,400 238.7,399.4 239.3,399.4 239.9,399 240.5,401 241.1,400.9 241.6,401.5 242.2,403.7 242.7,404.3 243.3,406.1 243.8,406.8 244.4,403.9 245,402.1 245.6,403.8 246.1,406.8 246.7,405.7 247.2,402.9 247.7,403.3 248.2,403 248.7,404 249.2,403.4 249.7,413 250.3,412.3 250.9,411.9 251.6,411.1 252.1,410.9 252.6,411.1 253.1,411.4 253.6,411.4 254.1,411.4 254.7,411.1 255.2,411.2 255.7,411 256.2,410.9 256.7,411.1 257.3,411.4 257.8,411.4 258.3,411.3 258.8,411.5 259.3,411 259.9,410.9 260.4,411.1 260.9,411 261.4,410.9 261.9,411.1 262.4,411.1 263,411.3 263.5,411.2 264,411.1 264.5,411.5 265,411.7 265.6,411.3 266.1,411.1 266.6,411.1 267.1,411.7 267.6,411.2 268.1,411.7 268.7,411.6 269.2,411.5 269.7,411.8 270.2,411.3 270.7,411.4 271.3,411.7 271.8,411.8 272.3,411.5 272.8,412.1 273.3,411.7 273.9,411.7 274.4,411.7 274.9,412.1 275.4,412 275.9,412.2 276.4,412.3 277,412.4 277.5,412.6 278,412.4 278.5,412.1 279,412.4 279.6,412.2 280.1,412.1 280.6,412.5 281.1,412.7 281.6,412.4 282.1,412.5 282.7,412.7 283.2,412.6 283.7,412.8 284.2,412.7 284.7,412.8 285.2,412.9 285.7,412.6 286.2,412.9 286.7,413 287.2,412.4 287.7,413 288.2,412.9 288.7,412.4 289.2,412.7 289.7,412.8 290.2,413 290.7,412.6 291.2,412.7 291.7,413 292.2,412.9 292.7,413 293.2,412.7 293.7,412.8 294.2,412.5 294.7,412.9 295.2,412.9 295.7,412.8 296.2,412.9 296.7,412.5 297.2,413 297.7,413 298.2,412.7 298.7,413.1 299.2,412.8 299.7,413 300.2,412.7 300.8,413.1 301.3,413.1 301.8,412.8 302.3,412.7 302.8,412.9 303.3,413 303.8,413.2 304.3,413.1 304.8,412.8 305.3,413.4 305.8,412.9 306.3,413.4 306.8,413 307.3,413.1 307.8,413.5 308.3,413.3 308.8,413 309.4,413 309.9,413.3 310.4,413.4 310.9,413.4 311.4,413.3 311.9,413.5 312.4,413.1 312.9,413.4 313.4,412.8 313.9,412.9 314.4,413.1 314.9,412.9 315.5,413.1 316,413.1 316.5,413 317,413.2 317.5,412.9 318,412.7 318.5,412.8 319,413.1 319.5,413.1 320,412.6 320.5,413 321,413.1 321.6,412.7 322.1,412.7 322.6,412.8 323.1,412.5 323.6,412.8 324.1,412.8 324.7,412.9 325.2,412.5 325.7,413.1 326.2,412.8 326.7,412.8 327.3,413.1 327.8,412.9 328.3,412.9 328.8,413 329.3,412.6 329.9,412.9 330.4,412.9 330.9,413.3 331.4,413.2 331.9,412.8 332.4,413 333,412.7 333.5,413 334,413 334.5,413.4 335,413.6 335.6,413.4 336.1,413.4 336.6,413.4 337.1,413.8 337.6,413.7 338.1,413.8 338.7,413.1 339.2,413.4 339.7,412.8 340.2,412.8 340.7,412.7 341.3,412.8 341.8,412.5 342.3,412.3 342.8,412.4 343.3,411.9 343.9,412.2 344.4,411.6 344.9,411.8 345.4,411.9 345.9,411.8 346.4,411.9 347,412.2 347.5,412.2 348,412.3 348.5,412.4 349,412.6 349.6,412.7 350.1,412.2 350.7,411.9 351.2,411.9 351.8,411.6 352.3,411.3 352.9,411.2 353.4,410.7 353.9,410.7 354.4,410.9 354.9,410.4 355.4,410.7 355.9,410.7 356.4,410.8 356.9,410.3 357.4,410.3 357.9,410.7 358.4,410.1 358.9,410.7 359.4,410.5 359.9,410 360.4,410.2 361,409.9 361.5,410.2 362,409.7 362.5,409.5 363,409.9 363.6,409.6 364.1,409.8 364.7,410.3 365.3,410.1 365.9,410.7 366.5,410.4 367.1,410.4 367.6,409.8 368.2,409.9 368.7,409.7 369.3,410 369.8,410.1 370.3,410.1 370.8,409.5 371.3,409.8 371.9,409.9 372.4,409.7 372.9,409.8 373.4,409.5 373.9,409.4 374.4,409.4 375,409.3 375.5,409.6 376,409.6 376.5,409.5 377,409.4 377.6,408.9 378.1,408.8 378.6,408.7 379.1,409 379.6,409 380.1,408.8 380.7,408.3 381.2,408.3 381.8,408.5 382.3,409.3 382.9,409.2 383.4,409.6 384,409.6 384.6,409.9 385.1,409.5 385.6,409.1 386.1,408.7 386.6,408.4 387.1,407.6 387.7,407.6 388.2,408 388.7,408.3 389.2,408.1 389.7,408.6 390.3,409 390.8,409.1 391.3,409.2 391.8,409.4 392.3,409.9 392.9,409.6 393.4,408.9 394,409.2 394.6,408.8 395.1,408.4 395.7,408.2 396.2,407.6 396.8,407.3 397.3,406.7 397.9,406.5 398.4,406.1 399,406 399.6,405.5 400.1,404.9 400.6,405 401.1,405.6 401.7,405.7 402.2,405.9 402.7,406.2 403.2,406.1 403.7,406.7 404.3,406.8 404.8,406.8 405.3,406.6 405.9,406.3 406.4,406 407,405.4 407.6,405.3 408.1,404.5 408.7,404.5 409.2,404.3 409.7,404.3 410.2,403.9 410.7,404 411.3,404.1 411.8,404 412.3,403.7 412.8,404.1 413.3,403.7 413.9,403.6 414.4,403.1 414.9,403.2 415.4,402.9 415.9,402.7 416.4,402.4 417,402.6 417.5,402.1 418,401.8 418.5,401.8 419,401.6 419.6,401.6 420.1,400.8 420.6,401 421.1,400.9 421.6,400.4 422.1,400.4 422.7,400.3 423.2,399.8 423.7,399.8 424.2,399.8 424.7,399.4 425.3,399.4 425.8,399.7 426.3,399.3 426.8,399.2 427.3,399 427.9,398.8 428.4,397.9 428.9,397.6 429.4,396.8 429.9,396.4 430.4,395.6 431,394 431.6,393.5 432.2,392.6 432.8,391.2 433.3,390.2 433.8,390.7 434.3,389.3 434.9,389.1 435.4,388.2 435.9,388.1 436.5,387.1 437.1,386.3 437.6,384.7 438.2,384.2 438.7,384 439.3,382.6 439.8,381.9 440.3,381 440.8,380.2 441.3,379 441.9,378 442.4,377.5 442.9,376.5 443.5,376.3 444.1,375.8 444.6,376.1 445.2,375.7 445.8,374.1 446.4,372.4 447,371.3 447.6,370.2 448.1,368.6 448.6,367.7 449.1,367.1 449.7,370.2 450.4,372.6 450.9,370.4 451.4,368.9 451.9,366.3 452.5,368.5 453.2,369.4 453.8,371.8 454.3,370 454.8,367.7 455.3,364.8 456,368.2 456.6,372.6 457.1,371.5 457.6,369.4 458.1,367.9 458.8,371 459.4,374.7 460,377.2 460.5,376.7 461,376.7 461.6,376.5 462.1,378.7 462.7,380.2 463.3,381.7 463.9,383.5 464.4,385.6 464.9,386.9 465.4,388.2 466,389.2 466.5,391.4 467,392.8 467.5,397.8 468.1,402.9 468.7,402.2 469.3,402.1 470,403.6 470.6,406.1 471.2,408 471.7,405.6 472.2,404 472.8,402.1 473.3,401.5 473.8,400.4 474.3,399.3 474.8,398.7 475.3,399.9 475.8,400.9 476.3,402.1 477.1,397.5 477.9,406.8 478.7,385 479.2,384 479.7,382.5 480.2,381.1 480.8,377.1 481.5,371.8 482.1,374.1 482.7,375.7 483.3,377.2 483.9,378.8 484.5,380.5 485.1,383.3 485.7,384.7 486.2,382.6 486.7,379.9 487.2,377.2 487.7,371.4 488.2,365.7 488.7,360.5 489.2,354.7 489.9,353.5 490.5,352.2 491.1,350.8 491.7,358.7 492.4,366.3 493,347.7 493.5,343.3 494,338 494.5,333.7 495.2,338.8 495.8,344.6 496.3,349.3 496.8,353.4 497.3,357 497.9,361.6 498.4,364.8 498.9,369.5 499.4,372 499.9,375.4 500.4,378.8 501.1,384.9 501.7,391.2 502.2,397.6 502.8,403.7 503.3,400.6 503.8,398.5 504.3,395.9 504.9,393.4 505.5,391.5 506.1,390.3 506.7,388.1 507.2,387.8 507.8,387.5 508.4,386.8 508.9,386.5 509.5,385.8 510.1,385.8 510.6,386 511.2,386.9 511.8,387.4 512.3,386.9 512.9,387.8 513.4,387.5 513.9,388.4 514.4,388.3 515,388.5 515.5,388 516,388.4 516.5,388.5 517,388.6 517.6,389.4 518.1,389.1 518.6,389.7 519.1,390.3 519.6,389.7 520.1,390.1 520.7,390.5 521.2,390.8 521.7,390.7 522.2,390.8 522.7,390.8 523.3,391.6 523.8,391.5 524.3,391.4 524.8,391.5 525.3,391.9 525.9,391.9 526.4,392.2 526.9,392 527.4,392.5 527.9,392.1 528.4,392.3 529,392.7 529.5,392.4 530,392.7 530.5,393.1 531,393.1 531.6,393.1 532.1,393.1 532.6,393.2 533.1,393.5 533.6,393.9 534.1,393.8 534.7,393.8 535.2,394.4 535.7,394.5 536.2,394.9 536.7,395.1 537.3,395.2 537.8,395 538.3,395.5 538.8,395.3 539.3,395.6 539.9,395.4 540.4,395.3 540.9,395.6 541.4,395.5 541.9,394.9 542.4,394.9 543,394.8 543.5,394.7 544,394.7 544.5,394.8 545,395 545.6,395.1 546.1,395.5 546.6,395.9 547.1,395.9 547.6,395.9 548.1,396.1 548.7,395.9 549.2,395.6 549.7,396 550.2,396 550.7,395.6 551.3,395.4 551.8,395.7 552.3,395.7 552.8,395.7 553.3,395.6 553.9,395.7 554.4,395.3 554.9,395.2 555.4,394.5 555.9,394.6 556.4,394.3 556.9,394.5 557.5,394.1 558,394.1 558.5,394.5 559,394.6 559.5,394.1 560,394.4 560.5,394.1 561,394.5 561.5,394.4 562,394.2 562.5,394.1 563,394.5 563.5,394.4 564,394.5 564.5,394.3 565,394.2 565.5,394.7 566,394.5 566.5,394.3 567,394.4 567.5,394.5 568,394.5 568.5,394.6 569,394.3 569.5,394.6 570,394.5 570.5,394.6 571.1,394.6 571.6,394.6 572.1,394.6 572.6,394.7 573.1,394.4 573.6,394.4 574.1,394.5 574.6,394.6 575.1,394.3 575.6,394.3 576.1,394.1 576.6,394.5 577.1,394.7 577.6,394.3 578.1,394.1 578.6,394.1 579.1,394.3 579.6,394.2 580.1,394.7 580.6,394 581.1,394.2 581.6,394.1 582.1,394.4 582.6,394.5 583.1,394.1 583.6,394 584.1,394.3 584.7,394.4 585.2,394.6 585.7,394 586.2,394.1 586.7,394.1 587.2,394.1 587.7,394.2 588.2,394.5 588.7,394.4 589.2,394.2 589.7,394.1 590.2,394.2 590.7,394.1 591.2,394.5 591.7,394.2 592.2,394.4 592.7,394.6 593.2,394.3 593.7,394.2 594.2,394.6 594.7,394.6 595.2,394.2 595.7,394.4 596.2,394.7 596.7,394.3 597.2,394.1 597.7,394 598.3,394.7 598.8,394.6 599.3,394.3 599.8,394.4 600.3,394.4 600.8,394.2 601.3,394.7 601.8,394.5 602.3,394.2 602.8,394 603.3,394.3 603.8,394.3 604.3,394.6 604.8,394.5 605.3,394.4 605.8,394.1 606.3,394.1 606.8,394.2 607.3,394.2 607.8,394.6 608.3,394.4 608.8,394.4 609.3,394.3 609.9,394.8 610.4,394.3 610.9,394.6 611.4,394.4 611.9,394.9 612.4,394.5 613,395.2 613.5,395.3 614,395.3 614.5,394.9 615,395.1 615.6,395.5 616.1,395.1 616.6,395.5 617.1,395.6 617.6,395.5 618.1,395.7 618.7,395.4 619.2,395.5 619.7,395 620.2,395.3 620.7,395 621.3,395.2 621.8,394.6 622.3,395 622.8,394.5 623.3,394.6 623.9,394.5 624.4,394.2 624.9,394.3 625.4,394.6 625.9,394.2 626.4,394.3 627,394.1 627.5,394.3 628,394.4 628.5,394.6 629,394.4 629.6,394.6 630.1,394.2 630.6,394.5 631.1,394.5 631.6,394.9 632.1,394.8 632.7,394.7 633.2,394.3 633.7,394.6 634.2,394.7 634.7,394.9 635.3,394.7 635.8,395.1 636.3,395.1 636.8,395 637.3,395.8 637.9,395.8 638.4,395.5 638.9,395.9 639.4,395.8 639.9,396 640.4,396.2 641,396.4 641.5,396.4 642,396.6 642.5,396.8 643,397.1 643.6,397.1 644.1,396.9 644.6,396.8 645.1,397.1 645.6,396.7 646.1,397.1 646.7,396.7 647.2,396.8 647.7,396.4 648.2,396.7 648.7,396.1 649.3,396 649.8,396.2 650.3,396 650.8,396.4 651.3,396.5 651.9,396.1 652.4,396.3 652.9,396.7 653.4,396.5 653.9,396.2 654.4,396.4 655,396.4 655.5,396.4 656,396.7 656.5,396.6 657,396.3 657.6,396.8 658.1,396.4 658.6,396.4 659.1,396.5 659.6,396.5 660.1,396.5 660.7,396.1 661.2,396 661.7,396 662.2,395.7 662.7,395.9 663.3,396.1 663.8,395.9 664.3,396.3 664.8,396.2 665.3,396.2 665.9,396.2 666.4,395.8 666.9,396.1 667.4,396.2 667.9,396.4 668.4,396.1 669,396.3 669.5,396.5 670,396.7 670.5,396.8 671,396.7 671.6,396.7 672.1,395.8 672.7,395.5 673.3,395 673.9,394 674.4,394.2 675,394.1 675.5,394.4 676.1,394.2 676.6,394.7 677.2,395 677.7,394.8 678.2,395.1 678.8,395.2 679.3,395.1 679.9,394.9 680.4,395.5 680.9,395.3 681.4,395 681.9,395 682.4,395.1 683,395.4 683.5,395.5 684,395.3 684.5,395.7 685,395.4 685.6,395.5 686.1,395.3 686.6,395.9 687.1,395.6 687.6,395.3 688.1,395.7 688.7,395.4 689.2,395.3 689.7,395.2 690.2,394.9 690.7,395.3 691.3,395.3 691.8,395.1 692.3,394.8 692.8,394.4 693.3,394.8 693.9,394.4 694.4,394.7 694.9,394.3 695.5,394.7 696.1,395.6 696.6,396.3 697.2,396.7 697.7,396.5 698.2,396.7 698.8,396.4 699.3,396.4 699.8,396.5 700.3,397 700.8,397 701.3,396.8 701.8,396.5 702.3,396.8 702.8,396.8 703.3,396.6 703.9,396.7 704.4,396.9 704.9,396.3 705.4,396.5 705.9,396.7 706.4,396.4 706.9,396.6 707.4,396.7 707.9,396.4 708.5,396.7 709,396.5 709.5,396.7 710,396.6 710.5,396.8 711,396.4 711.5,396.8 712,396.4 712.5,397 713,396.7 713.6,396.7 714.3,396.7 714.5,419.2 714.8,396.7 715.3,396.7 715.8,396.6 716.4,396.8 716.9,396.8 717.4,396.9 718,396.9 718.5,396.7 719,396.7 719.5,418.9 720,419.3" fill="none" stroke="#000" stroke-width="1" shape-rendering="crispEdges"/>
<polyline points="96.5,504.7 97,512.7 97.5,499.3 98,512.2 98.2,507.7 98.3,489.7 98.4,507.7 98.5,494.6 99,511.7 99.5,501 99.8,511.9 99.9,504.4 100,511.9 100,512.9 100.5,505.2 101,513.3 101.5,506.2 102,514.2 102.5,508 102.9,513.2 103,507.6 103.1,513.2 103,513.4 103.5,503.9 104,512.9 104.5,498.8 105,508.6 105.2,507.6 105.3,488.9 105.4,507.6 105.5,494.1 106,510.2 106.5,502.8 106.8,509.1 106.9,502.9 107,509.1 107,510.6 107.5,502.4 108,509.9 108.3,507.4 108.4,494.3 108.5,507.4 108.5,495.2 109,510.1 109.5,498 110,508.2 110.5,499.7 110.7,507.9 110.8,499.8 110.9,507.9 111,509.1 111.5,503.1 112,511 112.2,510.4 112.3,502.9 112.4,510.4 112.5,503.8 113,511.6 113.5,497.7 114,510.5 114.5,496.5 114.6,506.9 114.7,492 114.8,506.9 115,509.4 115.5,498.3 116,510 116.1,509.4 116.2,501.3 116.3,509.4 116.5,502.1 117,510.5 117.5,501 118,508.9 118.5,496.4 118.5,507.6 118.6,495.1 118.7,507.6 119,509.2 119.5,501.3 120,509.5 120.5,505.7 120.8,510.4 120.9,506 121,510.4 121,511.1 121.5,506 122,511.2 122.5,501.4 122.7,509 122.8,499 122.9,509 123,509.8 123.5,502.6 124,511.2 124.5,506.4 124.7,511.3 124.8,507.6 124.9,511.3 125,511.4 125.5,506.5 126,510.8 126.5,504 127,510.7 127,509 127.1,499 127.2,509 127.5,502.8 128,510.9 128.5,505.5 129,512.1 129.3,511.9 129.4,507.6 129.5,511.9 129.5,509 130,512.2 130.5,509.1 131,512.9 131.5,509.2 132,513.3 132.5,510.7 132.5,513.2 132.6,509.9 132.7,513.2 133,512.9 133.5,508.9 134,513.1 134.5,505.7 135,511.8 135.1,511 135.2,502.9 135.3,511 135.5,503.7 136,512.3 136.5,506.5 137,512.9 137.5,508.7 137.9,512.4 138,509.9 138.1,512.4 138,512.5 138.5,509.8 139,512.3 139.5,509.5 140,511.5 140.5,508.7 141,511.2 141,510.8 141.1,508.3 141.2,510.8 141.5,497.8 142,504.1 142.1,501.6 142.2,471.8 142.3,501.6 142.5,477.6 143,485.2 143,481.7 143.1,465.6 143.2,481.7 143.5,467.2 144,486.7 144.5,467.5 144.4,485.3 144.5,464.8 144.6,485.3 145,488.6 145.4,490.8 145.5,473.3 145.6,490.8 145.5,479.5 146,492.7 146.5,471 147,489 147.2,484.5 147.3,467.1 147.4,484.5 147.5,468.5 148,485.2 148.5,469.8 148.5,481.9 148.6,466.3 148.7,481.9 149,483.8 149.5,461.1 149.6,478.8 149.7,460.1 149.8,478.8 150,489.4 150.3,497.8 150.4,483.4 150.5,497.8 150.5,485.7 151,499.7 151.5,493.5 151.9,499.8 152,493.6 152.1,499.8 152,500.3 152.5,494.2 153,500.6 153.5,493.5 153.5,499.9 153.6,491.2 153.7,499.9 154,502.3 154.5,495.2 155,501.6 155.5,496.3 156,502.4 156.5,496 156.6,502.6 156.7,495.1 156.8,502.6 157,503.7 157.5,495.4 158,503.3 158.5,495.3 159,504.3 159.5,495.7 159.7,502.6 159.8,495.1 159.9,502.6 160,504.1 160.5,496.1 161,504.3 161.5,495.1 162,504.2 162.5,495.4 162.8,502.6 162.9,495.1 163,502.6 163,503.7 163.5,494.2 164,502.3 164.5,494.7 165,503.6 165.5,491.9 166,502.8 166.2,500.9 166.3,489.7 166.4,500.9 166.5,491.6 167,503.4 167.5,495.2 168,501.6 168.5,495.8 169,502.9 169,502.1 169.1,495.9 169.2,502.1 169.5,495.6 170,503.3 170.5,495.1 171,502.7 171.5,495.4 172,502.6 172.1,500.7 172.2,492 172.3,500.7 172.5,492.8 173,502.3 173.5,496.9 174,505.6 174.5,499.5 174.5,505.1 174.6,498.2 174.7,505.1 175,506.6 175.5,498.5 176,504.5 176.5,498.5 177,504.6 177.5,495.4 177.6,503.7 177.7,494.3 177.8,503.7 178,505.4 178.5,495.7 179,505.2 179.5,497.9 179.9,505.4 180,496.7 180.1,505.4 180,505.9 180.5,498.8 181,507.4 181.5,502 182,506.7 182.5,503.8 183,507.5 183,507.4 183.1,503.7 183.2,507.4 183.5,504.7 184,507.6 184.5,503.3 185,507.8 185.5,503.1 186,508.3 186.1,507.1 186.2,502.1 186.3,507.1 186.5,502.2 187,508.2 187.5,502.9 188,507.9 188.5,504.5 189,508.5 189.2,507.9 189.3,502.9 189.4,507.9 189.5,504.4 190,507.2 190.5,503.2 191,507 191.5,500.5 191.6,505.4 191.7,499.8 191.8,505.4 192,506.1 192.5,498 193,504.9 193.5,496.7 193.6,502.4 193.7,494.3 193.8,502.4 194,499 194.2,494.6 194.3,467.9 194.4,494.6 194.5,476.8 195,502.8 195.5,476.8 195.5,502.3 195.6,468.7 195.7,502.3 196,495.8 196.5,464.6 197,477.8 197,474.6 197.1,460.9 197.2,474.6 197.5,469.3 198,483.3 198.3,485.8 198.4,473.3 198.5,485.8 198.5,477.5 199,491.7 199.5,478.9 199.8,495.7 199.9,479.6 200,495.7 200,496.6 200.5,483.7 201,496.5 201.5,489.8 201.7,496 201.8,487.3 201.9,496 202,496.9 202.5,486.6 203,493.5 203.2,492.6 203.3,482.7 203.4,492.6 203.5,485.1 204,492.1 204.5,481.8 204.8,487.3 204.9,481.1 205,487.3 205,488.5 205.5,481.9 206,486.3 206.3,485.3 206.4,477.2 206.5,485.3 206.5,477.8 207,486.9 207.5,483.1 207.9,488.7 208,481.9 208.1,488.7 208,489.3 208.5,483.5 209,492 209.5,484.3 210,495.7 210.2,494.3 210.3,485 210.4,494.3 210.5,488.7 211,497.5 211.5,488.1 211.8,499.5 211.9,485.8 212,499.5 212,499.4 212.5,485.9 212.9,496.2 213,481.9 213.1,496.2 213,496.7 213.5,488.6 214,501.5 214.5,490.5 214.9,502 215,492 215.1,502 215,503.7 215.5,492.8 216,503.5 216.5,492.6 217,504.6 217.2,503 217.3,491.2 217.4,503 217.5,492 218,504 218.5,494 219,506.3 219.5,496 219.6,505.4 219.7,493.6 219.8,505.4 220,506 220.5,497.9 221,506.8 221.5,501.1 221.9,507.6 222,501.3 222.1,507.6 222,508.3 222.5,502.7 223,509.3 223.5,502.7 224,509.3 224.5,502 225,508.6 225,508.3 225.1,502.1 225.2,508.3 225.5,502.7 226,509.4 226.5,504.4 227,509.5 227.5,504 228,509.9 228.1,509.3 228.2,503.7 228.3,509.3 228.5,504.4 229,508.5 229.5,501.8 230,507.4 230.5,500.4 230.5,506 230.6,499.8 230.7,506 231,506.7 231.5,500.2 232,505.2 232.5,498.1 232.8,503.4 232.9,495.9 233,503.4 233,503.8 233.5,497.7 234,504 234.5,495.6 235,503.5 235.5,493.9 235.9,501.8 236,491.2 236.1,501.8 236,502.6 236.5,489.9 237,501.4 237.5,483.9 237.5,498.4 237.6,480.3 237.7,498.4 238,498.9 238.5,490.1 239,499.5 239,499.3 239.1,491.2 239.2,499.3 239.5,494.5 240,500.6 240.5,494.8 241,499.5 241.3,499.5 241.4,495.1 241.5,499.5 241.5,496.3 242,500.3 242.5,491 242.4,498.5 242.5,490.4 242.6,498.5 243,500.3 243.5,493.2 244,501.9 244.5,495.9 244.5,501.5 244.6,495.9 244.7,501.5 245,501.7 245.5,494.3 246,500.5 246,500.1 246.1,488.9 246.2,500.1 246.5,488.6 247,500.6 247.5,488.9 247.6,499.3 247.7,485 247.8,499.3 248,502.6 248.5,492 249,500.9 249.1,501 249.2,490.4 249.3,501 249.5,495.6 249.9,508.5 250,502.9 250.1,508.5 250,508.6 250.5,504 251,509.5 251.5,505.6 252,509.3 252.5,504.4 253,510.1 253,509.4 253.1,504.4 253.2,509.4 253.5,505.3 254,510 254.5,504.5 255,509.8 255.5,505.2 256,509.9 256.5,504.6 257,509.1 257.5,503.4 258,509 258.5,504.3 259,508.6 259.2,507.9 259.3,502.9 259.4,507.9 259.5,503 260,508 260.5,504.6 261,508.2 261.5,503.4 262,509.2 262.5,503.5 263,508.8 263.5,504.1 263.9,508.6 264,503.7 264.1,508.6 264,509.7 264.5,504.3 265,508.7 265.5,504.9 266,509.5 266.5,503.3 267,508.6 267.5,503.9 268,508.9 268.5,502.6 269,509.8 269.3,508.3 269.4,502.1 269.5,508.3 269.5,503.8 270,509.5 270.5,503.7 271,509.2 271.5,505.9 271.7,509.6 271.8,505.2 271.9,509.6 272,509.7 272.5,505 273,509.5 273.5,504.4 274,509.2 274.5,504.6 275,509.7 275.5,504.3 276,508.7 276.5,503.1 277,509.7 277.1,508.3 277.2,502.1 277.3,508.3 277.5,503.4 278,509.7 278.5,502.6 279,510 279.5,502.7 280,510.1 280.5,503.5 281,510.2 281,509.1 281.1,502.9 281.2,509.1 281.5,504.9 282,510.3 282.5,504.9 283,510.4 283.5,505.3 284,510.6 284.1,509.6 284.2,505.2 284.3,509.6 284.5,505.5 285,510.8 285.5,506 286,510.4 286.5,504.5 287,510.6 287.2,509.9 287.3,503.7 287.4,509.9 287.5,505.9 288,511.3 288.5,505.8 289,510.8 289.5,505.3 290,510.3 290.3,510 290.4,504.4 290.5,510 290.5,505.3 291,511.1 291.5,507 292,511.1 292.5,507.6 293,511.9 293.5,509.3 293.5,512.1 293.6,508.3 293.7,512.1 294,512.5 294.5,508.8 295,512.9 295.5,508.1 296,513.3 296.5,508 297,512.7 297.5,508.1 298,513.5 298.1,512.5 298.2,507.6 298.3,512.5 298.5,507.7 299,512.5 299.5,509.1 300,512.4 300.5,508 301,512.6 301.5,508 302,512.1 302.5,507.8 302.8,511.3 302.9,507.6 303,511.3 303,511.8 303.5,507.8 304,511.4 304.5,508.7 305,511.9 305.5,507.2 306,511.5 306.5,507.1 307,512.4 307.5,506.2 308,512.4 308.2,511.6 308.3,506 308.4,511.6 308.5,507.1 309,512.2 309.5,506.9 310,512.2 310.5,506.9 311,512.3 311.5,507.5 312,512.1 312.5,507.8 313,512.3 313.5,508.6 313.7,511.4 313.8,508.3 313.9,511.4 314,512 314.5,508.8 315,511.8 315.5,508.7 316,511.6 316.5,508.4 317,511.3 317.5,507.6 318,511.9 318.5,508.2 319,512 319.5,507.5 319.9,511 320,506 320.1,511 320,511.4 320.5,506.2 321,511.2 321.5,507.9 322,511.5 322.5,507.9 323,511.3 323.5,507.1 324,511.7 324.5,507.9 325,511.4 325.5,508.5 326,511.4 326.1,511.3 326.2,507.6 326.3,511.3 326.5,508.4 327,511.3 327.5,508.6 328,511.4 328.5,508.1 329,511.9 329.5,508.1 330,511.5 330.5,508.2 331,511 331.5,508.8 332,511.1 332.3,510.8 332.4,508.3 332.5,510.8 332.5,509 333,511.6 333.5,509.6 334,513 334.5,510.7 335,513.4 335.5,511.2 335.5,513.8 335.6,510.7 335.7,513.8 336,514.1 336.5,511.4 337,514.5 337.5,511.5 338,514.4 338.5,510.8 339,514.3 339.5,511.5 340,514.4 340.5,511.5 341,513.8 341.5,511.2 342,514.3 342.5,511.2 343,514 343.5,511.6 344,514.1 344.5,511.4 344.8,513.8 344.9,510.7 345,513.8 345,514.5 345.5,510.8 346,514.4 346.5,511.4 347,514.3 347.5,511.1 348,514.5 348.5,510.4 349,514.3 349.5,511.1 350,514 350.5,511.1 351,514.3 351.5,510.8 352,514.1 352.5,510.7 353,514.4 353.5,511.2 354,514.4 354.1,513.6 354.2,509.9 354.3,513.6 354.5,511.1 355,513.5 355.5,509.1 356,513.7 356.5,509.9 357,512.9 357.5,508.7 358,513.5 358,512.5 358.1,507.6 358.2,512.5 358.5,508.3 359,512.8 359.5,509.2 360,513.3 360.3,513 360.4,509.9 360.5,513 360.5,510.1 361,513.4 361.5,511 362,513.9 362.5,510.9 363,513.7 363.5,511 364,513.6 364.5,510.2 365,513.5 365.5,510.5 366,514.4 366.5,509.9 366.6,513.6 366.7,509.9 366.8,513.6 367,514.1 367.5,510.6 368,514.3 368.5,510.2 369,514.2 369.5,510.5 370,513.8 370.5,510.1 371,513.9 371.5,511.2 372,514.4 372.5,511.4 373,513.9 373.5,511.4 374,514.3 374.5,510.8 375,514.2 375.5,511.6 375.9,513.7 376,510.4 376.1,513.7 376,514.1 376.5,510.8 377,514.2 377.5,510.7 378,514.6 378.5,510.5 379,513.9 379.5,510.8 380,513.9 380.5,510.8 381,514.5 381.5,511.1 382,514.6 382.5,511 383,513.9 383.5,511.6 384,514.1 384.5,511.3 385,514 385.5,511.8 386,514.4 386.5,511.5 387,514.8 387.5,511.5 388,514.5 388.5,511.6 389,514.4 389.5,511 390,514.9 390.5,511.9 391,514.9 391.5,511.3 391.5,514.2 391.6,510.7 391.7,514.2 392,514.7 392.5,511.1 393,514.4 393.5,512 394,514.8 394.5,511.6 395,514.8 395.5,511.5 396,514.7 396.5,511 397,514.9 397.5,511 398,514.3 398.5,511.4 399,514.8 399.5,512 400,514.2 400.5,511.4 401,514.9 401.5,511.1 402,514.9 402.5,511.3 403,514.9 403.5,511.2 404,514.8 404.5,511.6 405,514.3 405.5,511.9 406,514.7 406.5,511.5 407,514.6 407.5,511.4 408,514.7 408.5,511.1 409,514.8 409.5,512.2 410,514.9 410.5,511.6 411,514.5 411.5,512.1 412,514.9 412.5,511.4 413,514.8 413.5,511.6 414,514.7 414.5,512.2 415,514.4 415.5,512.2 416,515 416.5,511.2 417,514.5 417.5,512.2 418,514.7 418.5,511.9 419,515 419.5,511.7 420,514.3 420.5,512.2 421,514.4 421.5,512.4 422,514.8 422.5,511.4 423,514.9 423.5,511.9 424,514.5 424.5,512.4 425,514.5 425.5,512.1 426,514.5 426.5,511.9 427,514.6 427.5,511.4 428,514.5 428.5,511.7 429,514.4 429.5,512.1 430,514.8 430.3,514.3 430.4,511.4 430.5,514.3 430.5,511.6 431,514.8 431.5,511.8 432,514.3 432.5,510.8 433,514.7 433.5,510.9 434,514.1 434.2,513.6 434.3,509.9 434.4,513.6 434.5,510.3 435,514.3 435.5,509.8 436,514.5 436.5,508.3 437,513.9 437.3,513 437.4,506.8 437.5,513 437.5,509.1 438,513.6 438.5,509.6 438.9,513.3 439,508.3 439.1,513.3 439,514 439.5,509.4 440,514.5 440.5,511.6 441,514.4 441.2,514.3 441.3,511.4 441.4,514.3 441.5,511.7 442,515 442.5,511.7 443,514.5 443.5,511.4 444,514.8 444.5,511.4 445,514.2 445.5,510.6 446,515 446.5,510.5 446.7,514 446.8,509.9 446.9,514 447,514.6 447.5,510.2 448,514.8 448.5,509.4 449,513.8 449,513.4 449.1,506.8 449.2,513.4 449.5,507.6 450,514.6 450.5,507.9 450.6,513 450.7,504.8 450.8,513 451,514.5 451.5,510.3 452,514.8 452.1,514.5 452.2,512.2 452.3,514.5 452.5,512.4 453,514.6 453.5,512.5 454,514.5 454.5,512.6 455,515 455.5,512.4 456,514.9 456.5,512.8 457,514.6 457.5,512.3 458,514.9 458.5,512.4 459,514.6 459.5,512.3 460,515.1 460.5,512.3 461,514.9 461.5,513 462,514.7 462.5,512.9 463,514.6 463.5,513.1 464,515 464.5,512.4 465,514.7 465.5,512.9 466,515.3 466.5,512.8 467,515.1 467.5,512.6 468,515.1 468.5,512.4 469,515.3 469.2,514.7 469.3,512.2 469.4,514.7 469.5,512.5 470,515.1 470.5,513.1 471,515.3 471.5,513.1 472,515.2 472.5,512.6 473,514.8 473.5,513 474,515.1 474.5,512.3 475,515 475.5,512.6 476,514.8 476.5,512.4 477,515.1 477.5,513.1 478,515.3 478.5,512.6 479,514.8 479.5,512.9 480,515.3 480.5,512.3 481,515.3 481.5,513.1 482,515.2 482.5,512.9 483,514.8 483.5,512.5 484,515.2 484.5,513.1 484.8,514.7 484.9,512.2 485,514.7 485,514.9 485.5,512.4 486,514.8 486.5,512.3 487,515 487.5,511.9 488,514.7 488.5,512.7 489,514.7 489.5,512.6 490,515.1 490.5,511.8 491,514.7 491,514.3 491.1,511.4 491.2,514.3 491.5,511.7 492,513.7 492.5,508.7 492.6,513.2 492.7,507.6 492.8,513.2 493,514.2 493.5,506.6 494,513.5 494.5,506.2 494.4,512.2 494.5,502.9 494.6,512.2 495,514.2 495.5,508.5 495.7,513.2 495.8,507.6 495.9,513.2 496,513.7 496.5,511 497,514.6 497.2,514.7 497.3,512.2 497.4,514.7 497.5,512.6 498,515.1 498.5,510.9 498.8,514.2 498.9,509.9 499,514.2 499,515 499.5,511.9 500,515.3 500.3,514.7 500.4,512.2 500.5,514.7 500.5,512.4 501,514.9 501.5,512.5 502,515.3 502.5,512.3 503,515 503.5,512.5 504,514.7 504.5,513 505,514.7 505.5,512.5 506,515.3 506.5,512.3 507,515 507.5,512.9 508,515.1 508.5,512.4 509,515.1 509.5,512.8 510,514.9 510.5,512.9 511,514.8 511.5,512.8 512,515.3 512.5,513 513,515.2 513.5,512.8 514,515.1 514.5,512.9 515,515.2 515.5,512.5 515.9,514.7 516,512.2 516.1,514.7 516,515.2 516.5,512.3 517,514.7 517.5,512.6 518,515 518.5,512.4 519,514.6 519.5,512.4 520,515 520.5,512.6 521,514.7 521.5,512.7 522,515 522.5,512.1 523,514.5 523.5,512.4 523.7,514.3 523.8,511.4 523.9,514.3 524,514.4 524.5,511.4 525,514.7 525.5,511.4 526,514.7 526.5,512.2 527,514.4 527.5,512.1 528,514.5 528.5,512 529,514.4 529.5,511.2 530,514.1 530.5,511.9 531,514.5 531.5,511.4 531.5,513.8 531.6,510.7 531.7,513.8 532,514.1 532.5,510.8 533,514.3 533.5,510.6 534,514.4 534.5,510.6 535,514 535.5,511 536,514.4 536.5,510.1 537,514.3 537.5,510.9 538,514.4 538.5,510.2 539,514.4 539.5,510.8 540,514 540.5,509.6 541,514.5 541.5,510 542,514 542.5,510.3 543,514.5 543.5,509.4 543.9,513.5 544,509.1 544.1,513.5 544,513.8 544.5,509.8 545,514.3 545.5,509.8 546,513.6 546.5,510 547,514.1 547.5,510.2 548,514.3 548.5,511 549,513.8 549.5,510.4 550,514.6 550.5,511.1 551,514.7 551.5,510.2 552,514.1 552.5,510.9 553,514.2 553.5,511 554,514.2 554.5,511.2 554.8,514.2 554.9,510.7 555,514.2 555,514.9 555.5,510.7 556,514.5 556.5,511.5 557,514.2 557.5,510.7 558,514.4 558.5,511 559,514.5 559.5,510.7 560,514.7 560.5,511.2 561,514.1 561.5,510.6 562,514.4 562.5,511.5 563,514 563.5,510.6 564,514.7 564.5,511.6 565,513.9 565.5,511 566,514.8 566.5,511.5 567,514.4 567.5,511.5 568,514.2 568.5,511.3 569,514.6 569.5,511.3 570,514.5 570.5,510.7 571,513.9 571.5,511.3 572,514.5 572.5,510.4 573,514.3 573.5,510.8 574,514.3 574.5,510.2 575,514.4 575.5,511 576,513.8 576.5,510 577,514.1 577.5,511 578,514.5 578.1,513.6 578.2,509.9 578.3,513.6 578.5,511 579,514.4 579.5,510.6 580,514 580.5,510.5 581,514.2 581.5,510.1 582,514 582.5,510 583,513.9 583.5,509.9 584,514.1 584.5,509 585,513.9 585.5,509.7 585.9,513.4 586,508.8 586.1,513.4 586,514.3 586.5,510.2 587,513.6 587.5,509.8 588,514.2 588.5,509.9 589,514.3 589.5,509.5 590,513.9 590.5,509.6 591,513.8 591.5,510.3 592,514.2 592.5,510.6 593,514.1 593.5,510.8 593.7,513.2 593.8,509.9 593.9,513.2 594,513.3 594.5,509 595,513.8 595.2,512.2 595.3,506 595.4,512.2 595.5,507.2 596,513.2 596.5,508.2 597,513.6 597.5,508 598,512.2 598.5,507.7 599,512.5 599.5,506.5 600,512.3 600.5,507.1 601,512.3 601.5,508.1 602,513.5 602.5,507.8 603,512.3 603,512.2 603.1,506 603.2,512.2 603.5,506.2 604,513.2 604.5,507.7 605,513.4 605.5,508.1 606,513.2 606.5,507.9 607,513.4 607.5,507.1 608,512.1 608.5,506.5 609,513.1 609.2,512 609.3,506 609.4,512 609.5,507.1 610,513 610.5,506.1 611,513.2 611.5,506.4 612,512.1 612.5,507.5 613,512.1 613.5,506.4 614,512.3 614.5,506.3 615,512.7 615.5,507.4 616,512.9 616.5,508 617,512.6 617.5,507.3 618,512.1 618.5,506.2 619,512 619.5,507.4 620,512.9 620.5,507.8 621,513.1 621.5,508.2 622,512.6 622.5,506.8 623,512.3 623.5,507 624,513.2 624.5,507.7 624.8,512 624.9,506 625,512 625,513.4 625.5,507.8 626,513.1 626.5,507.4 627,512 627.5,507.2 628,512.5 628.5,506.5 629,513.5 629.5,505.8 630,513.2 630.5,507.2 631,512.8 631.5,506.9 632,512.1 632.5,505.9 633,513.1 633.5,507.1 634,513.4 634.5,505.5 635,512.9 635.5,505.7 636,512.9 636.5,506 637,512.5 637.5,506.8 638,513.1 638.5,506.8 639,512.7 639.5,505.6 640,511.9 640.3,511.8 640.4,505.2 640.5,511.8 640.5,505.8 641,513.2 641.5,505.5 642,512.4 642.5,507.4 643,512.2 643.5,506.2 644,513 644.5,505.3 645,512.4 645.5,506.6 646,512.9 646.5,506.8 647,512.7 647.5,507.5 648,512.3 648.1,511.8 648.2,505.2 648.3,511.8 648.5,505.9 649,512 649.5,505.5 650,512.5 650.5,506.4 651,512.9 651.5,505.7 652,512 652.5,505.7 653,512.4 653.5,507.8 654,512.9 654.5,506.3 655,512.2 655.5,507 655.9,511.6 656,506 656.1,511.6 656,512.1 656.5,507.7 657,512.8 657.5,506.5 658,512.6 658.5,505.9 659,511.7 659.5,507.4 660,512 660.5,505.6 661,511.7 661.5,507.2 662,512.3 662.5,507.1 663,512.3 663.5,505.9 664,512.8 664.5,505.8 665,512.9 665.2,511.4 665.3,505.2 665.4,511.4 665.5,506 666,511.8 666.5,506.8 667,511.7 667.5,506.8 668,512.6 668.5,506.3 669,512.3 669.5,506.8 670,512.1 670.5,505.5 671,511.9 671.5,507.1 672,512.6 672.5,506.9 673,513 673.5,505.3 674,512.6 674.5,506.4 675,511.4 675.3,511.3 675.4,504.4 675.5,511.3 675.5,506.4 676,512.5 676.5,506.9 677,512.5 677.5,505.6 678,511.7 678.5,506.8 679,512.1 679.5,507.1 680,511.8 680.5,506.9 681,512.1 681.5,507.6 682,512.1 682.5,507.3 683,512.4 683.5,507.8 683.9,512.1 684,506.8 684.1,512.1 684,513.1 684.5,507.3 685,512.7 685.5,507.1 686,512.3 686.5,507.4 687,513.5 687.5,507.5 688,512.4 688.5,508.1 689,513.4 689.5,507.6 690,513.6 690.5,508.9 691,512.9 691.5,509.1 692,512.8 692.5,508.1 693,513.1 693.5,508.7 694,512.8 694.5,509.6 694.8,512.7 694.9,508.3 695,512.7 695,512.8 695.5,508.5 696,512.8 696.5,509.9 697,512.8 697.5,508.6 698,513.6 698.5,508.6 699,513.7 699.5,509.8 700,512.9 700.5,509.5 701,512.9 701.5,509.5 702,513.5 702.5,508.7 703,513.7 703.5,509.8 704,513.6 704.5,509.1 705,513.3 705.5,508.7 706,513.5 706.5,509.1 707,513.1 707.5,509.3 708,513.5 708.5,510.2 708.8,512.8 708.9,508.8 709,512.8 709,513.3 709.5,510 710,513.4 710.5,508.4 711,513.8 711.5,508.9 712,513.6 712.5,508.6 713,513.9 713.5,508.8 713.5,513.5 713.6,507.6 713.7,513.5 714,514.7 714.5,510.9 715,514.9 715,514.2 715.1,510.7 715.2,514.2 715.5,511.7 716,514.7 716.5,510.3 717,514.6 717.5,511.1 718,513.7 718.1,513.6 718.2,509.9 718.3,513.6 718.5,510 719,514.2 719.5,510.8 720,514 720.5,510.6 721,514.3 721.5,511 722,514.1 722.5,511.1 723,514.1 723.5,511.3 724,514.7 724.5,511.9 725,514.6 725.5,511.5 725.9,514.3 726,511.4 726.1,514.3 726,514.6 726.5,511.5 727,514.5 727.5,512.2 728,514.5 728.5,512.1 729,514.8 729.5,511.9 730,514.7 730.5,512.4 731,515 731.5,512.4 732,515 732.5,511.7 733,514.8 733.5,512.4 734,514.7 734.5,511.9 735,514.4 735.5,511.7 736,514.7 736.5,512 737,514.5 737.5,512.3 738,514.6 738.5,511.8 739,514.8 739.5,511.6 740,514.4 740.5,512.2 741,514.5 741.5,511.6 742,514.7 742.5,512.3 743,514.6 743.5,511.6 744,514.7 744.5,512.4 745,514.9 745.5,511.7 746,514.8 746.5,512.2 747,514.4 747.5,511.6 748,514.9 748.5,511.7 749,514.8 749.2,514.3 749.3,511.4 749.4,514.3 749.5,512 750,514.9 750.5,511.7 751,514.9 751.5,512.4 752,514.6 752.5,511.3 753,514.4 753.5,511.2 754,514.9 754.5,512.2 755,514.6 755.5,511.8 756,514.9 756.5,511 757,514.7 757,514.4 757.1,510.7 757.2,514.4 757.5,510.8 758,515.1 758.5,511.2 759,515.2 759.5,511.2 760,514.5 760.5,511.6 761,514.7 761.5,511.5 762,514.7 762.5,510.9 763,514.6 763.5,511.2 764,514.4 764.5,511.9 764.8,514.2 764.9,510.7 765,514.2 765,514.6 765.5,511.4 766,514.4 766.5,511.2 767,514.8 767.5,511.6 768,514.3 768.5,511.7 769,514.4 769.5,511.8 770,514.4 770.5,511.5 771,514.6 771.5,511.1 772,514.5 772.5,510.8 773,514.7 773.5,511.7 774,514.4 774.5,511.5 775,514.8 775.5,511.2 776,514.6 776.5,511.5 777,514.7 777.5,511.5 778,514.2 778.5,510.9 779,514.5 779.5,511.7 780,514.7 780.3,514.2 780.4,510.7 780.5,514.2 780.5,511.3 781,514.1 781.5,510.6 782,514.5 782.5,510.7 783,514.2 783.5,511.6 784,514.4 784.5,510.4 785,514.3 785.5,510.9 786,514.1 786.5,510.8 787,514.1 787.5,511.2 788,514.1" fill="none" stroke="#000" stroke-width="1" shape-rendering="crispEdges"/>
<polyline points="96,559.8 130,560.2 170,562.6 210,565 250,567 290,569.8 330,573.4 350,575.8 370,579 390,582.6 400,585.8 410.7,589.3 421.3,592.9 430.2,595.6 439.1,600.5 448,605.9 456.9,611.2 464,616.5 470.2,619.9 474.7,620.4 479.1,619.6 485.3,616.9 492.4,612.4 501.3,605.3 510.2,600 520.9,594.7 531.6,590.8 542.2,587.2 552.9,584.5 560,582 580,577.8 600,575 620,573 640,571 660,569 680,567.4 700,565.8 720,564.6 740,563.8 760,563 788,561.8" fill="none" stroke="#000" stroke-width="1" shape-rendering="crispEdges"/>
<g class="y">
<text x="75.25" y="33" text-anchor="middle" textLength="16.27" lengthAdjust="spacingAndGlyphs">10</text>
</g>
<g class="e">
<text x="87.5" y="26" text-anchor="middle" textLength="7.84" lengthAdjust="spacingAndGlyphs">8</text>
</g>
<g class="y">
<text x="75.25" y="62" text-anchor="middle" textLength="16.27" lengthAdjust="spacingAndGlyphs">10</text>
</g>
<g class="e">
<text x="87.5" y="55" text-anchor="middle" textLength="7.84" lengthAdjust="spacingAndGlyphs">6</text>
</g>
<g class="y">
<text x="75.25" y="95" text-anchor="middle" textLength="16.27" lengthAdjust="spacingAndGlyphs">10</text>
</g>
<g class="e">
<text x="87.5" y="88" text-anchor="middle" textLength="7.84" lengthAdjust="spacingAndGlyphs">4</text>
</g>
<g class="y">
<text x="75.25" y="128" text-anchor="middle" textLength="16.27" lengthAdjust="spacingAndGlyphs">10</text>
</g>
<g class="e">
<text x="88" y="121" text-anchor="middle" textLength="9.01" lengthAdjust="spacingAndGlyphs">2</text>
</g>
<g class="y">
<text x="75.25" y="155" text-anchor="middle" textLength="16.27" lengthAdjust="spacingAndGlyphs">10</text>
</g>
<g class="e">
<text x="87.5" y="148" text-anchor="middle" textLength="7.84" lengthAdjust="spacingAndGlyphs">0</text>
</g>
<g class="y">
<text x="55.5" y="90" text-anchor="middle" textLength="73.34" lengthAdjust="spacingAndGlyphs" transform="rotate(-90 55.5 90)">Count Rate</text>
<text x="75.25" y="189" text-anchor="middle" textLength="33.36" lengthAdjust="spacingAndGlyphs">1000</text>
<text x="79" y="246" text-anchor="middle" textLength="24.79" lengthAdjust="spacingAndGlyphs">100</text>
<text x="83.5" y="298" text-anchor="middle" textLength="16.8" lengthAdjust="spacingAndGlyphs">10</text>
<text x="47" y="232.25" text-anchor="middle" textLength="77.09" lengthAdjust="spacingAndGlyphs" transform="rotate(-90 47 232.25)">Energy (eV)</text>
<text x="83.5" y="319" text-anchor="middle" textLength="16.85" lengthAdjust="spacingAndGlyphs">80</text>
<text x="83.5" y="348" text-anchor="middle" textLength="16.85" lengthAdjust="spacingAndGlyphs">60</text>
<text x="83.5" y="381" text-anchor="middle" textLength="16.85" lengthAdjust="spacingAndGlyphs">40</text>
<text x="83.5" y="413" text-anchor="middle" textLength="16.85" lengthAdjust="spacingAndGlyphs">20</text>
<text x="87.25" y="441" text-anchor="middle" textLength="8.47" lengthAdjust="spacingAndGlyphs">0</text>
<text x="63" y="375.5" text-anchor="middle" textLength="50.93" lengthAdjust="spacingAndGlyphs" transform="rotate(-90 63 375.5)">|B| (nT)</text>
</g>
<g class="s">
<text x="81.75" y="461" text-anchor="middle" textLength="20.68" lengthAdjust="spacingAndGlyphs">1.2</text>
<text x="81.75" y="469" text-anchor="middle" textLength="20.68" lengthAdjust="spacingAndGlyphs">1.0</text>
<text x="81" y="479" text-anchor="middle" textLength="22.44" lengthAdjust="spacingAndGlyphs">0.8</text>
<text x="81" y="490" text-anchor="middle" textLength="22.49" lengthAdjust="spacingAndGlyphs">0.6</text>
<text x="80.5" y="501" text-anchor="middle" textLength="21.52" lengthAdjust="spacingAndGlyphs">0.4</text>
<text x="81" y="511" text-anchor="middle" textLength="22.44" lengthAdjust="spacingAndGlyphs">0.2</text>
<text x="81" y="518" text-anchor="middle" textLength="22.49" lengthAdjust="spacingAndGlyphs">0.0</text>
<text x="58.5" y="485.5" text-anchor="middle" textLength="67.24" lengthAdjust="spacingAndGlyphs" transform="rotate(-90 58.5 485.5)">Brms (nT)</text>
</g>
<g class="y">
<text x="75.25" y="539" text-anchor="middle" textLength="16.27" lengthAdjust="spacingAndGlyphs">10</text>
</g>
<g class="e">
<text x="87.5" y="532" text-anchor="middle" textLength="10.61" lengthAdjust="spacingAndGlyphs">5</text>
</g>
<g class="y">
<text x="75.25" y="568" text-anchor="middle" textLength="16.27" lengthAdjust="spacingAndGlyphs">10</text>
</g>
<g class="e">
<text x="87.5" y="561" text-anchor="middle" textLength="7.84" lengthAdjust="spacingAndGlyphs">4</text>
</g>
<g class="y">
<text x="75.25" y="601" text-anchor="middle" textLength="16.27" lengthAdjust="spacingAndGlyphs">10</text>
</g>
<g class="e">
<text x="87" y="594" text-anchor="middle" textLength="9.18" lengthAdjust="spacingAndGlyphs">3</text>
</g>
<g class="y">
<text x="75.25" y="628" text-anchor="middle" textLength="16.27" lengthAdjust="spacingAndGlyphs">10</text>
</g>
<g class="e">
<text x="88" y="621" text-anchor="middle" textLength="9.01" lengthAdjust="spacingAndGlyphs">2</text>
</g>
<g class="y">
<text x="55.5" y="579" text-anchor="middle" textLength="87.28" lengthAdjust="spacingAndGlyphs" transform="rotate(-90 55.5 579)">Altitude (km)</text>
</g>
<g class="x">
<text x="19" y="646" text-anchor="middle" textLength="22.78" lengthAdjust="spacingAndGlyphs">doy</text>
<text x="28" y="658" text-anchor="middle" textLength="41.98" lengthAdjust="spacingAndGlyphs">hhmm</text>
<text x="50.25" y="670" text-anchor="middle" textLength="85.15" lengthAdjust="spacingAndGlyphs">1997 Oct 26</text>
<text x="108.75" y="646" text-anchor="middle" textLength="55.26" lengthAdjust="spacingAndGlyphs">299.292</text>
<text x="108" y="658" text-anchor="middle" textLength="35.16" lengthAdjust="spacingAndGlyphs">0700</text>
<text x="315.1" y="646" text-anchor="middle" textLength="56.21" lengthAdjust="spacingAndGlyphs">299.333</text>
<text x="314.85" y="658" text-anchor="middle" textLength="35.08" lengthAdjust="spacingAndGlyphs">0800</text>
<text x="521.95" y="646" text-anchor="middle" textLength="56.2" lengthAdjust="spacingAndGlyphs">299.375</text>
<text x="521.7" y="658" text-anchor="middle" textLength="35.05" lengthAdjust="spacingAndGlyphs">0900</text>
<text x="728.3" y="646" text-anchor="middle" textLength="55.26" lengthAdjust="spacingAndGlyphs">299.417</text>
<text x="728.05" y="658" text-anchor="middle" textLength="36.04" lengthAdjust="spacingAndGlyphs">1000</text>
</g>
</svg></body></html>
